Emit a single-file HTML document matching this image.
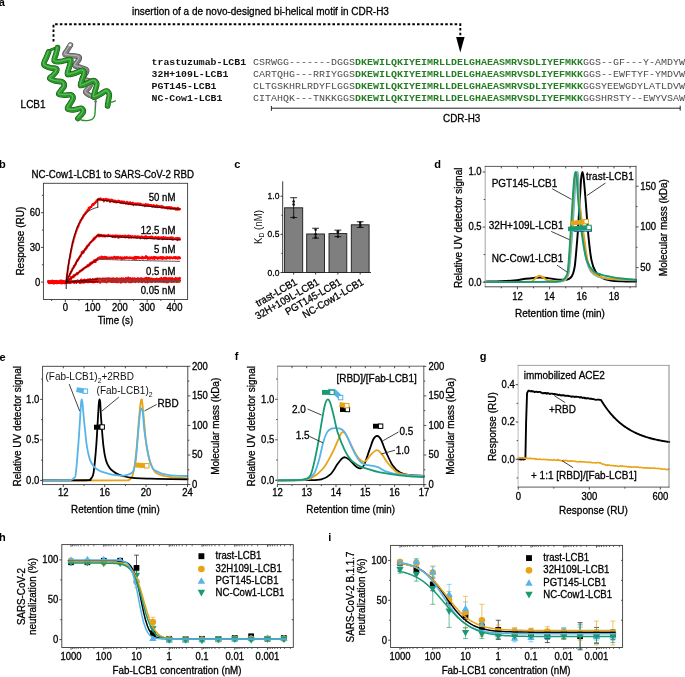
<!DOCTYPE html>
<html><head><meta charset="utf-8"><style>
html,body{margin:0;padding:0;background:#fff;}
svg{display:block;}
svg{font-family:"Liberation Sans",sans-serif;will-change:transform;}
</style></head><body>
<svg width="685" height="677" viewBox="0 0 685 677">
<rect width="685" height="677" fill="#fff"/>
<text transform="translate(-1.2 5.6)" font-size="11" text-anchor="start" font-weight="bold" fill="#000" font-family="&quot;Liberation Sans&quot;, sans-serif">a</text>
<text transform="translate(132 15) scale(1 1.08)" font-size="10" text-anchor="start" font-weight="normal" fill="#000" font-family="&quot;Liberation Sans&quot;, sans-serif" stroke="#000" stroke-width="0.28">insertion of a de novo-designed bi-helical motif in CDR-H3</text>
<path d="M53.5,41.5 V24.3 H460.3 V37" fill="none" stroke="#000" stroke-width="1.9" stroke-dasharray="2.6,2.1"/>
<polygon points="456.1,37.1 464.6,37.1 460.3,52.6" fill="#000"/>
<text transform="translate(20.6 108.4) scale(1 1.08)" font-size="10" text-anchor="start" font-weight="normal" fill="#000" font-family="&quot;Liberation Sans&quot;, sans-serif" stroke="#000" stroke-width="0.28">LCB1</text>
<g transform="translate(0 64.6) scale(1 0.87)">
<text x="151.6" y="0" font-family="&quot;Liberation Mono&quot;, monospace" font-size="9.85" font-weight="bold" fill="#111">trastuzumab-LCB1</text>
<text x="253" y="0" font-family="&quot;Liberation Mono&quot;, monospace" font-size="10" xml:space="preserve" textLength="432" lengthAdjust="spacing"><tspan fill="#4a4a4a">CSRWGG-------DGGS</tspan><tspan fill="#237f23" font-weight="bold">DKEWILQKIYEIMRLLDELGHAEASMRVSDLIYEFMKK</tspan><tspan fill="#4a4a4a">GGS--GF---Y-AMDYW</tspan></text>
</g>
<g transform="translate(0 76.5) scale(1 0.87)">
<text x="151.6" y="0" font-family="&quot;Liberation Mono&quot;, monospace" font-size="9.85" font-weight="bold" fill="#111">32H+109L-LCB1</text>
<text x="253" y="0" font-family="&quot;Liberation Mono&quot;, monospace" font-size="10" xml:space="preserve" textLength="432" lengthAdjust="spacing"><tspan fill="#4a4a4a">CARTQHG---RRIYGGS</tspan><tspan fill="#237f23" font-weight="bold">DKEWILQKIYEIMRLLDELGHAEASMRVSDLIYEFMKK</tspan><tspan fill="#4a4a4a">GGS--EWFTYF-YMDVW</tspan></text>
</g>
<g transform="translate(0 88.5) scale(1 0.87)">
<text x="151.6" y="0" font-family="&quot;Liberation Mono&quot;, monospace" font-size="9.85" font-weight="bold" fill="#111">PGT145-LCB1</text>
<text x="253" y="0" font-family="&quot;Liberation Mono&quot;, monospace" font-size="10" xml:space="preserve" textLength="432" lengthAdjust="spacing"><tspan fill="#4a4a4a">CLTGSKHRLRDYFLGGS</tspan><tspan fill="#237f23" font-weight="bold">DKEWILQKIYEIMRLLDELGHAEASMRVSDLIYEFMKK</tspan><tspan fill="#4a4a4a">GGSYEEWGDYLATLDVW</tspan></text>
</g>
<g transform="translate(0 100.6) scale(1 0.87)">
<text x="151.6" y="0" font-family="&quot;Liberation Mono&quot;, monospace" font-size="9.85" font-weight="bold" fill="#111">NC-Cow1-LCB1</text>
<text x="253" y="0" font-family="&quot;Liberation Mono&quot;, monospace" font-size="10" xml:space="preserve" textLength="432" lengthAdjust="spacing"><tspan fill="#4a4a4a">CITAHQK---TNKKGGS</tspan><tspan fill="#237f23" font-weight="bold">DKEWILQKIYEIMRLLDELGHAEASMRVSDLIYEFMKK</tspan><tspan fill="#4a4a4a">GGSHRSTY--EWYVSAW</tspan></text>
</g>
<line x1="271.4" y1="108.2" x2="680.2" y2="108.2" stroke="#222" stroke-width="1"/>
<line x1="271.4" y1="106" x2="271.4" y2="110.8" stroke="#222" stroke-width="1"/>
<line x1="680.2" y1="105.8" x2="680.2" y2="110.6" stroke="#222" stroke-width="1"/>
<text transform="translate(443 121.7) scale(1 1.08)" font-size="9.9" text-anchor="start" font-weight="normal" fill="#000" font-family="&quot;Liberation Sans&quot;, sans-serif" stroke="#000" stroke-width="0.28">CDR-H3</text>
<path d="M70.5,45 C69.92,45.92 67.92,48.92 67,50.5 C66.08,52.08 64.25,53.65 65,54.5 C65.75,55.35 69.25,55.25 71.5,55.6 C73.75,55.95 77.22,56.03 78.5,56.6 C79.78,57.17 79.62,57.85 79.2,59 C78.78,60.15 76.7,62.33 76,63.5 C75.3,64.67 74.25,65.33 75,66 C75.75,66.67 78.67,66.95 80.5,67.5 C82.33,68.05 85,68.55 86,69.3 C87,70.05 87,70.72 86.5,72 C86,73.28 83.67,75.83 83,77 C82.33,78.17 81.67,78.42 82.5,79 C83.33,79.58 86.5,79.92 88,80.5 C89.5,81.08 91.33,81.33 91.5,82.5 C91.67,83.67 90,85.92 89,87.5 C88,89.08 85.33,90.67 85.5,92 C85.67,93.33 88.42,94.67 90,95.5 C91.58,96.33 94.17,96.75 95,97" fill="none" stroke="#404040" stroke-width="5.3" stroke-linejoin="round" stroke-linecap="round"/>
<path d="M70.5,45 C69.92,45.92 67.92,48.92 67,50.5 C66.08,52.08 64.25,53.65 65,54.5 C65.75,55.35 69.25,55.25 71.5,55.6 C73.75,55.95 77.22,56.03 78.5,56.6 C79.78,57.17 79.62,57.85 79.2,59 C78.78,60.15 76.7,62.33 76,63.5 C75.3,64.67 74.25,65.33 75,66 C75.75,66.67 78.67,66.95 80.5,67.5 C82.33,68.05 85,68.55 86,69.3 C87,70.05 87,70.72 86.5,72 C86,73.28 83.67,75.83 83,77 C82.33,78.17 81.67,78.42 82.5,79 C83.33,79.58 86.5,79.92 88,80.5 C89.5,81.08 91.33,81.33 91.5,82.5 C91.67,83.67 90,85.92 89,87.5 C88,89.08 85.33,90.67 85.5,92 C85.67,93.33 88.42,94.67 90,95.5 C91.58,96.33 94.17,96.75 95,97" fill="none" stroke="#808080" stroke-width="4.3" stroke-linejoin="round" stroke-linecap="round"/>
<path d="M70.1,44.5 C69.52,45.42 67.52,48.42 66.6,50 C65.68,51.58 63.85,53.15 64.6,54 C65.35,54.85 68.85,54.75 71.1,55.1 C73.35,55.45 76.82,55.53 78.1,56.1 C79.38,56.67 79.22,57.35 78.8,58.5 C78.38,59.65 76.3,61.83 75.6,63 C74.9,64.17 73.85,64.83 74.6,65.5 C75.35,66.17 78.27,66.45 80.1,67 C81.93,67.55 84.6,68.05 85.6,68.8 C86.6,69.55 86.6,70.22 86.1,71.5 C85.6,72.78 83.27,75.33 82.6,76.5 C81.93,77.67 81.27,77.92 82.1,78.5 C82.93,79.08 86.1,79.42 87.6,80 C89.1,80.58 90.93,80.83 91.1,82 C91.27,83.17 89.6,85.42 88.6,87 C87.6,88.58 84.93,90.17 85.1,91.5 C85.27,92.83 88.02,94.17 89.6,95 C91.18,95.83 93.77,96.25 94.6,96.5" fill="none" stroke="#d8d8d8" stroke-width="1.2" stroke-linejoin="round" stroke-linecap="round" stroke-opacity="0.55"/>
<rect x="68.2" y="43.6" width="3.6" height="2.8" rx="1" fill="#f4f4f4" stroke="#777" stroke-width="0.6" transform="rotate(-35 70 45)"/>
<path d="M48,53.5 C48.25,53.02 48.67,51.37 49.5,50.6 C50.33,49.83 51.67,49.37 53,48.9 C54.33,48.43 56.75,47.98 57.5,47.8" fill="none" stroke="#0f4f0f" stroke-width="2.6" stroke-linejoin="round" stroke-linecap="round"/>
<path d="M48,53.5 C48.25,53.02 48.67,51.37 49.5,50.6 C50.33,49.83 51.67,49.37 53,48.9 C54.33,48.43 56.75,47.98 57.5,47.8" fill="none" stroke="#2a962a" stroke-width="1.8" stroke-linejoin="round" stroke-linecap="round"/>
<path d="M48.6,52 C48.27,52.83 47.38,54.93 46.6,57 C45.82,59.07 43.4,62.63 43.9,64.4 C44.4,66.17 47.58,66.9 49.6,67.6 C51.62,68.3 54.85,68.03 56,68.6 C57.15,69.17 57.03,69.85 56.5,71 C55.97,72.15 53.92,74.23 52.8,75.5 C51.68,76.77 49.35,77.68 49.8,78.6 C50.25,79.52 53.43,80.43 55.5,81 C57.57,81.57 60.75,81.17 62.2,82 C63.65,82.83 64.4,84.58 64.2,86 C64,87.42 61.9,89.13 61,90.5 C60.1,91.87 58.22,93.42 58.8,94.2 C59.38,94.98 62.47,95.1 64.5,95.2 C66.53,95.3 69.58,94.25 71,94.8 C72.42,95.35 73.17,96.97 73,98.5 C72.83,100.03 70.9,102.28 70,104 C69.1,105.72 66.85,107.83 67.6,108.8 C68.35,109.77 72.23,109.9 74.5,109.8 C76.77,109.7 79.72,107.87 81.2,108.2 C82.68,108.53 83.52,110.58 83.4,111.8 C83.28,113.02 81.42,114.38 80.5,115.5 C79.58,116.62 78.33,118 77.9,118.5" fill="none" stroke="#0f4f0f" stroke-width="5.6" stroke-linejoin="round" stroke-linecap="round"/>
<path d="M48.6,52 C48.27,52.83 47.38,54.93 46.6,57 C45.82,59.07 43.4,62.63 43.9,64.4 C44.4,66.17 47.58,66.9 49.6,67.6 C51.62,68.3 54.85,68.03 56,68.6 C57.15,69.17 57.03,69.85 56.5,71 C55.97,72.15 53.92,74.23 52.8,75.5 C51.68,76.77 49.35,77.68 49.8,78.6 C50.25,79.52 53.43,80.43 55.5,81 C57.57,81.57 60.75,81.17 62.2,82 C63.65,82.83 64.4,84.58 64.2,86 C64,87.42 61.9,89.13 61,90.5 C60.1,91.87 58.22,93.42 58.8,94.2 C59.38,94.98 62.47,95.1 64.5,95.2 C66.53,95.3 69.58,94.25 71,94.8 C72.42,95.35 73.17,96.97 73,98.5 C72.83,100.03 70.9,102.28 70,104 C69.1,105.72 66.85,107.83 67.6,108.8 C68.35,109.77 72.23,109.9 74.5,109.8 C76.77,109.7 79.72,107.87 81.2,108.2 C82.68,108.53 83.52,110.58 83.4,111.8 C83.28,113.02 81.42,114.38 80.5,115.5 C79.58,116.62 78.33,118 77.9,118.5" fill="none" stroke="#2a962a" stroke-width="4.6" stroke-linejoin="round" stroke-linecap="round"/>
<path d="M48.2,51.5 C47.87,52.33 46.98,54.43 46.2,56.5 C45.42,58.57 43,62.13 43.5,63.9 C44,65.67 47.18,66.4 49.2,67.1 C51.22,67.8 54.45,67.53 55.6,68.1 C56.75,68.67 56.63,69.35 56.1,70.5 C55.57,71.65 53.52,73.73 52.4,75 C51.28,76.27 48.95,77.18 49.4,78.1 C49.85,79.02 53.03,79.93 55.1,80.5 C57.17,81.07 60.35,80.67 61.8,81.5 C63.25,82.33 64,84.08 63.8,85.5 C63.6,86.92 61.5,88.63 60.6,90 C59.7,91.37 57.82,92.92 58.4,93.7 C58.98,94.48 62.07,94.6 64.1,94.7 C66.13,94.8 69.18,93.75 70.6,94.3 C72.02,94.85 72.77,96.47 72.6,98 C72.43,99.53 70.5,101.78 69.6,103.5 C68.7,105.22 66.45,107.33 67.2,108.3 C67.95,109.27 71.83,109.4 74.1,109.3 C76.37,109.2 79.32,107.37 80.8,107.7 C82.28,108.03 83.12,110.08 83,111.3 C82.88,112.52 81.02,113.88 80.1,115 C79.18,116.12 77.93,117.5 77.5,118" fill="none" stroke="#7ee07e" stroke-width="1.29" stroke-linejoin="round" stroke-linecap="round" stroke-opacity="0.55"/>
<path d="M57.5,47.6 C57.25,48.67 56.53,51.77 56,54 C55.47,56.23 53.47,59.75 54.3,61 C55.13,62.25 58.47,61.75 61,61.5 C63.53,61.25 67.87,59.5 69.5,59.5 C71.13,59.5 70.88,60.08 70.8,61.5 C70.72,62.92 69.53,65.85 69,68 C68.47,70.15 66.68,73.53 67.6,74.4 C68.52,75.27 72.03,73.87 74.5,73.2 C76.97,72.53 80.78,70.35 82.4,70.4 C84.02,70.45 84.27,71.9 84.2,73.5 C84.13,75.1 82.6,77.98 82,80 C81.4,82.02 79.77,85.02 80.6,85.6 C81.43,86.18 84.85,84.33 87,83.5 C89.15,82.67 91.87,80.52 93.5,80.6 C95.13,80.68 96.55,82.27 96.8,84 C97.05,85.73 95.5,88.8 95,91 C94.5,93.2 92.97,96.62 93.8,97.2 C94.63,97.78 97.93,95.53 100,94.5 C102.07,93.47 104.65,91 106.2,91 C107.75,91 108.93,92.92 109.3,94.5 C109.67,96.08 108.68,98.58 108.4,100.5 C108.12,102.42 107.73,105.08 107.6,106" fill="none" stroke="#0f4f0f" stroke-width="5.6" stroke-linejoin="round" stroke-linecap="round"/>
<path d="M57.5,47.6 C57.25,48.67 56.53,51.77 56,54 C55.47,56.23 53.47,59.75 54.3,61 C55.13,62.25 58.47,61.75 61,61.5 C63.53,61.25 67.87,59.5 69.5,59.5 C71.13,59.5 70.88,60.08 70.8,61.5 C70.72,62.92 69.53,65.85 69,68 C68.47,70.15 66.68,73.53 67.6,74.4 C68.52,75.27 72.03,73.87 74.5,73.2 C76.97,72.53 80.78,70.35 82.4,70.4 C84.02,70.45 84.27,71.9 84.2,73.5 C84.13,75.1 82.6,77.98 82,80 C81.4,82.02 79.77,85.02 80.6,85.6 C81.43,86.18 84.85,84.33 87,83.5 C89.15,82.67 91.87,80.52 93.5,80.6 C95.13,80.68 96.55,82.27 96.8,84 C97.05,85.73 95.5,88.8 95,91 C94.5,93.2 92.97,96.62 93.8,97.2 C94.63,97.78 97.93,95.53 100,94.5 C102.07,93.47 104.65,91 106.2,91 C107.75,91 108.93,92.92 109.3,94.5 C109.67,96.08 108.68,98.58 108.4,100.5 C108.12,102.42 107.73,105.08 107.6,106" fill="none" stroke="#2a962a" stroke-width="4.6" stroke-linejoin="round" stroke-linecap="round"/>
<path d="M57.1,47.1 C56.85,48.17 56.13,51.27 55.6,53.5 C55.07,55.73 53.07,59.25 53.9,60.5 C54.73,61.75 58.07,61.25 60.6,61 C63.13,60.75 67.47,59 69.1,59 C70.73,59 70.48,59.58 70.4,61 C70.32,62.42 69.13,65.35 68.6,67.5 C68.07,69.65 66.28,73.03 67.2,73.9 C68.12,74.77 71.63,73.37 74.1,72.7 C76.57,72.03 80.38,69.85 82,69.9 C83.62,69.95 83.87,71.4 83.8,73 C83.73,74.6 82.2,77.48 81.6,79.5 C81,81.52 79.37,84.52 80.2,85.1 C81.03,85.68 84.45,83.83 86.6,83 C88.75,82.17 91.47,80.02 93.1,80.1 C94.73,80.18 96.15,81.77 96.4,83.5 C96.65,85.23 95.1,88.3 94.6,90.5 C94.1,92.7 92.57,96.12 93.4,96.7 C94.23,97.28 97.53,95.03 99.6,94 C101.67,92.97 104.25,90.5 105.8,90.5 C107.35,90.5 108.53,92.42 108.9,94 C109.27,95.58 108.28,98.08 108,100 C107.72,101.92 107.33,104.58 107.2,105.5" fill="none" stroke="#7ee07e" stroke-width="1.29" stroke-linejoin="round" stroke-linecap="round" stroke-opacity="0.55"/>
<path d="M107.6,104 C108.25,103.7 110.2,102.73 111.5,102.2 C112.8,101.67 114.75,101.03 115.4,100.8" fill="none" stroke="#2a962a" stroke-width="1.3" stroke-linejoin="round" stroke-linecap="round"/>
<path d="M78,118.6 C78.67,118.87 80.5,119.87 82,120.2 C83.5,120.53 85.33,120.73 87,120.6 C88.67,120.47 90.73,120.17 92,119.4 C93.27,118.63 94.07,117.57 94.6,116 C95.13,114.43 95.05,112.17 95.2,110 C95.35,107.83 95.45,104.17 95.5,103" fill="none" stroke="#2a962a" stroke-width="1.4" stroke-linejoin="round" stroke-linecap="round"/>
<line x1="95.5" y1="108" x2="95.6" y2="101" stroke="#666" stroke-width="1.1"/>
<polygon points="94.0,102.2 97.2,102.2 95.6,98.2" fill="#6a6a6a"/>
<text transform="translate(-0.9 167.9)" font-size="11" text-anchor="start" font-weight="bold" fill="#000" font-family="&quot;Liberation Sans&quot;, sans-serif">b</text>
<text transform="translate(31.5 178.2) scale(1 1.08)" font-size="9.7" text-anchor="start" font-weight="normal" fill="#000" font-family="&quot;Liberation Sans&quot;, sans-serif" stroke="#000" stroke-width="0.28">NC-Cow1-LCB1 to SARS-CoV-2 RBD</text>
<polyline points="48.37,281.17 48.62,281.87 48.87,282.05 49.11,283.07 49.36,282.24 49.6,282.28 49.85,282.14 50.09,282.43 50.34,282.12 50.59,282.35 50.83,282.78 51.08,281.64 51.32,281.64 51.57,281.21 51.81,282.07 52.06,282.31 52.31,282.38 52.55,282.91 52.8,281.59 53.04,282.67 53.29,282.72 53.53,282.21 53.78,281.33 54.03,281.98 54.27,282.63 54.52,282.47 54.76,281.77 55.01,282.18 55.25,282.5 55.5,282.22 55.74,281.71 55.99,281.07 56.24,282.75 56.48,282.43 56.73,282.52 56.97,283.36 57.22,282.58 57.46,282.63 57.71,281.51 57.96,282.17 58.2,282.95 58.45,281.76 58.69,282.29 58.94,283.01 59.18,282.41 59.43,282.41 59.68,282.55 59.92,282.08 60.17,283.27 60.41,282.24 60.66,281.57 60.9,281.66 61.15,281.52 61.4,281.52 61.64,281.33 61.89,282.68 62.13,281.66 62.38,283.07 62.62,282.41 62.87,283.1 63.12,281.55 63.36,281.41 63.61,282.2 63.85,281.18 64.1,282.45 64.34,282.02 64.59,282.02 64.84,282.65 65.08,281.87 65.33,281.09 65.57,282.63 65.82,281.63 66.06,282.18 66.31,280.26 66.56,278.92 66.8,276.86 67.05,274.97 67.29,273.32 67.54,272.38 67.78,269.18 68.03,268.92 68.28,266.43 68.52,264.63 68.77,263.82 69.01,261.79 69.26,259.78 69.5,258.96 69.75,258.01 70,257.71 70.24,255.37 70.49,253.88 70.73,252.59 70.98,251.6 71.22,249.72 71.47,249.06 71.72,247.69 71.96,246.18 72.21,245.91 72.45,244.58 72.7,242.29 72.94,241.97 73.19,242.13 73.44,240.56 73.68,239.31 73.93,238.07 74.17,237.77 74.42,237.27 74.66,236.55 74.91,235.02 75.16,234.41 75.4,234.07 75.65,233.15 75.89,232.54 76.14,231.23 76.38,231.27 76.63,229.97 76.88,229.11 77.12,228.65 77.37,228.7 77.61,226.94 77.86,227.39 78.1,226.22 78.35,226.25 78.6,226.2 78.84,224.61 79.09,224.03 79.33,223.69 79.58,222.98 79.82,222.95 80.07,222.49 80.31,221.71 80.56,220.14 80.81,220.24 81.05,220.47 81.3,219.45 81.54,219.55 81.79,219.1 82.03,217.98 82.28,218.28 82.53,218.47 82.77,217.66 83.02,216.74 83.26,216.33 83.51,215.36 83.75,216 84,214.87 84.25,214.66 84.49,214.6 84.74,213.73 84.98,213.56 85.23,213.92 85.47,212.58 85.72,213.43 85.97,212.44 86.21,212.14 86.46,211.6 86.7,211.89 86.95,211.21 87.19,210.96 87.44,210.07 87.69,210.7 87.93,209.95 88.18,209.83 88.42,210.08 88.67,207.73 88.91,208.88 89.16,209.34 89.41,207.56 89.65,208.57 89.9,207.55 90.14,207.03 90.39,207.55 90.63,207.18 90.88,206.98 91.13,206.51 91.37,207.03 91.62,206.58 91.86,205.76 92.11,204.9 92.35,204.87 92.6,204.05 92.85,204.35 93.09,204.74 93.34,204.3 93.58,205.06 93.83,204.27 94.07,204.07 94.32,203.17 94.57,202.75 94.81,203.15 95.06,202.94 95.3,203.22 95.55,202.26 95.79,201.84 96.04,201.52 96.29,201.94 96.53,200.28 96.78,200.48 97.02,200.94 97.27,200.95 97.51,200.63 97.76,200.17 98.01,199.29 98.25,199.06 98.5,198.94 98.74,198.66 98.99,198.81 99.23,199.49 99.48,199.26 99.73,199.69 99.97,199.83 100.22,198.56 100.46,199.82 100.71,198.57 100.95,199.82 101.2,199.54 101.45,199.13 101.69,199.72 101.94,199.55 102.18,199.91 102.43,200.07 102.67,199.93 102.92,200.22 103.17,199.06 103.41,200.02 103.66,199.07 103.9,201.39 104.15,200.02 104.39,199.76 104.64,200.24 104.89,199.55 105.13,199.81 105.38,200.32 105.62,199.98 105.87,198.77 106.11,200.13 106.36,200.14 106.6,200.55 106.85,200.28 107.1,201.05 107.34,200.52 107.59,199.16 107.83,199.92 108.08,200.17 108.32,199.96 108.57,199.58 108.82,200.28 109.06,199.54 109.31,200.09 109.55,200.59 109.8,199.81 110.04,201.97 110.29,201.07 110.54,200.66 110.78,201.3 111.03,200.94 111.27,201.22 111.52,201.26 111.76,199.53 112.01,200.65 112.26,201.03 112.5,200.35 112.75,201.19 112.99,200.63 113.24,200.94 113.48,200.31 113.73,201.92 113.98,200.81 114.22,201.18 114.47,201.87 114.71,200.75 114.96,201.79 115.2,200.52 115.45,201.12 115.7,201.06 115.94,201.41 116.19,201.01 116.43,202.48 116.68,201.5 116.92,201.9 117.17,201.45 117.42,201.65 117.66,201.34 117.91,202.12 118.15,200.76 118.4,200.54 118.64,201.88 118.89,201.81 119.14,201.69 119.38,201.21 119.63,200.91 119.87,202.55 120.12,202.27 120.36,202.54 120.61,202.59 120.86,202.9 121.1,201.88 121.35,202.71 121.59,201.35 121.84,201.69 122.08,202.73 122.33,202.76 122.58,202.57 122.82,201.55 123.07,202.75 123.31,203.12 123.56,202.39 123.8,202.2 124.05,202.77 124.3,201.61 124.54,202.36 124.79,202.28 125.03,202.99 125.28,202.6 125.52,202.69 125.77,203.82 126.02,202.52 126.26,203.63 126.51,202.74 126.75,203.52 127,201.73 127.24,202.64 127.49,202.4 127.74,202.39 127.98,203.59 128.23,204.12 128.47,203.13 128.72,202.52 128.96,202.97 129.21,202.64 129.46,202.59 129.7,203.89 129.95,202.99 130.19,202.15 130.44,203.5 130.68,204.29 130.93,203.38 131.17,203.53 131.42,203.1 131.67,203.81 131.91,203.33 132.16,204.56 132.4,202.99 132.65,202.64 132.89,202.82 133.14,204.31 133.39,203.39 133.63,205.14 133.88,203.47 134.12,203.68 134.37,204.19 134.61,203.52 134.86,203.66 135.11,203.27 135.35,203.73 135.6,203.7 135.84,204.86 136.09,204.49 136.33,204.16 136.58,203.79 136.83,203.97 137.07,203.22 137.32,204.48 137.56,204.18 137.81,203.96 138.05,204.24 138.3,203.89 138.55,204.47 138.79,203.47 139.04,204.4 139.28,203.69 139.53,204.31 139.77,203.55 140.02,205.08 140.27,204.12 140.51,204.64 140.76,204.32 141,203.85 141.25,205.1 141.49,205.22 141.74,205.08 141.99,204.46 142.23,205.61 142.48,204.6 142.72,205.35 142.97,205.31 143.21,204.93 143.46,204.57 143.71,205.13 143.95,205.09 144.2,204.88 144.44,205.03 144.69,206.31 144.93,205.17 145.18,204.93 145.43,204.44 145.67,203.97 145.92,204.72 146.16,205.06 146.41,205.63 146.65,205.11 146.9,204.78 147.15,204.56 147.39,205.7 147.64,205.15 147.88,204.88 148.13,204.37 148.37,205.23 148.62,205.68 148.87,205.78 149.11,205.64 149.36,205.82 149.6,205.08 149.85,204.99 150.09,205.19 150.34,204.98 150.59,205.87 150.83,205.46 151.08,205.89 151.32,205.7 151.57,205.11 151.81,205.79 152.06,206.78 152.31,205.97 152.55,206.24 152.8,206.68 153.04,206.34 153.29,205.46 153.53,205.11 153.78,206.27 154.02,205.52 154.27,205.46 154.52,206.71 154.76,206.16 155.01,206.19 155.25,206.1 155.5,207.05 155.74,206.44 155.99,205.73 156.24,205.66 156.48,205.39 156.73,206.55 156.97,205.43 157.22,206.08 157.46,207.17 157.71,206.09 157.96,206.7 158.2,206.28 158.45,206.63 158.69,205.98 158.94,206.51 159.18,206.82 159.43,206.2 159.68,206.59 159.92,206.97 160.17,206.12 160.41,207.03 160.66,207.18 160.9,207.16 161.15,207.67 161.4,207.22 161.64,206 161.89,207.47 162.13,207.02 162.38,207.63 162.62,207.4 162.87,206.32 163.12,206.68 163.36,207.49 163.61,207.2 163.85,207.66 164.1,207.67 164.34,207.77 164.59,207.79 164.84,207.18 165.08,207.07 165.33,207.16 165.57,207.53 165.82,208.18 166.06,207.53 166.31,208.01 166.56,207.1 166.8,207.3 167.05,207.23 167.29,207.83 167.54,208.62 167.78,207.21 168.03,207.1 168.28,208.54 168.52,207.72 168.77,207.2 169.01,208.41 169.26,206.96 169.5,208.1 169.75,208.5 170,207.26 170.24,207.85 170.49,208.37 170.73,207.6 170.98,209.11 171.22,207.18 171.47,208.58 171.72,208.03 171.96,208.42 172.21,208.01 172.45,207.81 172.7,208.73 172.94,207.92 173.19,208.51 173.44,208.75 173.68,208.53 173.93,208.97 174.17,208.89 174.42,208.01 174.66,208.62 174.91,207.97 175.16,208.37 175.4,209.16 175.65,209.64 175.89,209.04 176.14,208.58 176.38,208.74 176.63,209.21 176.88,208.28 177.12,209.74 177.37,209.52 177.61,208.83 177.86,207.78 178.1,208.74 178.35,209.51 178.59,208.7 178.84,208.69 179.09,208.58 179.33,209.31 179.58,209.55 179.82,209.1 180.07,208.97" fill="none" stroke="#ff0000" stroke-width="2" stroke-linejoin="round" stroke-linecap="round"/>
<polyline points="48.37,281.27 48.62,281.01 48.87,282.48 49.11,282.37 49.36,282.13 49.6,282.23 49.85,281.85 50.09,281.85 50.34,281.97 50.59,281.4 50.83,282.18 51.08,282.65 51.32,282.91 51.57,282.64 51.81,282.64 52.06,283.08 52.31,281.75 52.55,282 52.8,282.32 53.04,282.56 53.29,282.92 53.53,282.58 53.78,281.14 54.03,283.25 54.27,282.03 54.52,281.71 54.76,282.03 55.01,282.26 55.25,281.7 55.5,282.67 55.74,281.81 55.99,281.36 56.24,282.64 56.48,282.53 56.73,282.03 56.97,281.58 57.22,281.4 57.46,281.75 57.71,282.45 57.96,282.68 58.2,281.97 58.45,281.89 58.69,282.67 58.94,282.07 59.18,281.93 59.43,281.56 59.68,282.62 59.92,281.81 60.17,282.71 60.41,282.32 60.66,282.14 60.9,281.31 61.15,280.37 61.4,281.97 61.64,281.84 61.89,281.58 62.13,282.81 62.38,281.7 62.62,282.75 62.87,281.25 63.12,281.35 63.36,281.84 63.61,282.52 63.85,281.23 64.1,281.96 64.34,282.04 64.59,281.8 64.84,282.99 65.08,281.88 65.33,281.58 65.57,281.92 65.82,282.02 66.06,282.6 66.31,281.52 66.56,281.21 66.8,280.77 67.05,280.53 67.29,279.26 67.54,278.53 67.78,278.45 68.03,277.66 68.28,276.92 68.52,276.27 68.77,276.47 69.01,276.19 69.26,275.79 69.5,275.07 69.75,274.29 70,273.59 70.24,273.81 70.49,273.03 70.73,273.14 70.98,271.48 71.22,271.86 71.47,271 71.72,271.09 71.96,270.4 72.21,270.14 72.45,268.43 72.7,268.67 72.94,268.49 73.19,268.44 73.44,267.82 73.68,266.76 73.93,265.74 74.17,266.92 74.42,266.21 74.66,265.39 74.91,265.19 75.16,265.3 75.4,264 75.65,263.2 75.89,263.99 76.14,262.64 76.38,261.83 76.63,261.41 76.88,261.73 77.12,259.91 77.37,260.42 77.61,260.73 77.86,259.39 78.1,260.1 78.35,258.65 78.6,259.38 78.84,257.93 79.09,258.26 79.33,256.98 79.58,256.81 79.82,256.58 80.07,256.41 80.31,255.5 80.56,256.64 80.81,255.11 81.05,254.75 81.3,254.31 81.54,253.81 81.79,251.96 82.03,253.47 82.28,252.76 82.53,252.75 82.77,251.66 83.02,253.19 83.26,250.91 83.51,251.81 83.75,252.29 84,251.34 84.25,250.53 84.49,250.01 84.74,249.8 84.98,249.03 85.23,249.15 85.47,248.84 85.72,249.6 85.97,247.91 86.21,247.32 86.46,247.75 86.7,248.2 86.95,247.61 87.19,245.73 87.44,246.61 87.69,246.34 87.93,246.12 88.18,245.04 88.42,245.4 88.67,245.25 88.91,245.29 89.16,244.27 89.41,243.4 89.65,243.71 89.9,242.89 90.14,242.97 90.39,242.7 90.63,242.41 90.88,242.21 91.13,241.41 91.37,241.42 91.62,241.7 91.86,241.06 92.11,240.9 92.35,240.34 92.6,240.23 92.85,239.85 93.09,240.57 93.34,239.34 93.58,238.6 93.83,239.73 94.07,237.94 94.32,238.36 94.57,238.37 94.81,238.95 95.06,237.2 95.3,238.02 95.55,237.54 95.79,236.75 96.04,237.32 96.29,237.06 96.53,236.91 96.78,236.13 97.02,235.53 97.27,235.4 97.51,235.16 97.76,235.32 98.01,235.41 98.25,235.85 98.5,234.46 98.74,235.41 98.99,236.54 99.23,236.09 99.48,234.71 99.73,236.26 99.97,235.79 100.22,235.36 100.46,236.15 100.71,235.03 100.95,234.72 101.2,236.04 101.45,235.03 101.69,236.09 101.94,236.16 102.18,235.52 102.43,235.53 102.67,235.98 102.92,235.24 103.17,236.45 103.41,236.14 103.66,236.26 103.9,235.32 104.15,235.3 104.39,235.39 104.64,236.42 104.89,235.68 105.13,235.52 105.38,236.61 105.62,236.21 105.87,235.45 106.11,235.43 106.36,235.68 106.6,235.54 106.85,235.66 107.1,235.76 107.34,235.91 107.59,236.31 107.83,236 108.08,236.09 108.32,234.68 108.57,235.76 108.82,235.91 109.06,236.04 109.31,235.99 109.55,236.08 109.8,235.66 110.04,235.97 110.29,235.54 110.54,236.34 110.78,235.8 111.03,235.54 111.27,236.6 111.52,235.93 111.76,235.89 112.01,236.21 112.26,236.3 112.5,237.02 112.75,235.46 112.99,236.56 113.24,236.73 113.48,235.75 113.73,237.05 113.98,235.61 114.22,235.89 114.47,235.82 114.71,236.22 114.96,236.78 115.2,237.14 115.45,235.41 115.7,236.42 115.94,236.46 116.19,235.37 116.43,236.53 116.68,236.34 116.92,236.35 117.17,236.31 117.42,236.79 117.66,236.55 117.91,235.59 118.15,235.88 118.4,237.83 118.64,237.31 118.89,236.13 119.14,236.37 119.38,236.52 119.63,235.79 119.87,237.27 120.12,235.73 120.36,236.29 120.61,236.08 120.86,236.25 121.1,235.95 121.35,236.53 121.59,236.69 121.84,236.01 122.08,236.34 122.33,237.09 122.58,235.74 122.82,235.83 123.07,235.72 123.31,236.43 123.56,236.3 123.8,236.69 124.05,237.01 124.3,236.48 124.54,236.43 124.79,236.88 125.03,235.59 125.28,237.39 125.52,236.99 125.77,236.92 126.02,235.91 126.26,236.73 126.51,236.77 126.75,237.07 127,237.02 127.24,237.31 127.49,236.11 127.74,236.33 127.98,236.14 128.23,237.01 128.47,235.37 128.72,237.2 128.96,237.77 129.21,236.86 129.46,236.65 129.7,236.33 129.95,237.27 130.19,236.44 130.44,235.87 130.68,237.21 130.93,237.16 131.17,237.67 131.42,236.67 131.67,236.36 131.91,236.41 132.16,236.39 132.4,236.1 132.65,236.78 132.89,236.36 133.14,237.36 133.39,237.28 133.63,236.76 133.88,237.32 134.12,236.6 134.37,236.19 134.61,236.71 134.86,237.31 135.11,237.33 135.35,236.24 135.6,237.37 135.84,236.92 136.09,237.11 136.33,236.96 136.58,236.43 136.83,237.29 137.07,237.75 137.32,236.27 137.56,236.92 137.81,236.67 138.05,237.07 138.3,236.66 138.55,236.42 138.79,236.37 139.04,237.24 139.28,237.29 139.53,236.91 139.77,237.01 140.02,236.84 140.27,237.51 140.51,238.36 140.76,236.93 141,236.76 141.25,236.85 141.49,236.33 141.74,236.76 141.99,237.41 142.23,236.71 142.48,237.27 142.72,236.59 142.97,237.12 143.21,237.02 143.46,237.15 143.71,237.25 143.95,238.07 144.2,237.27 144.44,238.49 144.69,237.06 144.93,236.81 145.18,236.27 145.43,237.15 145.67,237.73 145.92,238.19 146.16,236.36 146.41,238.13 146.65,236.93 146.9,238.6 147.15,237.44 147.39,237.07 147.64,237.26 147.88,237.46 148.13,237.88 148.37,237.93 148.62,236.95 148.87,237.25 149.11,237.57 149.36,237.39 149.6,237.99 149.85,236.99 150.09,236.87 150.34,237.94 150.59,237.49 150.83,237.01 151.08,237.9 151.32,236.52 151.57,236.8 151.81,237.74 152.06,237.1 152.31,236.75 152.55,238.27 152.8,237.31 153.04,237.72 153.29,237.77 153.53,237.29 153.78,237.92 154.02,238.41 154.27,238.43 154.52,237.71 154.76,237.38 155.01,237.73 155.25,237.81 155.5,237.76 155.74,237.08 155.99,237.48 156.24,238.16 156.48,237.93 156.73,237.16 156.97,238.1 157.22,238.01 157.46,237.83 157.71,238.38 157.96,237.37 158.2,238.99 158.45,237.1 158.69,238.09 158.94,238.53 159.18,237.74 159.43,238.79 159.68,237.62 159.92,237.51 160.17,238.22 160.41,238.14 160.66,237.45 160.9,238.3 161.15,237.95 161.4,237.79 161.64,237.17 161.89,238.25 162.13,237.98 162.38,237.42 162.62,239.35 162.87,238.17 163.12,239.03 163.36,239.01 163.61,237.04 163.85,237.96 164.1,237.31 164.34,238.21 164.59,237.82 164.84,238.33 165.08,238.4 165.33,238.17 165.57,238.07 165.82,237.35 166.06,238.26 166.31,237.97 166.56,238.31 166.8,238.11 167.05,238.88 167.29,237.64 167.54,238.48 167.78,238.2 168.03,238.34 168.28,237.73 168.52,237.98 168.77,238.26 169.01,238.18 169.26,238.1 169.5,237.9 169.75,238.04 170,237.64 170.24,237.48 170.49,238.01 170.73,239.03 170.98,237.44 171.22,237.24 171.47,238.56 171.72,238.59 171.96,239.46 172.21,237.99 172.45,238.93 172.7,237.46 172.94,239.72 173.19,238.4 173.44,238.09 173.68,238.66 173.93,238.88 174.17,238.34 174.42,238.76 174.66,238.67 174.91,238.52 175.16,238.8 175.4,238.64 175.65,238.12 175.89,238.75 176.14,238.47 176.38,238.95 176.63,238.1 176.88,239.25 177.12,238.09 177.37,240.18 177.61,239.08 177.86,239.45 178.1,238.1 178.35,238.5 178.59,239.33 178.84,238.96 179.09,237.97 179.33,238.71 179.58,238.4 179.82,239.49 180.07,239.5" fill="none" stroke="#ff0000" stroke-width="2" stroke-linejoin="round" stroke-linecap="round"/>
<polyline points="48.37,281.81 48.62,280.91 48.87,282.39 49.11,281.8 49.36,282.6 49.6,281.46 49.85,282.35 50.09,282.34 50.34,283.1 50.59,282.33 50.83,282.02 51.08,281.4 51.32,282.73 51.57,281.61 51.81,282.3 52.06,282.27 52.31,282.61 52.55,283 52.8,282.75 53.04,281.27 53.29,282.74 53.53,282.35 53.78,281.55 54.03,283.22 54.27,281.89 54.52,282.39 54.76,282.03 55.01,281.68 55.25,282.21 55.5,282.23 55.74,281.75 55.99,281.8 56.24,282.5 56.48,282.23 56.73,282.83 56.97,281.46 57.22,282.76 57.46,282.03 57.71,281.22 57.96,281.71 58.2,282.28 58.45,282.5 58.69,282.45 58.94,281.65 59.18,281.95 59.43,282.12 59.68,280.76 59.92,282.55 60.17,282.37 60.41,282.31 60.66,282 60.9,281.96 61.15,282.26 61.4,281.73 61.64,281.84 61.89,282.27 62.13,283.4 62.38,281.71 62.62,282.62 62.87,282.46 63.12,282.2 63.36,282.77 63.61,282.55 63.85,282.1 64.1,282.32 64.34,281.98 64.59,282.59 64.84,282.27 65.08,282.7 65.33,282.3 65.57,282 65.82,282.27 66.06,282.89 66.31,282.16 66.56,281.78 66.8,281.07 67.05,281.48 67.29,281.47 67.54,281.67 67.78,279.82 68.03,281.15 68.28,281.05 68.52,280.34 68.77,281.01 69.01,279.31 69.26,279.57 69.5,279.22 69.75,279.78 70,279.34 70.24,278.44 70.49,278.22 70.73,277.01 70.98,277.72 71.22,279.09 71.47,277.86 71.72,277.9 71.96,276.95 72.21,277.37 72.45,276.88 72.7,277.1 72.94,276.43 73.19,275.79 73.44,276.68 73.68,277.23 73.93,276.52 74.17,274.98 74.42,275.48 74.66,275.56 74.91,275.72 75.16,274.48 75.4,274.69 75.65,274.71 75.89,274.75 76.14,274.36 76.38,274.26 76.63,273.61 76.88,273.05 77.12,274.55 77.37,274.1 77.61,273.21 77.86,272.93 78.1,273.6 78.35,272.93 78.6,272.63 78.84,272.47 79.09,272.3 79.33,271.92 79.58,271.23 79.82,271.12 80.07,271.01 80.31,271 80.56,271.33 80.81,271.03 81.05,270.24 81.3,270.36 81.54,269.82 81.79,269.92 82.03,269.84 82.28,269.47 82.53,270.32 82.77,269.42 83.02,269.46 83.26,268.54 83.51,269.15 83.75,268.5 84,268.67 84.25,268.02 84.49,267.72 84.74,268.03 84.98,267.69 85.23,267.48 85.47,266.99 85.72,267.39 85.97,267.02 86.21,267.09 86.46,267.2 86.7,266.43 86.95,266.13 87.19,266.6 87.44,265.19 87.69,266.22 87.93,265.27 88.18,265.29 88.42,266.21 88.67,265.16 88.91,265.8 89.16,264.86 89.41,264.28 89.65,263.5 89.9,263.89 90.14,264.92 90.39,264.14 90.63,263 90.88,263.52 91.13,262.53 91.37,263.66 91.62,263.4 91.86,263.65 92.11,262.98 92.35,261.96 92.6,262.93 92.85,261.84 93.09,261.87 93.34,261.53 93.58,261.91 93.83,261.6 94.07,260.33 94.32,261.93 94.57,260.72 94.81,260.16 95.06,260.55 95.3,259.76 95.55,262.01 95.79,260.46 96.04,260.75 96.29,260.2 96.53,259.87 96.78,259.4 97.02,259.94 97.27,258.88 97.51,259.99 97.76,258.51 98.01,257.98 98.25,258.78 98.5,258.78 98.74,258.79 98.99,258.38 99.23,257.8 99.48,257.17 99.73,257.45 99.97,258.56 100.22,259.06 100.46,258.02 100.71,258.61 100.95,257.96 101.2,258.23 101.45,256.53 101.69,258.77 101.94,257.71 102.18,256.9 102.43,258.09 102.67,258.28 102.92,257 103.17,258.98 103.41,258.77 103.66,258.52 103.9,257.67 104.15,257.47 104.39,257.94 104.64,256.74 104.89,257.98 105.13,257.87 105.38,258.03 105.62,257.23 105.87,257.86 106.11,258.07 106.36,256.98 106.6,257.19 106.85,257.33 107.1,258.52 107.34,258.42 107.59,257.98 107.83,257.99 108.08,258.08 108.32,257.97 108.57,257.51 108.82,258.38 109.06,257.72 109.31,258.05 109.55,258.1 109.8,257.99 110.04,257.45 110.29,257.69 110.54,258.25 110.78,257.66 111.03,257.76 111.27,257.62 111.52,257.97 111.76,257.3 112.01,257.62 112.26,258.42 112.5,258.49 112.75,258.56 112.99,257.61 113.24,258.18 113.48,258 113.73,257.85 113.98,257.17 114.22,256.67 114.47,257.87 114.71,256.77 114.96,257.52 115.2,257.18 115.45,257.95 115.7,258.46 115.94,257.55 116.19,257.13 116.43,258.62 116.68,257.84 116.92,257.69 117.17,257.49 117.42,258.37 117.66,258.1 117.91,257.32 118.15,256.86 118.4,257.75 118.64,257.29 118.89,257.72 119.14,257.58 119.38,258.01 119.63,257.92 119.87,258.11 120.12,257.75 120.36,257.23 120.61,257.71 120.86,257.46 121.1,258.14 121.35,257.43 121.59,259.46 121.84,258.55 122.08,257.98 122.33,258.76 122.58,257.51 122.82,257.7 123.07,258.29 123.31,257.76 123.56,258.6 123.8,258.28 124.05,258.01 124.3,258.65 124.54,257.26 124.79,258.15 125.03,257.27 125.28,257.88 125.52,257.64 125.77,258.28 126.02,257.97 126.26,258.03 126.51,257.68 126.75,257.09 127,258.1 127.24,257.89 127.49,257.62 127.74,257.36 127.98,257.86 128.23,258.01 128.47,258.11 128.72,257.8 128.96,257.68 129.21,258.16 129.46,257.96 129.7,257.41 129.95,257.82 130.19,258.1 130.44,257.43 130.68,257.43 130.93,257.48 131.17,257.46 131.42,258.01 131.67,257.7 131.91,257.64 132.16,257.74 132.4,258.72 132.65,257.81 132.89,257.62 133.14,257.55 133.39,257.96 133.63,257.79 133.88,258.74 134.12,258.58 134.37,259.35 134.61,257.92 134.86,256.96 135.11,256.89 135.35,258.39 135.6,257.46 135.84,257.15 136.09,257.96 136.33,258.83 136.58,257.06 136.83,257.99 137.07,258.01 137.32,256.91 137.56,257.56 137.81,257.36 138.05,256.97 138.3,257.88 138.55,258.31 138.79,257.39 139.04,257.8 139.28,257.41 139.53,257.58 139.77,258.19 140.02,257.77 140.27,257.96 140.51,257.91 140.76,257.81 141,257.6 141.25,257.68 141.49,258.45 141.74,257.45 141.99,258.53 142.23,256.63 142.48,258.18 142.72,257.81 142.97,257.08 143.21,257.88 143.46,258.44 143.71,258.53 143.95,257.63 144.2,257.56 144.44,257.35 144.69,257.64 144.93,258.03 145.18,257.53 145.43,257.03 145.67,258.2 145.92,255.92 146.16,258 146.41,257.13 146.65,256.8 146.9,257.3 147.15,257.62 147.39,257.4 147.64,257.08 147.88,259.16 148.13,257.54 148.37,257.99 148.62,258.14 148.87,257.72 149.11,257.69 149.36,257.53 149.6,258.09 149.85,257.2 150.09,258.88 150.34,258.29 150.59,258.43 150.83,257.74 151.08,258.06 151.32,257.52 151.57,258.21 151.81,257.13 152.06,257.41 152.31,258.07 152.55,258.68 152.8,258.42 153.04,258.61 153.29,257.16 153.53,257.41 153.78,258.47 154.02,256.82 154.27,257.96 154.52,258.98 154.76,257.24 155.01,257.12 155.25,257.8 155.5,258.27 155.74,257.16 155.99,258.07 156.24,257.81 156.48,257.56 156.73,257.64 156.97,258.04 157.22,258.35 157.46,257.41 157.71,258.96 157.96,257.63 158.2,257.66 158.45,257.53 158.69,257.99 158.94,257.69 159.18,257.39 159.43,258.35 159.68,257.77 159.92,257.6 160.17,258.46 160.41,258.3 160.66,256.98 160.9,257.26 161.15,258.19 161.4,257.42 161.64,257.59 161.89,257.07 162.13,257.21 162.38,259.07 162.62,257.96 162.87,257.08 163.12,256.95 163.36,258.12 163.61,258.44 163.85,257.67 164.1,258.14 164.34,257.81 164.59,258.41 164.84,257.4 165.08,257.5 165.33,257.56 165.57,258.37 165.82,258.68 166.06,258.47 166.31,257.54 166.56,258.74 166.8,257.46 167.05,256.88 167.29,258.13 167.54,257.9 167.78,257.29 168.03,257.32 168.28,258.12 168.52,257.89 168.77,257.74 169.01,257.94 169.26,257.5 169.5,257.63 169.75,257.12 170,258.69 170.24,257.18 170.49,257.37 170.73,257.87 170.98,257.58 171.22,257.29 171.47,257.64 171.72,257.93 171.96,257.65 172.21,258.16 172.45,258.48 172.7,258.25 172.94,258.2 173.19,257.7 173.44,257.38 173.68,257.67 173.93,257.04 174.17,257.84 174.42,258.13 174.66,258.17 174.91,258.26 175.16,257.95 175.4,257.08 175.65,258.56 175.89,257.51 176.14,257.8 176.38,257.36 176.63,258.03 176.88,257.41 177.12,258.05 177.37,257.46 177.61,258.8 177.86,257.53 178.1,257.4 178.35,258.61 178.59,257.34 178.84,258.37 179.09,257.26 179.33,257.78 179.58,257.42 179.82,257.58 180.07,258.4" fill="none" stroke="#ff0000" stroke-width="2" stroke-linejoin="round" stroke-linecap="round"/>
<polyline points="48.37,281.26 48.62,281.44 48.87,282.6 49.11,281.77 49.36,281.83 49.6,282.42 49.85,282.61 50.09,281.4 50.34,282.27 50.59,281.59 50.83,281.07 51.08,281.81 51.32,282.52 51.57,281.55 51.81,282.78 52.06,282.53 52.31,280.53 52.55,282.47 52.8,281.88 53.04,282.61 53.29,282.12 53.53,281.95 53.78,283.44 54.03,282.4 54.27,281.72 54.52,281.61 54.76,281.88 55.01,282.55 55.25,281.86 55.5,282.32 55.74,282.46 55.99,282.06 56.24,280.88 56.48,282.53 56.73,281.52 56.97,281.93 57.22,282.84 57.46,282.54 57.71,282.15 57.96,282.31 58.2,281.93 58.45,282.58 58.69,282.59 58.94,281.54 59.18,282.08 59.43,282.51 59.68,282.07 59.92,281.11 60.17,282.37 60.41,282.84 60.66,281.58 60.9,281.05 61.15,281.41 61.4,282.75 61.64,283.14 61.89,281.42 62.13,282.17 62.38,281.81 62.62,282.17 62.87,281.2 63.12,282.04 63.36,282.24 63.61,282.01 63.85,282.71 64.1,282 64.34,282.13 64.59,283.19 64.84,282.68 65.08,282.74 65.33,282.91 65.57,281.9 65.82,281.5 66.06,281.92 66.31,282.85 66.56,282.99 66.8,281.63 67.05,282.18 67.29,282.05 67.54,282.65 67.78,283.01 68.03,280.78 68.28,282.22 68.52,281.99 68.77,282.46 69.01,281.05 69.26,282.01 69.5,281.88 69.75,281.75 70,281.76 70.24,281 70.49,282.66 70.73,281.36 70.98,281.99 71.22,281.86 71.47,281.94 71.72,281.38 71.96,282.25 72.21,281.84 72.45,281.24 72.7,281.81 72.94,281.74 73.19,281.27 73.44,281.4 73.68,281.6 73.93,281.37 74.17,281.84 74.42,280.91 74.66,281.9 74.91,282.15 75.16,281.07 75.4,281.95 75.65,281.74 75.89,281.34 76.14,280.83 76.38,281.43 76.63,281.39 76.88,281.36 77.12,280.92 77.37,281.36 77.61,280.95 77.86,280.34 78.1,281.14 78.35,281.2 78.6,281.47 78.84,281.36 79.09,281.58 79.33,281.49 79.58,281.2 79.82,280.7 80.07,280.6 80.31,281.05 80.56,280.64 80.81,281.46 81.05,279.68 81.3,279.45 81.54,280.78 81.79,280.43 82.03,280.62 82.28,280.24 82.53,280.95 82.77,281.39 83.02,280.16 83.26,281.12 83.51,280.35 83.75,280.99 84,280.89 84.25,279.95 84.49,279.61 84.74,280.5 84.98,280.62 85.23,280.22 85.47,280.64 85.72,281.23 85.97,280.32 86.21,281.45 86.46,280.04 86.7,280.5 86.95,280.12 87.19,280.96 87.44,280.56 87.69,279.86 87.93,279.42 88.18,279.67 88.42,279.88 88.67,280.64 88.91,279.74 89.16,279.95 89.41,280.16 89.65,279.29 89.9,280.35 90.14,279.01 90.39,280.24 90.63,280.23 90.88,279.91 91.13,280.52 91.37,280.06 91.62,279.75 91.86,280.65 92.11,280.18 92.35,280.45 92.6,279.93 92.85,279.09 93.09,279.88 93.34,279.73 93.58,279.5 93.83,280.17 94.07,279.45 94.32,279.82 94.57,279.86 94.81,280.39 95.06,279.81 95.3,278.92 95.55,278.81 95.79,279.57 96.04,279.35 96.29,279.59 96.53,279.92 96.78,280.26 97.02,278.41 97.27,279.79 97.51,279.14 97.76,278.42 98.01,279.32 98.25,279.21 98.5,278.98 98.74,279.3 98.99,278.99 99.23,279.29 99.48,278.52 99.73,278.86 99.97,279.72 100.22,279.8 100.46,279.44 100.71,279.42 100.95,279.48 101.2,278.62 101.45,279.47 101.69,279.33 101.94,279.02 102.18,280.12 102.43,278.87 102.67,278.79 102.92,278.36 103.17,279.6 103.41,279.33 103.66,278.97 103.9,279.28 104.15,279.84 104.39,278.61 104.64,279.22 104.89,278.89 105.13,279.63 105.38,278.58 105.62,279.25 105.87,279.44 106.11,278.66 106.36,278.49 106.6,279.55 106.85,278.55 107.1,278.22 107.34,278.93 107.59,279.8 107.83,278.77 108.08,278.51 108.32,279.59 108.57,278.19 108.82,279.16 109.06,279.12 109.31,278.49 109.55,278.95 109.8,278.41 110.04,279.06 110.29,278.85 110.54,279.04 110.78,278.93 111.03,278.75 111.27,278.8 111.52,279.21 111.76,278.56 112.01,279.09 112.26,278.42 112.5,278.73 112.75,279.09 112.99,279.43 113.24,279.02 113.48,278.32 113.73,278.94 113.98,278.54 114.22,279.09 114.47,279.2 114.71,279.4 114.96,280.05 115.2,278.88 115.45,279.02 115.7,279.07 115.94,278.63 116.19,279.55 116.43,278.15 116.68,279.8 116.92,278.91 117.17,279.66 117.42,279.18 117.66,278.43 117.91,279.81 118.15,278.94 118.4,278.98 118.64,278.94 118.89,278.9 119.14,278.62 119.38,278.78 119.63,278.84 119.87,278.57 120.12,278.69 120.36,279.1 120.61,279.67 120.86,278.62 121.1,279.21 121.35,278.17 121.59,279.32 121.84,279.66 122.08,278.44 122.33,279.41 122.58,279.81 122.82,278.41 123.07,279.78 123.31,278.34 123.56,279.52 123.8,278.81 124.05,278.91 124.3,279.97 124.54,279.03 124.79,279.24 125.03,278.96 125.28,278.74 125.52,278.2 125.77,279.14 126.02,279.07 126.26,277.9 126.51,278.64 126.75,278.62 127,279.81 127.24,279.74 127.49,279.3 127.74,279.11 127.98,278.76 128.23,277.59 128.47,279.66 128.72,279.23 128.96,278.68 129.21,278.87 129.46,278.43 129.7,279.16 129.95,279.48 130.19,277.92 130.44,278.78 130.68,279.63 130.93,279.19 131.17,279.04 131.42,279.78 131.67,278.61 131.91,278.93 132.16,279.2 132.4,279.35 132.65,278.15 132.89,279.05 133.14,279.41 133.39,280.08 133.63,279.56 133.88,278.65 134.12,278.23 134.37,279.62 134.61,280.07 134.86,278.99 135.11,279.03 135.35,278.56 135.6,279.38 135.84,278.95 136.09,279.97 136.33,279.65 136.58,279.29 136.83,279.24 137.07,278.73 137.32,278.37 137.56,279.74 137.81,278.13 138.05,279.39 138.3,279.22 138.55,278.41 138.79,280.25 139.04,279.75 139.28,279.43 139.53,278.95 139.77,278.43 140.02,278.42 140.27,279.47 140.51,278.6 140.76,279.21 141,278.21 141.25,279.13 141.49,278.43 141.74,279.52 141.99,278.58 142.23,279.69 142.48,278.93 142.72,279.82 142.97,279.05 143.21,279.39 143.46,279.49 143.71,278.85 143.95,278.57 144.2,278.91 144.44,278.81 144.69,278.6 144.93,278.34 145.18,278.44 145.43,278.76 145.67,277.93 145.92,279.23 146.16,278.55 146.41,279.56 146.65,277.72 146.9,279.09 147.15,278.88 147.39,278.24 147.64,279.06 147.88,279.4 148.13,279.93 148.37,279.1 148.62,277.9 148.87,278.87 149.11,278.06 149.36,278.53 149.6,279.19 149.85,279.7 150.09,279.06 150.34,278.64 150.59,279.07 150.83,278.87 151.08,278.66 151.32,279.15 151.57,279.72 151.81,279.13 152.06,278.66 152.31,279.39 152.55,279.51 152.8,279.49 153.04,279.09 153.29,279.03 153.53,278.99 153.78,279.63 154.02,278.95 154.27,279.29 154.52,279.46 154.76,279.93 155.01,279.55 155.25,279.29 155.5,278.89 155.74,278.75 155.99,278.95 156.24,278.84 156.48,279.55 156.73,278.55 156.97,278.54 157.22,278.6 157.46,279.22 157.71,279 157.96,279.2 158.2,279.64 158.45,279.13 158.69,279.76 158.94,279.87 159.18,278.66 159.43,278.66 159.68,278.51 159.92,279.18 160.17,278.93 160.41,278.67 160.66,279.14 160.9,280 161.15,277.77 161.4,278.29 161.64,278.28 161.89,278.89 162.13,279.35 162.38,278.89 162.62,278.78 162.87,279.64 163.12,279.17 163.36,278.63 163.61,278.13 163.85,278.6 164.1,279.13 164.34,279.58 164.59,277.85 164.84,278.85 165.08,278.51 165.33,278.89 165.57,279.6 165.82,277.77 166.06,278.55 166.31,278.27 166.56,279.31 166.8,278.92 167.05,278.19 167.29,279.08 167.54,279.27 167.78,279.49 168.03,279.6 168.28,278.47 168.52,278.93 168.77,279.83 169.01,278.1 169.26,278.23 169.5,278.29 169.75,279.86 170,278.84 170.24,278.22 170.49,279.43 170.73,279.31 170.98,279.01 171.22,279.94 171.47,278.77 171.72,278.37 171.96,278.54 172.21,278.11 172.45,278.84 172.7,278.9 172.94,278.98 173.19,279.25 173.44,279.44 173.68,279.27 173.93,278.92 174.17,279.16 174.42,278.82 174.66,278.84 174.91,278.55 175.16,279.15 175.4,279.96 175.65,279.38 175.89,277.88 176.14,278.48 176.38,279.09 176.63,278.98 176.88,278.92 177.12,279.12 177.37,278.77 177.61,278.51 177.86,278.23 178.1,279.06 178.35,279.02 178.59,279.04 178.84,278.85 179.09,278.31 179.33,279.26 179.58,277.71 179.82,278.57 180.07,278.28" fill="none" stroke="#ff0000" stroke-width="2" stroke-linejoin="round" stroke-linecap="round"/>
<polyline points="48.37,282.57 48.62,282.3 48.87,282.37 49.11,282.08 49.36,283.16 49.6,281.84 49.85,282.98 50.09,281.9 50.34,281.56 50.59,282.13 50.83,282.18 51.08,282.18 51.32,282.21 51.57,281.95 51.81,281.61 52.06,281.75 52.31,281.3 52.55,282.03 52.8,282.34 53.04,282.32 53.29,282.72 53.53,282.27 53.78,282.38 54.03,281.14 54.27,281.79 54.52,281.13 54.76,283.06 55.01,281.9 55.25,281.52 55.5,281.89 55.74,282.3 55.99,281.97 56.24,282 56.48,281.99 56.73,281.92 56.97,281.56 57.22,281.93 57.46,281.9 57.71,282.04 57.96,281.81 58.2,282.42 58.45,281.74 58.69,282.21 58.94,281.6 59.18,282.35 59.43,282.07 59.68,282.13 59.92,282.56 60.17,281.49 60.41,281.84 60.66,282.02 60.9,281.4 61.15,282.21 61.4,282.05 61.64,281.46 61.89,280.77 62.13,281.99 62.38,281.2 62.62,281.94 62.87,282.45 63.12,281.77 63.36,281.39 63.61,281.93 63.85,281.79 64.1,282.6 64.34,283.21 64.59,281.92 64.84,282.79 65.08,282.09 65.33,282.4 65.57,281.99 65.82,281.63 66.06,282.96 66.31,282.17 66.56,282.17 66.8,281.39 67.05,282.06 67.29,282.51 67.54,282.39 67.78,281.15 68.03,282.54 68.28,282.05 68.52,281.94 68.77,282.67 69.01,282.49 69.26,283.09 69.5,282.53 69.75,281.72 70,281.94 70.24,283.03 70.49,281.3 70.73,282.73 70.98,282.53 71.22,281.21 71.47,281.79 71.72,282.07 71.96,281.25 72.21,282.06 72.45,281.84 72.7,282.31 72.94,282.08 73.19,282.05 73.44,281.44 73.68,282.33 73.93,282.11 74.17,283.13 74.42,282.88 74.66,281.63 74.91,282.19 75.16,282.17 75.4,281.67 75.65,282.16 75.89,281.93 76.14,282.13 76.38,283.02 76.63,281.66 76.88,281.2 77.12,281.36 77.37,281.94 77.61,281.83 77.86,281.77 78.1,281.18 78.35,281.34 78.6,282.14 78.84,282.03 79.09,282.06 79.33,282.25 79.58,282.27 79.82,282.02 80.07,283.2 80.31,281.76 80.56,282.19 80.81,282.58 81.05,282.05 81.3,282.34 81.54,281.32 81.79,282.51 82.03,281.91 82.28,281.76 82.53,282.37 82.77,282.57 83.02,281.73 83.26,282.13 83.51,282.41 83.75,282.66 84,281.6 84.25,281.14 84.49,282.18 84.74,281.63 84.98,281.34 85.23,281.38 85.47,282.19 85.72,281.61 85.97,281.53 86.21,280.57 86.46,281.76 86.7,281.33 86.95,281.44 87.19,281.52 87.44,282.35 87.69,281.69 87.93,281.06 88.18,282.01 88.42,281.7 88.67,282.21 88.91,281.67 89.16,281.63 89.41,281.45 89.65,282 89.9,282.01 90.14,282.08 90.39,281.65 90.63,281.69 90.88,280.64 91.13,282.1 91.37,281.43 91.62,282.05 91.86,282.01 92.11,281.22 92.35,281.55 92.6,281.49 92.85,282.43 93.09,280.44 93.34,280.7 93.58,282.11 93.83,282.42 94.07,282.1 94.32,281.61 94.57,282.2 94.81,281.59 95.06,282.06 95.3,280.33 95.55,281.84 95.79,281.95 96.04,280.7 96.29,281.54 96.53,281.7 96.78,281.72 97.02,281.42 97.27,281.92 97.51,281.64 97.76,281.97 98.01,282.19 98.25,281.68 98.5,281.43 98.74,280.71 98.99,281.4 99.23,281.68 99.48,281.45 99.73,281.21 99.97,282.64 100.22,281.72 100.46,282.59 100.71,282.39 100.95,281.87 101.2,281.57 101.45,281.48 101.69,281.44 101.94,280.84 102.18,281.27 102.43,281.3 102.67,281.65 102.92,280.51 103.17,280.84 103.41,281.78 103.66,281.78 103.9,281.09 104.15,280.98 104.39,281.64 104.64,280.91 104.89,282.08 105.13,281.56 105.38,280.96 105.62,281.76 105.87,281.4 106.11,281.48 106.36,281.6 106.6,282.41 106.85,281.63 107.1,281.37 107.34,281.36 107.59,281.08 107.83,280.99 108.08,281.63 108.32,281.56 108.57,280.6 108.82,281 109.06,281.44 109.31,281.55 109.55,280.91 109.8,280.9 110.04,281.48 110.29,281.21 110.54,281.42 110.78,281.45 111.03,280.49 111.27,282.08 111.52,281.05 111.76,281.96 112.01,281.78 112.26,281 112.5,282.09 112.75,281.9 112.99,282 113.24,281.73 113.48,281.27 113.73,280.84 113.98,281.76 114.22,280.96 114.47,282.04 114.71,280.35 114.96,281.66 115.2,281.68 115.45,281.3 115.7,281.39 115.94,281.52 116.19,282.3 116.43,281.01 116.68,281.08 116.92,281.64 117.17,282.04 117.42,281.31 117.66,280.87 117.91,282.33 118.15,282.01 118.4,281.4 118.64,281.86 118.89,281.62 119.14,281.49 119.38,281.04 119.63,281.04 119.87,280.94 120.12,280.98 120.36,281.76 120.61,282.66 120.86,281.27 121.1,281.2 121.35,281.21 121.59,281.77 121.84,280.46 122.08,282.28 122.33,281.02 122.58,281.11 122.82,280.96 123.07,280.71 123.31,281.17 123.56,281.25 123.8,281.57 124.05,281.03 124.3,281.22 124.54,281.01 124.79,282 125.03,282.19 125.28,281.38 125.52,281.14 125.77,282.19 126.02,281.93 126.26,281.59 126.51,281.26 126.75,281.24 127,280.9 127.24,281.49 127.49,281.18 127.74,280.75 127.98,281.53 128.23,280.24 128.47,281.58 128.72,281.33 128.96,282.35 129.21,281.43 129.46,281.66 129.7,281.71 129.95,281.24 130.19,281.94 130.44,281.27 130.68,282.39 130.93,281.63 131.17,280.69 131.42,281.31 131.67,281.07 131.91,281.84 132.16,282.04 132.4,280.67 132.65,280.86 132.89,280.94 133.14,281.37 133.39,280.78 133.63,281.58 133.88,281.02 134.12,281.03 134.37,281.82 134.61,280.64 134.86,281.3 135.11,280.95 135.35,282.12 135.6,281.96 135.84,281.57 136.09,281.1 136.33,280.77 136.58,281.16 136.83,281.42 137.07,281.06 137.32,281.47 137.56,281.27 137.81,281.15 138.05,281.7 138.3,281.14 138.55,282.08 138.79,281.76 139.04,281.01 139.28,281.67 139.53,281.1 139.77,281.23 140.02,281.44 140.27,280.57 140.51,281.1 140.76,281.63 141,281.6 141.25,281.27 141.49,282.09 141.74,280.75 141.99,281.37 142.23,282.2 142.48,281.83 142.72,280.62 142.97,281.22 143.21,280.23 143.46,281.32 143.71,281.09 143.95,280.34 144.2,280.24 144.44,281.8 144.69,280.88 144.93,281.86 145.18,281.56 145.43,282.21 145.67,281.03 145.92,281.84 146.16,281.72 146.41,280.34 146.65,280.87 146.9,281.4 147.15,282.23 147.39,281.16 147.64,282.48 147.88,281.77 148.13,280.97 148.37,280.9 148.62,281.24 148.87,280.9 149.11,281.21 149.36,281.7 149.6,281.29 149.85,280.43 150.09,281.33 150.34,281.15 150.59,281.02 150.83,282.01 151.08,281.82 151.32,282.1 151.57,281.12 151.81,281.48 152.06,281.93 152.31,281.94 152.55,280.92 152.8,280.87 153.04,281.08 153.29,281.28 153.53,281.04 153.78,281.29 154.02,281.11 154.27,281.5 154.52,281.81 154.76,281.67 155.01,281.16 155.25,280.43 155.5,281.73 155.74,281.86 155.99,280.92 156.24,280.92 156.48,281.66 156.73,281.59 156.97,281.6 157.22,281.13 157.46,279.73 157.71,281.66 157.96,281.14 158.2,281.55 158.45,281.22 158.69,281.08 158.94,281.15 159.18,281.8 159.43,281.8 159.68,280.82 159.92,281.15 160.17,281.2 160.41,281 160.66,281.68 160.9,280.68 161.15,281.71 161.4,281.84 161.64,281.8 161.89,281.36 162.13,279.95 162.38,281.27 162.62,281.15 162.87,280.51 163.12,281.49 163.36,282.02 163.61,281.62 163.85,281.49 164.1,282.14 164.34,281.44 164.59,281.25 164.84,280.26 165.08,280.9 165.33,281.24 165.57,281.56 165.82,281.67 166.06,282.23 166.31,281.38 166.56,282.45 166.8,281.38 167.05,280.46 167.29,281.5 167.54,281.09 167.78,281.75 168.03,282.26 168.28,281.17 168.52,281.43 168.77,281.06 169.01,281.23 169.26,280.99 169.5,281.54 169.75,281.02 170,280.78 170.24,281.56 170.49,281.45 170.73,280.75 170.98,281.03 171.22,281.39 171.47,282.06 171.72,281.42 171.96,280.51 172.21,281.5 172.45,281.37 172.7,281.73 172.94,281.32 173.19,281.27 173.44,281.12 173.68,281.6 173.93,281.83 174.17,280.2 174.42,281.18 174.66,281.7 174.91,281.35 175.16,281.02 175.4,280.7 175.65,281.1 175.89,281.42 176.14,280.99 176.38,281.95 176.63,281.73 176.88,280.62 177.12,281.14 177.37,281.27 177.61,281.56 177.86,281.83 178.1,281.11 178.35,281.22 178.59,280.36 178.84,281.67 179.09,281.23 179.33,281.41 179.58,281.69 179.82,280.31 180.07,280.54" fill="none" stroke="#ff0000" stroke-width="2" stroke-linejoin="round" stroke-linecap="round"/>
<polyline points="66.2,282.1 66.75,277.47 67.29,273.13 67.84,269.04 68.38,265.2 68.93,261.59 69.48,258.2 70.02,255.01 70.57,252.01 71.11,249.2 71.66,246.55 72.21,244.06 72.75,241.72 73.3,239.52 73.84,237.46 74.39,235.52 74.94,233.69 75.48,231.98 76.03,230.36 76.57,228.85 77.12,227.42 77.67,226.09 78.21,224.83 78.76,223.65 79.3,222.53 79.85,221.49 80.4,220.51 80.94,219.59 81.49,218.72 82.03,217.9 82.58,217.14 83.13,216.42 83.67,215.74 84.22,215.1 84.76,214.51 85.31,213.94 85.86,213.42 86.4,212.92 86.95,212.45 87.49,212.01 88.04,211.6 88.59,211.22 89.13,210.85 89.68,210.51 90.22,210.19 90.77,209.89 91.32,209.6 91.86,209.33 92.41,209.08 92.95,208.85 93.5,208.63 94.05,208.42 94.59,208.22 95.14,208.04 95.68,207.86 96.23,207.7 96.78,207.55 97.32,207.41 97.79,207.29" fill="none" stroke="#111" stroke-width="0.9" stroke-linejoin="round" stroke-linecap="round"/>
<polyline points="97.79,207.29 97.79,199.26" fill="none" stroke="#111" stroke-width="0.9" stroke-linejoin="round" stroke-linecap="round"/>
<polyline points="97.79,199.26 97.79,199.26 100.52,199.72 103.25,200.17 105.98,200.62 108.71,201.05 111.44,201.46 114.17,201.87 116.9,202.27 119.63,202.66 122.36,203.04 125.09,203.41 127.82,203.77 130.55,204.12 133.28,204.47 136.01,204.8 138.74,205.13 141.47,205.45 144.2,205.76 146.93,206.06 149.66,206.36 152.39,206.65 155.12,206.93 157.85,207.2 160.58,207.47 163.31,207.73 166.04,207.98 168.77,208.23 171.5,208.47 174.23,208.71 176.96,208.94 179.69,209.16" fill="none" stroke="#111" stroke-width="1" stroke-linejoin="round" stroke-linecap="round"/>
<text transform="translate(175.4 200.5) scale(1 1.08)" font-size="9.6" text-anchor="end" font-weight="normal" fill="#000" font-family="&quot;Liberation Sans&quot;, sans-serif" stroke="#000" stroke-width="0.28">50 nM</text>
<polyline points="66.2,282.1 66.75,280.89 67.29,279.71 67.84,278.54 68.38,277.38 68.93,276.25 69.48,275.13 70.02,274.03 70.57,272.94 71.11,271.87 71.66,270.82 72.21,269.78 72.75,268.76 73.3,267.75 73.84,266.76 74.39,265.78 74.94,264.82 75.48,263.87 76.03,262.94 76.57,262.02 77.12,261.11 77.67,260.22 78.21,259.34 78.76,258.47 79.3,257.61 79.85,256.77 80.4,255.94 80.94,255.13 81.49,254.32 82.03,253.53 82.58,252.75 83.13,251.98 83.67,251.23 84.22,250.48 84.76,249.74 85.31,249.02 85.86,248.31 86.4,247.6 86.95,246.91 87.49,246.23 88.04,245.56 88.59,244.9 89.13,244.24 89.68,243.6 90.22,242.97 90.77,242.35 91.32,241.73 91.86,241.13 92.41,240.53 92.95,239.95 93.5,239.37 94.05,238.8 94.59,238.24 95.14,237.68 95.68,237.14 96.23,236.6 96.78,236.07 97.32,235.55 97.79,235.12" fill="none" stroke="#111" stroke-width="0.9" stroke-linejoin="round" stroke-linecap="round"/>
<polyline points="97.79,235.12 97.79,235.47" fill="none" stroke="#111" stroke-width="0.9" stroke-linejoin="round" stroke-linecap="round"/>
<polyline points="97.79,235.47 97.79,235.47 100.52,235.68 103.25,235.88 105.98,236.07 108.71,236.26 111.44,236.45 114.17,236.63 116.9,236.8 119.63,236.98 122.36,237.14 125.09,237.31 127.82,237.47 130.55,237.62 133.28,237.77 136.01,237.92 138.74,238.07 141.47,238.21 144.2,238.35 146.93,238.48 149.66,238.61 152.39,238.74 155.12,238.86 157.85,238.98 160.58,239.1 163.31,239.22 166.04,239.33 168.77,239.44 171.5,239.54 174.23,239.65 176.96,239.75 179.69,239.85" fill="none" stroke="#111" stroke-width="1" stroke-linejoin="round" stroke-linecap="round"/>
<text transform="translate(175.4 234) scale(1 1.08)" font-size="9.6" text-anchor="end" font-weight="normal" fill="#000" font-family="&quot;Liberation Sans&quot;, sans-serif" stroke="#000" stroke-width="0.28">12.5 nM</text>
<polyline points="66.2,282.1 66.75,281.65 67.29,281.21 67.84,280.77 68.38,280.33 68.93,279.89 69.48,279.45 70.02,279.02 70.57,278.58 71.11,278.15 71.66,277.72 72.21,277.29 72.75,276.86 73.3,276.44 73.84,276.01 74.39,275.59 74.94,275.17 75.48,274.75 76.03,274.33 76.57,273.92 77.12,273.5 77.67,273.09 78.21,272.68 78.76,272.27 79.3,271.86 79.85,271.46 80.4,271.05 80.94,270.65 81.49,270.25 82.03,269.85 82.58,269.45 83.13,269.05 83.67,268.66 84.22,268.26 84.76,267.87 85.31,267.48 85.86,267.09 86.4,266.7 86.95,266.32 87.49,265.93 88.04,265.55 88.59,265.16 89.13,264.78 89.68,264.41 90.22,264.03 90.77,263.65 91.32,263.28 91.86,262.9 92.41,262.53 92.95,262.16 93.5,261.79 94.05,261.43 94.59,261.06 95.14,260.69 95.68,260.33 96.23,259.97 96.78,259.61 97.32,259.25 97.79,258.95" fill="none" stroke="#111" stroke-width="0.9" stroke-linejoin="round" stroke-linecap="round"/>
<polyline points="97.79,259.19 97.79,259.19 100.52,259.29 103.25,259.39 105.98,259.49 108.71,259.59 111.44,259.68 114.17,259.77 116.9,259.86 119.63,259.94 122.36,260.03 125.09,260.11 127.82,260.19 130.55,260.27 133.28,260.34 136.01,260.42 138.74,260.49 141.47,260.56 144.2,260.63 146.93,260.69 149.66,260.76 152.39,260.82 155.12,260.89 157.85,260.95 160.58,261.01 163.31,261.06 166.04,261.12 168.77,261.17 171.5,261.23 174.23,261.28 176.96,261.33 179.69,261.38" fill="none" stroke="#555" stroke-width="1" stroke-linejoin="round" stroke-linecap="round"/>
<text transform="translate(175.4 253) scale(1 1.08)" font-size="9.6" text-anchor="end" font-weight="normal" fill="#000" font-family="&quot;Liberation Sans&quot;, sans-serif" stroke="#000" stroke-width="0.28">5 nM</text>
<polyline points="66.2,282.1 66.75,282.05 67.29,282 67.84,281.95 68.38,281.9 68.93,281.85 69.48,281.79 70.02,281.74 70.57,281.69 71.11,281.64 71.66,281.59 72.21,281.54 72.75,281.49 73.3,281.44 73.84,281.39 74.39,281.34 74.94,281.29 75.48,281.24 76.03,281.19 76.57,281.14 77.12,281.09 77.67,281.04 78.21,280.99 78.76,280.94 79.3,280.88 79.85,280.83 80.4,280.78 80.94,280.73 81.49,280.68 82.03,280.63 82.58,280.58 83.13,280.53 83.67,280.48 84.22,280.43 84.76,280.38 85.31,280.33 85.86,280.28 86.4,280.23 86.95,280.18 87.49,280.13 88.04,280.08 88.59,280.03 89.13,279.98 89.68,279.93 90.22,279.88 90.77,279.83 91.32,279.78 91.86,279.73 92.41,279.68 92.95,279.63 93.5,279.58 94.05,279.53 94.59,279.48 95.14,279.43 95.68,279.38 96.23,279.33 96.78,279.28 97.32,279.23 97.79,279.19" fill="none" stroke="#111" stroke-width="0.9" stroke-linejoin="round" stroke-linecap="round"/>
<polyline points="97.79,279.44 97.79,279.44 100.52,279.48 103.25,279.52 105.98,279.57 108.71,279.61 111.44,279.64 114.17,279.68 116.9,279.72 119.63,279.76 122.36,279.79 125.09,279.83 127.82,279.86 130.55,279.89 133.28,279.92 136.01,279.95 138.74,279.99 141.47,280.01 144.2,280.04 146.93,280.07 149.66,280.1 152.39,280.13 155.12,280.15 157.85,280.18 160.58,280.2 163.31,280.23 166.04,280.25 168.77,280.27 171.5,280.3 174.23,280.32 176.96,280.34 179.69,280.36" fill="none" stroke="#555" stroke-width="1" stroke-linejoin="round" stroke-linecap="round"/>
<text transform="translate(175.4 274.7) scale(1 1.08)" font-size="9.6" text-anchor="end" font-weight="normal" fill="#000" font-family="&quot;Liberation Sans&quot;, sans-serif" stroke="#000" stroke-width="0.28">0.5 nM</text>
<polyline points="66.2,282.1 66.75,282.09 67.29,282.09 67.84,282.08 68.38,282.07 68.93,282.07 69.48,282.06 70.02,282.05 70.57,282.04 71.11,282.04 71.66,282.03 72.21,282.02 72.75,282.02 73.3,282.01 73.84,282 74.39,282 74.94,281.99 75.48,281.98 76.03,281.98 76.57,281.97 77.12,281.96 77.67,281.95 78.21,281.95 78.76,281.94 79.3,281.93 79.85,281.93 80.4,281.92 80.94,281.91 81.49,281.91 82.03,281.9 82.58,281.89 83.13,281.88 83.67,281.88 84.22,281.87 84.76,281.86 85.31,281.86 85.86,281.85 86.4,281.84 86.95,281.84 87.49,281.83 88.04,281.82 88.59,281.82 89.13,281.81 89.68,281.8 90.22,281.79 90.77,281.79 91.32,281.78 91.86,281.77 92.41,281.77 92.95,281.76 93.5,281.75 94.05,281.75 94.59,281.74 95.14,281.73 95.68,281.73 96.23,281.72 96.78,281.71 97.32,281.7 97.79,281.7" fill="none" stroke="#111" stroke-width="0.9" stroke-linejoin="round" stroke-linecap="round"/>
<polyline points="97.79,281.75 97.79,281.75 100.52,281.75 103.25,281.75 105.98,281.75 108.71,281.75 111.44,281.75 114.17,281.75 116.9,281.75 119.63,281.75 122.36,281.75 125.09,281.75 127.82,281.75 130.55,281.75 133.28,281.75 136.01,281.75 138.74,281.75 141.47,281.75 144.2,281.75 146.93,281.75 149.66,281.75 152.39,281.75 155.12,281.75 157.85,281.75 160.58,281.75 163.31,281.75 166.04,281.75 168.77,281.75 171.5,281.75 174.23,281.75 176.96,281.75 179.69,281.75" fill="none" stroke="#555" stroke-width="1" stroke-linejoin="round" stroke-linecap="round"/>
<text transform="translate(175.4 293.6) scale(1 1.08)" font-size="9.6" text-anchor="end" font-weight="normal" fill="#000" font-family="&quot;Liberation Sans&quot;, sans-serif" stroke="#000" stroke-width="0.28">0.05 nM</text>
<line x1="66.2" y1="281" x2="66.2" y2="289" stroke="#000" stroke-width="0.9"/>
<rect x="43.4" y="183.3" width="144.2" height="116.2" fill="none" stroke="#3a3a3a" stroke-width="0.9"/>
<line x1="40.9" y1="282.1" x2="43.4" y2="282.1" stroke="#3a3a3a" stroke-width="0.9"/>
<text transform="translate(40.2 285.5) scale(1 1.08)" font-size="9.5" text-anchor="end" font-weight="normal" fill="#000" font-family="&quot;Liberation Sans&quot;, sans-serif" stroke="#000" stroke-width="0.28">0</text>
<line x1="40.9" y1="247.39" x2="43.4" y2="247.39" stroke="#3a3a3a" stroke-width="0.9"/>
<text transform="translate(40.2 250.79) scale(1 1.08)" font-size="9.5" text-anchor="end" font-weight="normal" fill="#000" font-family="&quot;Liberation Sans&quot;, sans-serif" stroke="#000" stroke-width="0.28">30</text>
<line x1="40.9" y1="212.68" x2="43.4" y2="212.68" stroke="#3a3a3a" stroke-width="0.9"/>
<text transform="translate(40.2 216.08) scale(1 1.08)" font-size="9.5" text-anchor="end" font-weight="normal" fill="#000" font-family="&quot;Liberation Sans&quot;, sans-serif" stroke="#000" stroke-width="0.28">60</text>
<line x1="41.9" y1="264.75" x2="43.4" y2="264.75" stroke="#3a3a3a" stroke-width="0.9"/>
<line x1="41.9" y1="230.04" x2="43.4" y2="230.04" stroke="#3a3a3a" stroke-width="0.9"/>
<line x1="41.9" y1="195.33" x2="43.4" y2="195.33" stroke="#3a3a3a" stroke-width="0.9"/>
<line x1="65.3" y1="299.5" x2="65.3" y2="302" stroke="#3a3a3a" stroke-width="0.9"/>
<text transform="translate(65.3 310.6) scale(1 1.08)" font-size="9.5" text-anchor="middle" font-weight="normal" fill="#000" font-family="&quot;Liberation Sans&quot;, sans-serif" stroke="#000" stroke-width="0.28">0</text>
<line x1="92.6" y1="299.5" x2="92.6" y2="302" stroke="#3a3a3a" stroke-width="0.9"/>
<text transform="translate(92.6 310.6) scale(1 1.08)" font-size="9.5" text-anchor="middle" font-weight="normal" fill="#000" font-family="&quot;Liberation Sans&quot;, sans-serif" stroke="#000" stroke-width="0.28">100</text>
<line x1="119.9" y1="299.5" x2="119.9" y2="302" stroke="#3a3a3a" stroke-width="0.9"/>
<text transform="translate(119.9 310.6) scale(1 1.08)" font-size="9.5" text-anchor="middle" font-weight="normal" fill="#000" font-family="&quot;Liberation Sans&quot;, sans-serif" stroke="#000" stroke-width="0.28">200</text>
<line x1="147.2" y1="299.5" x2="147.2" y2="302" stroke="#3a3a3a" stroke-width="0.9"/>
<text transform="translate(147.2 310.6) scale(1 1.08)" font-size="9.5" text-anchor="middle" font-weight="normal" fill="#000" font-family="&quot;Liberation Sans&quot;, sans-serif" stroke="#000" stroke-width="0.28">300</text>
<line x1="174.5" y1="299.5" x2="174.5" y2="302" stroke="#3a3a3a" stroke-width="0.9"/>
<text transform="translate(174.5 310.6) scale(1 1.08)" font-size="9.5" text-anchor="middle" font-weight="normal" fill="#000" font-family="&quot;Liberation Sans&quot;, sans-serif" stroke="#000" stroke-width="0.28">400</text>
<line x1="51.65" y1="299.5" x2="51.65" y2="301" stroke="#3a3a3a" stroke-width="0.9"/>
<line x1="78.95" y1="299.5" x2="78.95" y2="301" stroke="#3a3a3a" stroke-width="0.9"/>
<line x1="106.25" y1="299.5" x2="106.25" y2="301" stroke="#3a3a3a" stroke-width="0.9"/>
<line x1="133.55" y1="299.5" x2="133.55" y2="301" stroke="#3a3a3a" stroke-width="0.9"/>
<line x1="160.85" y1="299.5" x2="160.85" y2="301" stroke="#3a3a3a" stroke-width="0.9"/>
<text transform="translate(115.5 323.5) scale(1 1.08)" font-size="9.8" text-anchor="middle" font-weight="normal" fill="#000" font-family="&quot;Liberation Sans&quot;, sans-serif" stroke="#000" stroke-width="0.28">Time (s)</text>
<text transform="translate(24.3 241.2) rotate(-90) scale(1 1.08)" font-size="10" text-anchor="middle" font-weight="normal" fill="#000" font-family="&quot;Liberation Sans&quot;, sans-serif" stroke="#000" stroke-width="0.28">Response (RU)</text>
<text transform="translate(234.3 168.3)" font-size="11" text-anchor="start" font-weight="bold" fill="#000" font-family="&quot;Liberation Sans&quot;, sans-serif">c</text>
<rect x="284.6" y="207.8" width="18.1" height="64.7" fill="#7f7f7f" stroke="#1a1a1a" stroke-width="0.9"/>
<line x1="293.65" y1="197.73" x2="293.65" y2="217.56" stroke="#111" stroke-width="0.9"/>
<line x1="290.25" y1="197.73" x2="297.05" y2="197.73" stroke="#111" stroke-width="0.9"/>
<line x1="290.25" y1="217.56" x2="297.05" y2="217.56" stroke="#111" stroke-width="0.9"/>
<circle cx="293.65" cy="201.54" r="1.3" fill="#111"/>
<circle cx="293.65" cy="204.59" r="1.3" fill="#111"/>
<circle cx="293.65" cy="217.56" r="1.3" fill="#111"/>
<rect x="306.7" y="233.97" width="17.8" height="38.53" fill="#7f7f7f" stroke="#1a1a1a" stroke-width="0.9"/>
<line x1="315.6" y1="228.25" x2="315.6" y2="238.16" stroke="#111" stroke-width="0.9"/>
<line x1="312.2" y1="228.25" x2="319" y2="228.25" stroke="#111" stroke-width="0.9"/>
<line x1="312.2" y1="238.16" x2="319" y2="238.16" stroke="#111" stroke-width="0.9"/>
<circle cx="315.6" cy="229.77" r="1.3" fill="#111"/>
<circle cx="315.6" cy="234.35" r="1.3" fill="#111"/>
<circle cx="315.6" cy="237.4" r="1.3" fill="#111"/>
<rect x="329" y="233.59" width="17.8" height="38.91" fill="#7f7f7f" stroke="#1a1a1a" stroke-width="0.9"/>
<line x1="337.9" y1="230.15" x2="337.9" y2="236.64" stroke="#111" stroke-width="0.9"/>
<line x1="334.5" y1="230.15" x2="341.3" y2="230.15" stroke="#111" stroke-width="0.9"/>
<line x1="334.5" y1="236.64" x2="341.3" y2="236.64" stroke="#111" stroke-width="0.9"/>
<circle cx="337.9" cy="231.3" r="1.3" fill="#111"/>
<circle cx="337.9" cy="232.82" r="1.3" fill="#111"/>
<circle cx="337.9" cy="236.64" r="1.3" fill="#111"/>
<rect x="351.3" y="224.81" width="17.8" height="47.69" fill="#7f7f7f" stroke="#1a1a1a" stroke-width="0.9"/>
<line x1="360.2" y1="221.76" x2="360.2" y2="227.48" stroke="#111" stroke-width="0.9"/>
<line x1="356.8" y1="221.76" x2="363.6" y2="221.76" stroke="#111" stroke-width="0.9"/>
<line x1="356.8" y1="227.48" x2="363.6" y2="227.48" stroke="#111" stroke-width="0.9"/>
<circle cx="360.2" cy="222.52" r="1.3" fill="#111"/>
<circle cx="360.2" cy="224.81" r="1.3" fill="#111"/>
<circle cx="360.2" cy="226.72" r="1.3" fill="#111"/>
<line x1="282.7" y1="181.3" x2="282.7" y2="272.95" stroke="#222" stroke-width="0.9"/>
<line x1="282.25" y1="272.5" x2="371" y2="272.5" stroke="#222" stroke-width="0.9"/>
<line x1="280.5" y1="272.5" x2="282.7" y2="272.5" stroke="#222" stroke-width="0.9"/>
<text transform="translate(279.4 275.6) scale(1 1.08)" font-size="8.5" text-anchor="end" font-weight="normal" fill="#000" font-family="&quot;Liberation Sans&quot;, sans-serif" stroke="#000" stroke-width="0.28">0.0</text>
<line x1="280.5" y1="234.35" x2="282.7" y2="234.35" stroke="#222" stroke-width="0.9"/>
<text transform="translate(279.4 237.45) scale(1 1.08)" font-size="8.5" text-anchor="end" font-weight="normal" fill="#000" font-family="&quot;Liberation Sans&quot;, sans-serif" stroke="#000" stroke-width="0.28">0.5</text>
<line x1="280.5" y1="196.2" x2="282.7" y2="196.2" stroke="#222" stroke-width="0.9"/>
<text transform="translate(279.4 199.3) scale(1 1.08)" font-size="8.5" text-anchor="end" font-weight="normal" fill="#000" font-family="&quot;Liberation Sans&quot;, sans-serif" stroke="#000" stroke-width="0.28">1.0</text>
<line x1="281.4" y1="253.43" x2="282.7" y2="253.43" stroke="#222" stroke-width="0.9"/>
<line x1="281.4" y1="215.28" x2="282.7" y2="215.28" stroke="#222" stroke-width="0.9"/>
<line x1="293.65" y1="272.5" x2="293.65" y2="274.5" stroke="#222" stroke-width="0.9"/>
<text transform="translate(297.95 284) rotate(-30) scale(1 1.08)" font-size="9.6" text-anchor="end" font-weight="normal" fill="#000" font-family="&quot;Liberation Sans&quot;, sans-serif" stroke="#000" stroke-width="0.28">trast-LCB1</text>
<line x1="315.6" y1="272.5" x2="315.6" y2="274.5" stroke="#222" stroke-width="0.9"/>
<text transform="translate(319.9 284) rotate(-30) scale(1 1.08)" font-size="9.6" text-anchor="end" font-weight="normal" fill="#000" font-family="&quot;Liberation Sans&quot;, sans-serif" stroke="#000" stroke-width="0.28">32H+109L-LCB1</text>
<line x1="337.9" y1="272.5" x2="337.9" y2="274.5" stroke="#222" stroke-width="0.9"/>
<text transform="translate(342.2 284) rotate(-30) scale(1 1.08)" font-size="9.6" text-anchor="end" font-weight="normal" fill="#000" font-family="&quot;Liberation Sans&quot;, sans-serif" stroke="#000" stroke-width="0.28">PGT145-LCB1</text>
<line x1="360.2" y1="272.5" x2="360.2" y2="274.5" stroke="#222" stroke-width="0.9"/>
<text transform="translate(364.5 284) rotate(-30) scale(1 1.08)" font-size="9.6" text-anchor="end" font-weight="normal" fill="#000" font-family="&quot;Liberation Sans&quot;, sans-serif" stroke="#000" stroke-width="0.28">NC-Cow1-LCB1</text>
<text transform="translate(261.8 227) rotate(-90) scale(1 1.08)" font-family="&quot;Liberation Sans&quot;, sans-serif" font-size="9.7" text-anchor="middle" fill="#111">K<tspan font-size="6.8" dy="2">D</tspan><tspan dy="-2"> (nM)</tspan></text>
<text transform="translate(434.3 168.4)" font-size="11" text-anchor="start" font-weight="bold" fill="#000" font-family="&quot;Liberation Sans&quot;, sans-serif">d</text>
<path d="M485.2,281.66 C487.88,281.59 496.52,281.42 501.3,281.22 C506.08,281.02 509.83,280.85 513.86,280.45 C517.88,280.04 522.18,279.22 525.45,278.8 C528.72,278.37 530.95,278.14 533.5,277.92 C536.05,277.7 538.33,277.44 540.75,277.48 C543.16,277.51 545.71,277.86 547.99,278.14 C550.27,278.41 552.12,278.85 554.43,279.13 C556.74,279.4 559.69,279.73 561.84,279.79 C563.98,279.84 565.86,279.81 567.31,279.46 C568.76,279.11 569.59,278.63 570.53,277.7 C571.47,276.76 572.25,275.68 572.94,273.84 C573.64,272.01 574.18,270.26 574.72,266.69 C575.25,263.11 575.66,258.06 576.16,252.37 C576.67,246.68 577.16,241.55 577.77,232.56 C578.39,223.56 579.3,207.42 579.87,198.42 C580.43,189.43 580.73,183.01 581.16,178.61 C581.59,174.2 582.01,172 582.44,172 C582.87,172 583.2,173.84 583.73,178.61 C584.27,183.38 584.89,191.08 585.66,200.63 C586.44,210.17 587.43,225.95 588.4,235.86 C589.37,245.77 590.28,254.15 591.46,260.08 C592.64,266.01 593.63,268.39 595.49,271.42 C597.34,274.45 600.02,276.74 602.57,278.25 C605.12,279.75 607.53,279.95 610.78,280.45 C614.03,280.94 617.84,281.04 622.05,281.22 C626.26,281.4 633.72,281.49 636.06,281.55" fill="none" stroke="#000000" stroke-width="1.95" stroke-linejoin="round" stroke-linecap="round"/>
<path d="M485.2,282.1 C495.93,282.06 536.99,281.99 549.6,281.88 C562.21,281.77 558.19,281.84 560.87,281.44 C563.55,281.04 564.36,281.18 565.7,279.46 C567.04,277.73 567.87,278.36 568.92,271.09 C569.97,263.82 571.04,248.34 571.98,235.86 C572.92,223.38 573.91,205.76 574.56,196.22 C575.2,186.68 575.41,182.64 575.84,178.61 C576.27,174.57 576.73,172.18 577.13,172 C577.53,171.82 577.86,172.73 578.26,177.51 C578.66,182.28 578.77,190.9 579.55,200.63 C580.32,210.35 581.75,225.95 582.93,235.86 C584.11,245.77 585.29,254.15 586.63,260.08 C587.97,266.01 589.1,268.67 590.98,271.42 C592.86,274.17 595.08,275.37 597.9,276.6 C600.72,277.82 603.86,278.25 607.88,278.8 C611.91,279.35 617.35,279.64 622.05,279.9 C626.75,280.15 633.72,280.27 636.06,280.34" fill="none" stroke="#56b4e9" stroke-width="1.95" stroke-linejoin="round" stroke-linecap="round"/>
<path d="M485.2,282.1 C492.44,282.03 520.7,281.92 528.67,281.66 C536.64,281.4 531.68,281.31 533.02,280.56 C534.36,279.81 535.57,277.95 536.72,277.15 C537.87,276.34 538.81,275.62 539.94,275.71 C541.07,275.81 542.09,276.89 543.48,277.7 C544.88,278.5 546.22,279.97 548.31,280.56 C550.4,281.15 553.68,281.18 556.04,281.22 C558.4,281.26 560.87,281.18 562.48,280.78 C564.09,280.38 564.76,280.41 565.7,278.8 C566.64,277.18 567.2,278.25 568.12,271.09 C569.03,263.93 570.32,247.6 571.17,235.86 C572.03,224.11 572.68,210.17 573.27,200.63 C573.86,191.08 574.26,183.38 574.72,178.61 C575.17,173.84 575.57,172 576,172 C576.43,172 576.78,173.84 577.29,178.61 C577.8,183.38 577.96,191.08 579.06,200.63 C580.16,210.17 582.5,225.95 583.89,235.86 C585.29,245.77 586.09,254.15 587.44,260.08 C588.78,266.01 589.93,268.67 591.94,271.42 C593.96,274.17 596.37,275.37 599.51,276.6 C602.65,277.82 604.69,278.25 610.78,278.8 C616.87,279.35 631.84,279.71 636.06,279.9" fill="none" stroke="#e8a317" stroke-width="1.95" stroke-linejoin="round" stroke-linecap="round"/>
<path d="M485.2,282.1 C494.59,282.06 529.47,281.99 541.55,281.88 C553.62,281.77 554,281.81 557.65,281.44 C561.3,281.07 562.1,280.45 563.45,279.68 C564.79,278.91 564.95,278.43 565.7,276.82 C566.45,275.2 567.15,277 567.95,269.99 C568.76,262.98 569.72,246.68 570.53,234.76 C571.34,222.83 572.17,207.78 572.78,198.42 C573.4,189.07 573.78,183.01 574.23,178.61 C574.69,174.2 575.09,172 575.52,172 C575.95,172 576.35,173.84 576.81,178.61 C577.27,183.38 577.37,191.08 578.26,200.63 C579.14,210.17 580.73,225.95 582.12,235.86 C583.52,245.77 584.7,254.15 586.63,260.08 C588.56,266.01 591.3,269 593.71,271.42 C596.13,273.84 598.46,273.75 601.12,274.61 C603.78,275.48 606.16,275.93 609.65,276.6 C613.14,277.26 617.65,278.06 622.05,278.58 C626.45,279.09 633.72,279.49 636.06,279.68" fill="none" stroke="#1a9a72" stroke-width="1.95" stroke-linejoin="round" stroke-linecap="round"/>
<polyline points="574,229.8 589,229" fill="none" stroke="#000000" stroke-width="4.6" stroke-linejoin="round" stroke-linecap="butt"/>
<rect x="586.8" y="226.8" width="4.4" height="4.4" fill="#fff" stroke="#000000" stroke-width="1"/>
<polyline points="571,229.4 588,228.6" fill="none" stroke="#56b4e9" stroke-width="4.6" stroke-linejoin="round" stroke-linecap="butt"/>
<rect x="585.8" y="226.4" width="4.4" height="4.4" fill="#fff" stroke="#56b4e9" stroke-width="1"/>
<polyline points="570.5,223.2 586.2,221.6" fill="none" stroke="#e8a317" stroke-width="4.6" stroke-linejoin="round" stroke-linecap="butt"/>
<rect x="584" y="219.4" width="4.4" height="4.4" fill="#fff" stroke="#e8a317" stroke-width="1"/>
<polyline points="568,229 589,227.4" fill="none" stroke="#1a9a72" stroke-width="4.6" stroke-linejoin="round" stroke-linecap="butt"/>
<rect x="586.8" y="225.2" width="4.4" height="4.4" fill="#fff" stroke="#1a9a72" stroke-width="1"/>
<text transform="translate(491.7 186.5) scale(1 1.08)" font-size="10" text-anchor="start" font-weight="normal" fill="#000" font-family="&quot;Liberation Sans&quot;, sans-serif" stroke="#000" stroke-width="0.28">PGT145-LCB1</text>
<line x1="552.2" y1="188.8" x2="571.4" y2="199.3" stroke="#111" stroke-width="0.8"/>
<text transform="translate(488.8 228.5) scale(1 1.08)" font-size="10" text-anchor="start" font-weight="normal" fill="#000" font-family="&quot;Liberation Sans&quot;, sans-serif" stroke="#000" stroke-width="0.28">32H+109L-LCB1</text>
<line x1="551.2" y1="231.4" x2="569.5" y2="239.7" stroke="#111" stroke-width="0.8"/>
<text transform="translate(491.7 261.7) scale(1 1.08)" font-size="10" text-anchor="start" font-weight="normal" fill="#000" font-family="&quot;Liberation Sans&quot;, sans-serif" stroke="#000" stroke-width="0.28">NC-Cow1-LCB1</text>
<line x1="557" y1="265.2" x2="567.5" y2="272.3" stroke="#111" stroke-width="0.8"/>
<text transform="translate(586 180.2) scale(1 1.08)" font-size="10" text-anchor="start" font-weight="normal" fill="#000" font-family="&quot;Liberation Sans&quot;, sans-serif" stroke="#000" stroke-width="0.28">trast-LCB1</text>
<line x1="605.5" y1="183" x2="587" y2="195.5" stroke="#111" stroke-width="0.8"/>
<line x1="485.2" y1="165.95" x2="485.2" y2="287.25" stroke="#9a9a9a" stroke-width="0.9"/>
<line x1="636" y1="165.95" x2="636" y2="287.25" stroke="#4a4a4a" stroke-width="0.9"/>
<line x1="484.75" y1="166.4" x2="636.45" y2="166.4" stroke="#4a4a4a" stroke-width="0.9"/>
<line x1="484.75" y1="286.8" x2="636.45" y2="286.8" stroke="#3a3a3a" stroke-width="0.9"/>
<line x1="482.7" y1="282.1" x2="485.2" y2="282.1" stroke="#3a3a3a" stroke-width="0.9"/>
<text transform="translate(481.6 285.5) scale(1 1.08)" font-size="9.5" text-anchor="end" font-weight="normal" fill="#000" font-family="&quot;Liberation Sans&quot;, sans-serif" stroke="#000" stroke-width="0.28">0.0</text>
<line x1="482.7" y1="227.05" x2="485.2" y2="227.05" stroke="#3a3a3a" stroke-width="0.9"/>
<text transform="translate(481.6 230.45) scale(1 1.08)" font-size="9.5" text-anchor="end" font-weight="normal" fill="#000" font-family="&quot;Liberation Sans&quot;, sans-serif" stroke="#000" stroke-width="0.28">0.5</text>
<line x1="482.7" y1="172" x2="485.2" y2="172" stroke="#3a3a3a" stroke-width="0.9"/>
<text transform="translate(481.6 175.4) scale(1 1.08)" font-size="9.5" text-anchor="end" font-weight="normal" fill="#000" font-family="&quot;Liberation Sans&quot;, sans-serif" stroke="#000" stroke-width="0.28">1.0</text>
<line x1="483.7" y1="254.58" x2="485.2" y2="254.58" stroke="#3a3a3a" stroke-width="0.9"/>
<line x1="483.7" y1="199.53" x2="485.2" y2="199.53" stroke="#3a3a3a" stroke-width="0.9"/>
<line x1="636" y1="267.6" x2="638.5" y2="267.6" stroke="#3a3a3a" stroke-width="0.9"/>
<text transform="translate(640.2 271) scale(1 1.08)" font-size="9.5" text-anchor="start" font-weight="normal" fill="#000" font-family="&quot;Liberation Sans&quot;, sans-serif" stroke="#000" stroke-width="0.28">50</text>
<line x1="636" y1="226.9" x2="638.5" y2="226.9" stroke="#3a3a3a" stroke-width="0.9"/>
<text transform="translate(640.2 230.3) scale(1 1.08)" font-size="9.5" text-anchor="start" font-weight="normal" fill="#000" font-family="&quot;Liberation Sans&quot;, sans-serif" stroke="#000" stroke-width="0.28">100</text>
<line x1="636" y1="186.2" x2="638.5" y2="186.2" stroke="#3a3a3a" stroke-width="0.9"/>
<text transform="translate(640.2 189.6) scale(1 1.08)" font-size="9.5" text-anchor="start" font-weight="normal" fill="#000" font-family="&quot;Liberation Sans&quot;, sans-serif" stroke="#000" stroke-width="0.28">150</text>
<line x1="636" y1="247.25" x2="637.5" y2="247.25" stroke="#3a3a3a" stroke-width="0.9"/>
<line x1="636" y1="206.55" x2="637.5" y2="206.55" stroke="#3a3a3a" stroke-width="0.9"/>
<line x1="517.4" y1="286.8" x2="517.4" y2="289.3" stroke="#3a3a3a" stroke-width="0.9"/>
<text transform="translate(517.4 299.8) scale(1 1.08)" font-size="9.5" text-anchor="middle" font-weight="normal" fill="#000" font-family="&quot;Liberation Sans&quot;, sans-serif" stroke="#000" stroke-width="0.28">12</text>
<line x1="549.6" y1="286.8" x2="549.6" y2="289.3" stroke="#3a3a3a" stroke-width="0.9"/>
<text transform="translate(549.6 299.8) scale(1 1.08)" font-size="9.5" text-anchor="middle" font-weight="normal" fill="#000" font-family="&quot;Liberation Sans&quot;, sans-serif" stroke="#000" stroke-width="0.28">14</text>
<line x1="581.8" y1="286.8" x2="581.8" y2="289.3" stroke="#3a3a3a" stroke-width="0.9"/>
<text transform="translate(581.8 299.8) scale(1 1.08)" font-size="9.5" text-anchor="middle" font-weight="normal" fill="#000" font-family="&quot;Liberation Sans&quot;, sans-serif" stroke="#000" stroke-width="0.28">16</text>
<line x1="614" y1="286.8" x2="614" y2="289.3" stroke="#3a3a3a" stroke-width="0.9"/>
<text transform="translate(614 299.8) scale(1 1.08)" font-size="9.5" text-anchor="middle" font-weight="normal" fill="#000" font-family="&quot;Liberation Sans&quot;, sans-serif" stroke="#000" stroke-width="0.28">18</text>
<line x1="501.3" y1="286.8" x2="501.3" y2="288.3" stroke="#3a3a3a" stroke-width="0.9"/>
<line x1="533.5" y1="286.8" x2="533.5" y2="288.3" stroke="#3a3a3a" stroke-width="0.9"/>
<line x1="565.7" y1="286.8" x2="565.7" y2="288.3" stroke="#3a3a3a" stroke-width="0.9"/>
<line x1="597.9" y1="286.8" x2="597.9" y2="288.3" stroke="#3a3a3a" stroke-width="0.9"/>
<line x1="630.1" y1="286.8" x2="630.1" y2="288.3" stroke="#3a3a3a" stroke-width="0.9"/>
<line x1="501.3" y1="166.4" x2="501.3" y2="168.4" stroke="#3a3a3a" stroke-width="0.9"/>
<line x1="517.4" y1="166.4" x2="517.4" y2="168.4" stroke="#3a3a3a" stroke-width="0.9"/>
<line x1="533.5" y1="166.4" x2="533.5" y2="168.4" stroke="#3a3a3a" stroke-width="0.9"/>
<line x1="549.6" y1="166.4" x2="549.6" y2="168.4" stroke="#3a3a3a" stroke-width="0.9"/>
<line x1="565.7" y1="166.4" x2="565.7" y2="168.4" stroke="#3a3a3a" stroke-width="0.9"/>
<line x1="581.8" y1="166.4" x2="581.8" y2="168.4" stroke="#3a3a3a" stroke-width="0.9"/>
<line x1="597.9" y1="166.4" x2="597.9" y2="168.4" stroke="#3a3a3a" stroke-width="0.9"/>
<line x1="614" y1="166.4" x2="614" y2="168.4" stroke="#3a3a3a" stroke-width="0.9"/>
<line x1="630.1" y1="166.4" x2="630.1" y2="168.4" stroke="#3a3a3a" stroke-width="0.9"/>
<text transform="translate(560 316.6) scale(1 1.08)" font-size="10" text-anchor="middle" font-weight="normal" fill="#000" font-family="&quot;Liberation Sans&quot;, sans-serif" stroke="#000" stroke-width="0.28">Retention time (min)</text>
<text transform="translate(461.6 227.8) rotate(-90) scale(1 1.08)" font-size="10" text-anchor="middle" font-weight="normal" fill="#000" font-family="&quot;Liberation Sans&quot;, sans-serif" stroke="#000" stroke-width="0.28">Relative UV detector signal</text>
<text transform="translate(667 227.6) rotate(-90) scale(1 1.08)" font-size="10" text-anchor="middle" font-weight="normal" fill="#000" font-family="&quot;Liberation Sans&quot;, sans-serif" stroke="#000" stroke-width="0.28">Molecular mass (kDa)</text>
<text transform="translate(-0.6 360.9)" font-size="11" text-anchor="start" font-weight="bold" fill="#000" font-family="&quot;Liberation Sans&quot;, sans-serif">e</text>
<path d="M42.6,480.56 C55.54,480.53 105.94,480.48 120.22,480.4 C134.51,480.32 126.35,480.62 128.3,480.08 C130.25,479.54 130.9,479.31 131.92,477.16 C132.94,475.01 133.59,472.33 134.4,467.2 C135.22,462.07 135.97,454.98 136.79,446.38 C137.6,437.78 138.61,423.02 139.27,415.6 C139.92,408.17 140.36,404.53 140.72,401.83 C141.08,399.13 141.2,399.4 141.44,399.4 C141.68,399.4 141.77,398.72 142.17,401.83 C142.56,404.94 143.08,410.6 143.82,418.03 C144.56,425.45 145.22,438.19 146.62,446.38 C148.01,454.57 150.22,462.54 152.21,467.2 C154.19,471.85 155.35,472.66 158.52,474.32 C161.69,475.99 166.42,476.48 171.25,477.16 C176.08,477.83 184.79,478.17 187.5,478.38" fill="none" stroke="#e8a317" stroke-width="1.8" stroke-linejoin="round" stroke-linecap="round"/>
<path d="M42.6,480.4 C49.84,480.37 78.22,480.32 86.07,480.24 C93.92,480.16 88.8,480.29 89.69,479.91 C90.59,479.54 90.8,479.24 91.45,477.97 C92.11,476.7 92.83,477.56 93.63,472.3 C94.42,467.03 95.47,455.83 96.21,446.38 C96.95,436.93 97.63,422.89 98.08,415.6 C98.52,408.31 98.66,405.34 98.9,402.64 C99.15,399.94 99.3,399.4 99.53,399.4 C99.75,399.4 99.99,399.53 100.25,402.64 C100.51,405.75 100.54,410.74 101.08,418.03 C101.61,425.32 102.65,439.36 103.46,446.38 C104.27,453.4 104.96,456.64 105.94,460.15 C106.93,463.66 108.1,465.55 109.36,467.44 C110.62,469.33 112.03,470.34 113.5,471.49 C114.96,472.64 116.34,473.51 118.16,474.32 C119.97,475.13 122.29,475.8 124.36,476.35 C126.43,476.9 127.81,477.31 130.57,477.65 C133.33,477.98 136.44,478.19 140.93,478.38 C145.41,478.56 149.72,478.6 157.49,478.78 C165.25,478.96 182.5,479.32 187.5,479.43" fill="none" stroke="#000000" stroke-width="1.8" stroke-linejoin="round" stroke-linecap="round"/>
<path d="M42.6,480.4 C46.57,480.37 61.64,480.32 66.41,480.24 C71.17,480.16 69.91,480.29 71.17,479.91 C72.43,479.54 73.2,478.94 73.96,477.97 C74.72,477 75.01,479.35 75.72,474.08 C76.43,468.82 77.44,456.13 78.2,446.38 C78.96,436.63 79.79,422.89 80.27,415.6 C80.76,408.31 80.86,405.34 81.1,402.64 C81.34,399.94 81.5,399.4 81.72,399.4 C81.95,399.4 82.1,399.53 82.45,402.64 C82.79,405.75 83.33,413.17 83.79,418.03 C84.26,422.89 84.72,427.07 85.24,431.8 C85.76,436.52 86.09,441.65 86.9,446.38 C87.71,451.11 88.86,456.69 90.11,460.15 C91.35,463.61 92.78,465.36 94.35,467.12 C95.92,468.87 97.77,469.75 99.53,470.68 C101.28,471.61 102.84,472.06 104.91,472.7 C106.98,473.35 109.43,474.1 111.94,474.57 C114.46,475.04 117.78,475.4 120.02,475.54 C122.26,475.67 123.9,475.58 125.4,475.38 C126.9,475.18 127.71,475.04 129.02,474.32 C130.33,473.61 132.14,473.45 133.27,471.08 C134.39,468.72 134.92,466.7 135.75,460.15 C136.58,453.6 137.51,439.76 138.23,431.8 C138.96,423.83 139.56,416.28 140.1,412.36 C140.63,408.44 140.99,408.31 141.44,408.31 C141.89,408.31 142.27,408.44 142.79,412.36 C143.31,416.28 143.44,423.83 144.55,431.8 C145.65,439.76 147.95,453.94 149.41,460.15 C150.88,466.36 152.05,467.17 153.34,469.06 C154.64,470.95 155.62,470.68 157.17,471.49 C158.73,472.3 160.31,473.27 162.66,473.92 C165.01,474.57 168.32,475.05 171.25,475.38 C174.18,475.7 177.55,475.76 180.25,475.86 C182.96,475.97 186.29,476 187.5,476.03" fill="none" stroke="#56b4e9" stroke-width="1.8" stroke-linejoin="round" stroke-linecap="round"/>
<polyline points="76.5,389.6 85.4,391.2" fill="none" stroke="#56b4e9" stroke-width="5" stroke-linejoin="round" stroke-linecap="butt"/>
<rect x="83.2" y="389" width="4.4" height="4.4" fill="#fff" stroke="#56b4e9" stroke-width="1"/>
<polyline points="94,427.2 102.2,427" fill="none" stroke="#000000" stroke-width="5" stroke-linejoin="round" stroke-linecap="butt"/>
<rect x="100" y="424.8" width="4.4" height="4.4" fill="#fff" stroke="#000000" stroke-width="1"/>
<polyline points="135.5,465 146.8,465.8" fill="none" stroke="#e8a317" stroke-width="5" stroke-linejoin="round" stroke-linecap="butt"/>
<rect x="144.6" y="463.6" width="4.4" height="4.4" fill="#fff" stroke="#e8a317" stroke-width="1"/>
<text transform="translate(45.5 379.7) scale(1 1.08)" font-family="&quot;Liberation Sans&quot;, sans-serif" font-size="10" fill="#111">(Fab-LCB1)<tspan font-size="6.8" dy="3">2</tspan><tspan dy="-3">+2RBD</tspan></text>
<line x1="69.2" y1="384.1" x2="79.7" y2="411.1" stroke="#111" stroke-width="0.8"/>
<text transform="translate(96.6 393.6) scale(1 1.08)" font-family="&quot;Liberation Sans&quot;, sans-serif" font-size="10" fill="#111">(Fab-LCB1)<tspan font-size="6.8" dy="3">2</tspan></text>
<line x1="118.8" y1="397.2" x2="102" y2="411" stroke="#111" stroke-width="0.8"/>
<text transform="translate(157.6 407.4) scale(1 1.08)" font-size="10" text-anchor="start" font-weight="normal" fill="#000" font-family="&quot;Liberation Sans&quot;, sans-serif" stroke="#000" stroke-width="0.28">RBD</text>
<line x1="156.6" y1="404.5" x2="144.5" y2="410.9" stroke="#111" stroke-width="0.8"/>
<rect x="42.6" y="366.3" width="145.2" height="118.3" fill="none" stroke="#3a3a3a" stroke-width="0.9"/>
<line x1="40.1" y1="480.4" x2="42.6" y2="480.4" stroke="#3a3a3a" stroke-width="0.9"/>
<text transform="translate(39.3 483.8) scale(1 1.08)" font-size="9.5" text-anchor="end" font-weight="normal" fill="#000" font-family="&quot;Liberation Sans&quot;, sans-serif" stroke="#000" stroke-width="0.28">0.0</text>
<line x1="40.1" y1="439.9" x2="42.6" y2="439.9" stroke="#3a3a3a" stroke-width="0.9"/>
<text transform="translate(39.3 443.3) scale(1 1.08)" font-size="9.5" text-anchor="end" font-weight="normal" fill="#000" font-family="&quot;Liberation Sans&quot;, sans-serif" stroke="#000" stroke-width="0.28">0.5</text>
<line x1="40.1" y1="399.4" x2="42.6" y2="399.4" stroke="#3a3a3a" stroke-width="0.9"/>
<text transform="translate(39.3 402.8) scale(1 1.08)" font-size="9.5" text-anchor="end" font-weight="normal" fill="#000" font-family="&quot;Liberation Sans&quot;, sans-serif" stroke="#000" stroke-width="0.28">1.0</text>
<line x1="41.1" y1="460.15" x2="42.6" y2="460.15" stroke="#3a3a3a" stroke-width="0.9"/>
<line x1="41.1" y1="419.65" x2="42.6" y2="419.65" stroke="#3a3a3a" stroke-width="0.9"/>
<line x1="41.1" y1="379.15" x2="42.6" y2="379.15" stroke="#3a3a3a" stroke-width="0.9"/>
<line x1="187.8" y1="484.6" x2="190.3" y2="484.6" stroke="#3a3a3a" stroke-width="0.9"/>
<text transform="translate(192 488) scale(1 1.08)" font-size="9.5" text-anchor="start" font-weight="normal" fill="#000" font-family="&quot;Liberation Sans&quot;, sans-serif" stroke="#000" stroke-width="0.28">0</text>
<line x1="187.8" y1="455.03" x2="190.3" y2="455.03" stroke="#3a3a3a" stroke-width="0.9"/>
<text transform="translate(192 458.43) scale(1 1.08)" font-size="9.5" text-anchor="start" font-weight="normal" fill="#000" font-family="&quot;Liberation Sans&quot;, sans-serif" stroke="#000" stroke-width="0.28">50</text>
<line x1="187.8" y1="425.45" x2="190.3" y2="425.45" stroke="#3a3a3a" stroke-width="0.9"/>
<text transform="translate(192 428.85) scale(1 1.08)" font-size="9.5" text-anchor="start" font-weight="normal" fill="#000" font-family="&quot;Liberation Sans&quot;, sans-serif" stroke="#000" stroke-width="0.28">100</text>
<line x1="187.8" y1="395.88" x2="190.3" y2="395.88" stroke="#3a3a3a" stroke-width="0.9"/>
<text transform="translate(192 399.27) scale(1 1.08)" font-size="9.5" text-anchor="start" font-weight="normal" fill="#000" font-family="&quot;Liberation Sans&quot;, sans-serif" stroke="#000" stroke-width="0.28">150</text>
<line x1="187.8" y1="366.3" x2="190.3" y2="366.3" stroke="#3a3a3a" stroke-width="0.9"/>
<text transform="translate(192 369.7) scale(1 1.08)" font-size="9.5" text-anchor="start" font-weight="normal" fill="#000" font-family="&quot;Liberation Sans&quot;, sans-serif" stroke="#000" stroke-width="0.28">200</text>
<line x1="187.8" y1="469.81" x2="189.3" y2="469.81" stroke="#3a3a3a" stroke-width="0.9"/>
<line x1="187.8" y1="440.24" x2="189.3" y2="440.24" stroke="#3a3a3a" stroke-width="0.9"/>
<line x1="187.8" y1="410.66" x2="189.3" y2="410.66" stroke="#3a3a3a" stroke-width="0.9"/>
<line x1="187.8" y1="381.09" x2="189.3" y2="381.09" stroke="#3a3a3a" stroke-width="0.9"/>
<line x1="63.3" y1="484.6" x2="63.3" y2="487.1" stroke="#3a3a3a" stroke-width="0.9"/>
<text transform="translate(63.3 496.3) scale(1 1.08)" font-size="9.5" text-anchor="middle" font-weight="normal" fill="#000" font-family="&quot;Liberation Sans&quot;, sans-serif" stroke="#000" stroke-width="0.28">12</text>
<line x1="104.7" y1="484.6" x2="104.7" y2="487.1" stroke="#3a3a3a" stroke-width="0.9"/>
<text transform="translate(104.7 496.3) scale(1 1.08)" font-size="9.5" text-anchor="middle" font-weight="normal" fill="#000" font-family="&quot;Liberation Sans&quot;, sans-serif" stroke="#000" stroke-width="0.28">16</text>
<line x1="146.1" y1="484.6" x2="146.1" y2="487.1" stroke="#3a3a3a" stroke-width="0.9"/>
<text transform="translate(146.1 496.3) scale(1 1.08)" font-size="9.5" text-anchor="middle" font-weight="normal" fill="#000" font-family="&quot;Liberation Sans&quot;, sans-serif" stroke="#000" stroke-width="0.28">20</text>
<line x1="187.5" y1="484.6" x2="187.5" y2="487.1" stroke="#3a3a3a" stroke-width="0.9"/>
<text transform="translate(187.5 496.3) scale(1 1.08)" font-size="9.5" text-anchor="middle" font-weight="normal" fill="#000" font-family="&quot;Liberation Sans&quot;, sans-serif" stroke="#000" stroke-width="0.28">24</text>
<line x1="84" y1="484.6" x2="84" y2="486.1" stroke="#3a3a3a" stroke-width="0.9"/>
<line x1="125.4" y1="484.6" x2="125.4" y2="486.1" stroke="#3a3a3a" stroke-width="0.9"/>
<line x1="166.8" y1="484.6" x2="166.8" y2="486.1" stroke="#3a3a3a" stroke-width="0.9"/>
<line x1="63.3" y1="366.3" x2="63.3" y2="368.3" stroke="#3a3a3a" stroke-width="0.9"/>
<line x1="84" y1="366.3" x2="84" y2="368.3" stroke="#3a3a3a" stroke-width="0.9"/>
<line x1="104.7" y1="366.3" x2="104.7" y2="368.3" stroke="#3a3a3a" stroke-width="0.9"/>
<line x1="125.4" y1="366.3" x2="125.4" y2="368.3" stroke="#3a3a3a" stroke-width="0.9"/>
<line x1="146.1" y1="366.3" x2="146.1" y2="368.3" stroke="#3a3a3a" stroke-width="0.9"/>
<line x1="166.8" y1="366.3" x2="166.8" y2="368.3" stroke="#3a3a3a" stroke-width="0.9"/>
<text transform="translate(115.4 512.8) scale(1 1.08)" font-size="9.85" text-anchor="middle" font-weight="normal" fill="#000" font-family="&quot;Liberation Sans&quot;, sans-serif" stroke="#000" stroke-width="0.28">Retention time (min)</text>
<text transform="translate(20.5 426.3) rotate(-90) scale(1 1.08)" font-size="10" text-anchor="middle" font-weight="normal" fill="#000" font-family="&quot;Liberation Sans&quot;, sans-serif" stroke="#000" stroke-width="0.28">Relative UV detector signal</text>
<text transform="translate(218.6 426.3) rotate(-90) scale(1 1.08)" font-size="10" text-anchor="middle" font-weight="normal" fill="#000" font-family="&quot;Liberation Sans&quot;, sans-serif" stroke="#000" stroke-width="0.28">Molecular mass (kDa)</text>
<text transform="translate(234.7 360.4)" font-size="11" text-anchor="start" font-weight="bold" fill="#000" font-family="&quot;Liberation Sans&quot;, sans-serif">f</text>
<path d="M277.4,480.3 C282.28,480.27 299.38,480.3 306.7,480.14 C314.02,479.98 317.35,480.34 321.35,479.33 C325.35,478.32 328.04,476.6 330.73,474.06 C333.41,471.52 335.61,466.68 337.46,464.1 C339.32,461.52 340.59,459.73 341.86,458.59 C343.13,457.46 343.86,457.12 345.08,457.3 C346.3,457.47 347.77,458.51 349.18,459.64 C350.6,460.78 352.26,462.82 353.58,464.1 C354.9,465.38 355.92,466.64 357.1,467.34 C358.27,468.04 359.44,468.72 360.61,468.31 C361.78,467.91 362.66,467.93 364.13,464.91 C365.59,461.89 367.84,454.49 369.4,450.17 C370.96,445.85 372.19,441.38 373.5,438.99 C374.82,436.6 376.04,435.7 377.31,435.83 C378.58,435.97 379.8,437.41 381.12,439.8 C382.44,442.19 383.32,445.93 385.22,450.17 C387.13,454.41 390.06,461.49 392.55,465.23 C395.04,468.97 397.38,470.99 400.17,472.61 C402.95,474.23 405.29,474.4 409.25,474.95 C413.21,475.51 421.46,475.76 423.9,475.93" fill="none" stroke="#000000" stroke-width="1.8" stroke-linejoin="round" stroke-linecap="round"/>
<path d="M277.4,480.3 C281.31,480.26 295.22,480.39 300.84,480.06 C306.46,479.72 307.38,480.21 311.09,478.28 C314.81,476.34 319.59,472.67 323.11,468.47 C326.62,464.28 329.8,457.59 332.19,453.08 C334.58,448.57 336.05,444.58 337.46,441.42 C338.88,438.26 339.81,435.68 340.69,434.13 C341.57,432.58 341.91,432.11 342.74,432.11 C343.57,432.11 344.25,431.9 345.67,434.13 C347.09,436.36 349.43,441.96 351.24,445.47 C353.04,448.98 355.05,452.83 356.51,455.19 C357.97,457.55 358.9,458.54 360.03,459.64 C361.15,460.75 362.13,461.76 363.25,461.83 C364.37,461.9 365.45,461.29 366.76,460.05 C368.08,458.81 369.45,456.03 371.16,454.38 C372.87,452.73 375.21,450.17 377.02,450.17 C378.83,450.17 380.24,452.29 382,454.38 C383.76,456.47 384.98,459.69 387.57,462.72 C390.16,465.76 393.92,470.55 397.53,472.61 C401.14,474.66 404.86,474.48 409.25,475.04 C413.64,475.59 421.46,475.78 423.9,475.93" fill="none" stroke="#e8a317" stroke-width="1.8" stroke-linejoin="round" stroke-linecap="round"/>
<path d="M277.4,480.3 C280.82,480.26 293.03,480.26 297.91,480.06 C302.79,479.85 304.01,480.12 306.7,479.09 C309.39,478.05 311.97,476.99 314.02,473.82 C316.08,470.65 317.49,465.25 319.01,460.05 C320.52,454.85 321.74,447.29 323.11,442.63 C324.48,437.98 325.79,434.44 327.21,432.11 C328.63,429.77 330.24,429.3 331.6,428.62 C332.97,427.95 334,428.06 335.41,428.06 C336.83,428.06 338.64,428.01 340.1,428.62 C341.57,429.23 342.93,430.19 344.2,431.7 C345.47,433.21 345.91,434 347.72,437.69 C349.53,441.39 352.99,449.93 355.04,453.89 C357.1,457.86 358.56,459.81 360.03,461.51 C361.49,463.21 362.47,463.48 363.83,464.1 C365.2,464.72 366.52,464.9 368.23,465.23 C369.94,465.57 372.38,465.77 374.09,466.12 C375.8,466.48 376.53,466.46 378.48,467.34 C380.44,468.22 382.34,470.18 385.81,471.39 C389.28,472.6 392.94,473.82 399.29,474.63 C405.64,475.44 419.8,475.98 423.9,476.25" fill="none" stroke="#56b4e9" stroke-width="1.8" stroke-linejoin="round" stroke-linecap="round"/>
<path d="M277.4,480.3 C280.33,480.27 290.54,480.3 294.98,480.14 C299.42,479.98 301.38,480.38 304.06,479.33 C306.75,478.28 308.85,479.33 311.09,473.82 C313.34,468.31 315.73,455.19 317.54,446.28 C319.35,437.37 320.72,427.25 321.94,420.36 C323.16,413.48 323.94,408.44 324.87,404.97 C325.79,401.5 326.62,399.95 327.5,399.54 C328.38,399.14 329.11,399.88 330.14,402.54 C331.17,405.2 332.44,410.64 333.66,415.5 C334.88,420.36 335.61,425.89 337.46,431.7 C339.32,437.5 342.59,445.67 344.79,450.33 C346.99,454.99 348.94,457.49 350.65,459.64 C352.36,461.8 353.48,462.17 355.04,463.29 C356.61,464.41 357.93,465.42 360.03,466.37 C362.13,467.31 364.32,467.96 367.64,468.96 C370.96,469.96 374.68,471.31 379.95,472.36 C385.22,473.42 391.96,474.47 399.29,475.28 C406.61,476.09 419.8,476.9 423.9,477.22" fill="none" stroke="#1a9a72" stroke-width="1.8" stroke-linejoin="round" stroke-linecap="round"/>
<polyline points="328,391.2 334,391.4 340.6,397.6" fill="none" stroke="#56b4e9" stroke-width="4.9" stroke-linejoin="round" stroke-linecap="butt"/>
<rect x="338.4" y="395.4" width="4.4" height="4.4" fill="#fff" stroke="#56b4e9" stroke-width="1"/>
<polyline points="322,392.4 332,392.4" fill="none" stroke="#1a9a72" stroke-width="4.9" stroke-linejoin="round" stroke-linecap="butt"/>
<rect x="329.8" y="390.2" width="4.4" height="4.4" fill="#fff" stroke="#1a9a72" stroke-width="1"/>
<polyline points="340,409.5 347.4,409.5" fill="none" stroke="#000000" stroke-width="4.9" stroke-linejoin="round" stroke-linecap="butt"/>
<rect x="345.2" y="407.3" width="4.4" height="4.4" fill="#fff" stroke="#000000" stroke-width="1"/>
<polyline points="339.5,404.5 346.8,405.6" fill="none" stroke="#e8a317" stroke-width="4.9" stroke-linejoin="round" stroke-linecap="butt"/>
<rect x="344.6" y="403.4" width="4.4" height="4.4" fill="#fff" stroke="#e8a317" stroke-width="1"/>
<polyline points="373,426.2 380.6,426.2" fill="none" stroke="#000000" stroke-width="4.9" stroke-linejoin="round" stroke-linecap="butt"/>
<rect x="378.4" y="424" width="4.4" height="4.4" fill="#fff" stroke="#000000" stroke-width="1"/>
<text transform="translate(336.4 382) scale(1 1.08)" font-size="10" text-anchor="start" font-weight="normal" fill="#000" font-family="&quot;Liberation Sans&quot;, sans-serif" stroke="#000" stroke-width="0.28">[RBD]/[Fab-LCB1]</text>
<text transform="translate(291.9 412.8) scale(1 1.08)" font-size="10" text-anchor="start" font-weight="normal" fill="#000" font-family="&quot;Liberation Sans&quot;, sans-serif" stroke="#000" stroke-width="0.28">2.0</text>
<line x1="307.6" y1="409" x2="321.6" y2="415.1" stroke="#111" stroke-width="0.8"/>
<text transform="translate(295.7 438.7) scale(1 1.08)" font-size="10" text-anchor="start" font-weight="normal" fill="#000" font-family="&quot;Liberation Sans&quot;, sans-serif" stroke="#000" stroke-width="0.28">1.5</text>
<line x1="309.5" y1="436.4" x2="323" y2="442.9" stroke="#111" stroke-width="0.8"/>
<text transform="translate(399.5 435.2) scale(1 1.08)" font-size="10" text-anchor="start" font-weight="normal" fill="#000" font-family="&quot;Liberation Sans&quot;, sans-serif" stroke="#000" stroke-width="0.28">0.5</text>
<line x1="398.5" y1="432" x2="383.2" y2="440.6" stroke="#111" stroke-width="0.8"/>
<text transform="translate(395.7 453.5) scale(1 1.08)" font-size="10" text-anchor="start" font-weight="normal" fill="#000" font-family="&quot;Liberation Sans&quot;, sans-serif" stroke="#000" stroke-width="0.28">1.0</text>
<line x1="395" y1="450.2" x2="381.3" y2="454" stroke="#111" stroke-width="0.8"/>
<line x1="277.6" y1="365.75" x2="277.6" y2="485.05" stroke="#aaaaaa" stroke-width="0.9"/>
<line x1="423.8" y1="365.75" x2="423.8" y2="485.05" stroke="#4a4a4a" stroke-width="0.9"/>
<line x1="277.15" y1="366.2" x2="424.25" y2="366.2" stroke="#555555" stroke-width="0.9"/>
<line x1="277.15" y1="484.6" x2="424.25" y2="484.6" stroke="#3a3a3a" stroke-width="0.9"/>
<line x1="275.1" y1="480.3" x2="277.6" y2="480.3" stroke="#3a3a3a" stroke-width="0.9"/>
<text transform="translate(274.3 483.7) scale(1 1.08)" font-size="9.5" text-anchor="end" font-weight="normal" fill="#000" font-family="&quot;Liberation Sans&quot;, sans-serif" stroke="#000" stroke-width="0.28">0.0</text>
<line x1="275.1" y1="439.8" x2="277.6" y2="439.8" stroke="#3a3a3a" stroke-width="0.9"/>
<text transform="translate(274.3 443.2) scale(1 1.08)" font-size="9.5" text-anchor="end" font-weight="normal" fill="#000" font-family="&quot;Liberation Sans&quot;, sans-serif" stroke="#000" stroke-width="0.28">0.5</text>
<line x1="275.1" y1="399.3" x2="277.6" y2="399.3" stroke="#3a3a3a" stroke-width="0.9"/>
<text transform="translate(274.3 402.7) scale(1 1.08)" font-size="9.5" text-anchor="end" font-weight="normal" fill="#000" font-family="&quot;Liberation Sans&quot;, sans-serif" stroke="#000" stroke-width="0.28">1.0</text>
<line x1="276.1" y1="460.05" x2="277.6" y2="460.05" stroke="#3a3a3a" stroke-width="0.9"/>
<line x1="276.1" y1="419.55" x2="277.6" y2="419.55" stroke="#3a3a3a" stroke-width="0.9"/>
<line x1="276.1" y1="379.05" x2="277.6" y2="379.05" stroke="#3a3a3a" stroke-width="0.9"/>
<line x1="423.8" y1="484.6" x2="426.3" y2="484.6" stroke="#3a3a3a" stroke-width="0.9"/>
<text transform="translate(428.4 488) scale(1 1.08)" font-size="9.5" text-anchor="start" font-weight="normal" fill="#000" font-family="&quot;Liberation Sans&quot;, sans-serif" stroke="#000" stroke-width="0.28">0</text>
<line x1="423.8" y1="455.03" x2="426.3" y2="455.03" stroke="#3a3a3a" stroke-width="0.9"/>
<text transform="translate(428.4 458.43) scale(1 1.08)" font-size="9.5" text-anchor="start" font-weight="normal" fill="#000" font-family="&quot;Liberation Sans&quot;, sans-serif" stroke="#000" stroke-width="0.28">50</text>
<line x1="423.8" y1="425.45" x2="426.3" y2="425.45" stroke="#3a3a3a" stroke-width="0.9"/>
<text transform="translate(428.4 428.85) scale(1 1.08)" font-size="9.5" text-anchor="start" font-weight="normal" fill="#000" font-family="&quot;Liberation Sans&quot;, sans-serif" stroke="#000" stroke-width="0.28">100</text>
<line x1="423.8" y1="395.88" x2="426.3" y2="395.88" stroke="#3a3a3a" stroke-width="0.9"/>
<text transform="translate(428.4 399.27) scale(1 1.08)" font-size="9.5" text-anchor="start" font-weight="normal" fill="#000" font-family="&quot;Liberation Sans&quot;, sans-serif" stroke="#000" stroke-width="0.28">150</text>
<line x1="423.8" y1="366.3" x2="426.3" y2="366.3" stroke="#3a3a3a" stroke-width="0.9"/>
<text transform="translate(428.4 369.7) scale(1 1.08)" font-size="9.5" text-anchor="start" font-weight="normal" fill="#000" font-family="&quot;Liberation Sans&quot;, sans-serif" stroke="#000" stroke-width="0.28">200</text>
<line x1="423.8" y1="469.81" x2="425.3" y2="469.81" stroke="#3a3a3a" stroke-width="0.9"/>
<line x1="423.8" y1="440.24" x2="425.3" y2="440.24" stroke="#3a3a3a" stroke-width="0.9"/>
<line x1="423.8" y1="410.66" x2="425.3" y2="410.66" stroke="#3a3a3a" stroke-width="0.9"/>
<line x1="423.8" y1="381.09" x2="425.3" y2="381.09" stroke="#3a3a3a" stroke-width="0.9"/>
<line x1="277.4" y1="484.6" x2="277.4" y2="487.1" stroke="#3a3a3a" stroke-width="0.9"/>
<text transform="translate(277.4 496.3) scale(1 1.08)" font-size="9.5" text-anchor="middle" font-weight="normal" fill="#000" font-family="&quot;Liberation Sans&quot;, sans-serif" stroke="#000" stroke-width="0.28">12</text>
<line x1="306.7" y1="484.6" x2="306.7" y2="487.1" stroke="#3a3a3a" stroke-width="0.9"/>
<text transform="translate(306.7 496.3) scale(1 1.08)" font-size="9.5" text-anchor="middle" font-weight="normal" fill="#000" font-family="&quot;Liberation Sans&quot;, sans-serif" stroke="#000" stroke-width="0.28">13</text>
<line x1="336" y1="484.6" x2="336" y2="487.1" stroke="#3a3a3a" stroke-width="0.9"/>
<text transform="translate(336 496.3) scale(1 1.08)" font-size="9.5" text-anchor="middle" font-weight="normal" fill="#000" font-family="&quot;Liberation Sans&quot;, sans-serif" stroke="#000" stroke-width="0.28">14</text>
<line x1="365.3" y1="484.6" x2="365.3" y2="487.1" stroke="#3a3a3a" stroke-width="0.9"/>
<text transform="translate(365.3 496.3) scale(1 1.08)" font-size="9.5" text-anchor="middle" font-weight="normal" fill="#000" font-family="&quot;Liberation Sans&quot;, sans-serif" stroke="#000" stroke-width="0.28">15</text>
<line x1="394.6" y1="484.6" x2="394.6" y2="487.1" stroke="#3a3a3a" stroke-width="0.9"/>
<text transform="translate(394.6 496.3) scale(1 1.08)" font-size="9.5" text-anchor="middle" font-weight="normal" fill="#000" font-family="&quot;Liberation Sans&quot;, sans-serif" stroke="#000" stroke-width="0.28">16</text>
<line x1="423.9" y1="484.6" x2="423.9" y2="487.1" stroke="#3a3a3a" stroke-width="0.9"/>
<text transform="translate(423.9 496.3) scale(1 1.08)" font-size="9.5" text-anchor="middle" font-weight="normal" fill="#000" font-family="&quot;Liberation Sans&quot;, sans-serif" stroke="#000" stroke-width="0.28">17</text>
<line x1="292.05" y1="484.6" x2="292.05" y2="486.1" stroke="#3a3a3a" stroke-width="0.9"/>
<line x1="321.35" y1="484.6" x2="321.35" y2="486.1" stroke="#3a3a3a" stroke-width="0.9"/>
<line x1="350.65" y1="484.6" x2="350.65" y2="486.1" stroke="#3a3a3a" stroke-width="0.9"/>
<line x1="379.95" y1="484.6" x2="379.95" y2="486.1" stroke="#3a3a3a" stroke-width="0.9"/>
<line x1="409.25" y1="484.6" x2="409.25" y2="486.1" stroke="#3a3a3a" stroke-width="0.9"/>
<line x1="292.05" y1="366.2" x2="292.05" y2="368.2" stroke="#3a3a3a" stroke-width="0.9"/>
<line x1="306.7" y1="366.2" x2="306.7" y2="368.2" stroke="#3a3a3a" stroke-width="0.9"/>
<line x1="321.35" y1="366.2" x2="321.35" y2="368.2" stroke="#3a3a3a" stroke-width="0.9"/>
<line x1="336" y1="366.2" x2="336" y2="368.2" stroke="#3a3a3a" stroke-width="0.9"/>
<line x1="350.65" y1="366.2" x2="350.65" y2="368.2" stroke="#3a3a3a" stroke-width="0.9"/>
<line x1="365.3" y1="366.2" x2="365.3" y2="368.2" stroke="#3a3a3a" stroke-width="0.9"/>
<line x1="379.95" y1="366.2" x2="379.95" y2="368.2" stroke="#3a3a3a" stroke-width="0.9"/>
<line x1="394.6" y1="366.2" x2="394.6" y2="368.2" stroke="#3a3a3a" stroke-width="0.9"/>
<line x1="409.25" y1="366.2" x2="409.25" y2="368.2" stroke="#3a3a3a" stroke-width="0.9"/>
<text transform="translate(350.7 512.8) scale(1 1.08)" font-size="9.85" text-anchor="middle" font-weight="normal" fill="#000" font-family="&quot;Liberation Sans&quot;, sans-serif" stroke="#000" stroke-width="0.28">Retention time (min)</text>
<text transform="translate(255.3 426.3) rotate(-90) scale(1 1.08)" font-size="10" text-anchor="middle" font-weight="normal" fill="#000" font-family="&quot;Liberation Sans&quot;, sans-serif" stroke="#000" stroke-width="0.28">Relative UV detector signal</text>
<text transform="translate(454.3 426.3) rotate(-90) scale(1 1.08)" font-size="10" text-anchor="middle" font-weight="normal" fill="#000" font-family="&quot;Liberation Sans&quot;, sans-serif" stroke="#000" stroke-width="0.28">Molecular mass (kDa)</text>
<text transform="translate(479.8 359.6)" font-size="11" text-anchor="start" font-weight="bold" fill="#000" font-family="&quot;Liberation Sans&quot;, sans-serif">g</text>
<polyline points="518.3,459.3 518.3,458.92 518.77,459.48 519.25,458.85 519.72,458.79 520.19,459.19 520.67,459.55 521.14,458.31 521.61,459.47 522.09,458.57 522.56,459.22 523.03,459.11 523.51,458.6 523.98,459.39 524.45,459.09 524.93,458.99 525.4,458.54 526.11,422 527.06,393.09 528.24,390.85 528.95,390.61 529.9,390.97 530.85,391.47 531.79,390.93 532.74,391.49 533.69,391.42 534.63,392.13 535.58,391.79 536.53,391.72 537.47,392.08 538.42,391.94 539.37,391.87 540.31,391.92 541.26,392.63 542.21,393.01 543.15,393.39 544.1,392.93 545.05,393.41 545.99,392.96 546.94,393.78 547.89,393.04 548.83,393.44 549.78,394.02 550.73,393.62 551.67,393.66 552.62,393.79 553.57,394.07 554.52,394.02 555.46,394.17 556.41,394.53 557.36,394.54 558.3,395.04 559.25,394.59 560.2,395.28 561.14,395.1 562.09,395.5 563.04,395.04 563.98,395.37 564.93,395.83 565.88,395.59 566.82,395.85 567.77,395.73 568.72,396.02 569.66,396.17 570.61,396.35 571.56,396.86 572.5,396.4 573.45,396.44 574.4,397.04 575.34,396.76 576.29,396.7 577.24,396.89 578.19,396.9 579.13,397.13 580.08,397.61 581.03,397.02 581.97,397.71 582.92,398.01 583.87,397.57 584.81,398.28 585.76,397.98 586.71,398.55 587.65,398.13 588.6,398.22 589.55,398.82 590.49,398.66 591.44,398.74 592.39,399.08 593.33,399.04 594.28,399.33 595.23,399.6 596.17,399.82 597.12,399.59 598.07,399.64 599.01,399.68 599.96,399.89 600.91,399.96 601.14,400.18 602.09,401.74 603.04,403.24 603.99,404.69 604.93,406.09 605.88,407.45 606.83,408.75 607.77,410.02 608.72,411.24 609.67,412.42 610.61,413.55 611.56,414.65 612.51,415.71 613.45,416.74 614.4,417.73 615.35,418.69 616.29,419.61 617.24,420.5 618.19,421.36 619.13,422.19 620.08,423 621.03,423.77 621.97,424.52 622.92,425.25 623.87,425.95 624.81,426.62 625.76,427.27 626.71,427.9 627.66,428.51 628.6,429.1 629.55,429.67 630.5,430.22 631.44,430.75 632.39,431.26 633.34,431.75 634.28,432.23 635.23,432.69 636.18,433.13 637.12,433.56 638.07,433.98 639.02,434.38 639.96,434.77 640.91,435.14 641.86,435.5 642.8,435.85 643.75,436.19 644.7,436.51 645.64,436.83 646.59,437.13 647.54,437.42 648.48,437.71 649.43,437.98 650.38,438.24 651.33,438.5 652.27,438.74 653.22,438.98 654.17,439.21 655.11,439.43 656.06,439.65 657.01,439.85 657.95,440.05 658.9,440.25 659.85,440.43 660.79,440.61 661.74,440.79 662.69,440.96 663.63,441.12 664.58,441.28 665.53,441.43 666.47,441.57 667.42,441.71 668.37,441.85 669.31,441.98" fill="none" stroke="#000000" stroke-width="1.9" stroke-linejoin="round" stroke-linecap="round"/>
<polyline points="518.3,457.88 519.01,457.47 519.72,458.07 520.43,457.77 521.14,458.01 521.85,458.09 522.56,457.62 523.27,457.99 523.98,458.4 524.69,458.12 525.4,458.34 526.11,457.88 526.82,458.51 527.53,458.36 528.24,458.53 528.95,458.59 529.66,458.35 530.37,458.31 531.08,458.33 531.79,458.67 532.5,458.81 533.21,458.61 533.92,458.86 534.63,458.48 535.34,459.17 536.05,458.81 536.76,459.22 537.47,459.22 538.18,459.4 538.89,459.38 539.6,459.03 540.31,459.34 541.02,459.47 541.73,459.55 542.44,459.53 543.15,459.47 543.86,459.23 544.57,459.46 545.28,459.52 545.99,459.58 546.7,459.44 547.41,459.85 548.12,459.62 548.83,459.98 549.54,460.01 550.25,459.69 550.96,459.86 551.67,459.96 552.38,460.17 553.09,459.91 553.8,459.57 554.52,459.97 555.23,460.01 555.94,460.2 556.65,459.97 557.36,460.35 558.07,459.67 558.78,460.3 559.49,460.39 560.2,460.18 560.91,460.73 561.62,460.68 562.33,460.74 563.04,460.67 563.75,460.28 564.46,460.92 565.17,460.22 565.88,460.59 566.59,460.5 567.3,460.84 568.01,461.27 568.72,461.24 569.43,460.74 570.14,461.14 570.85,461.03 571.56,461.09 572.27,460.88 572.98,460.96 573.69,461.21 574.4,461.31 575.11,461.16 575.82,461.65 576.53,461.61 577.24,461.79 577.95,461.75 578.66,461.93 579.37,461.46 580.08,461.74 580.79,461.34 581.5,461.85 582.21,461.76 582.92,461.97 583.63,461.75 584.34,461.82 585.05,462.07 585.76,461.97 586.47,462.25 587.18,462.26 587.89,462.4 588.6,462.04 589.31,462.48 590.02,462.56 590.73,462.16 591.44,462.43 592.15,462.75 592.86,462.75 593.57,462.68 594.28,462.84 594.99,462.66 595.7,462.95 596.41,463 597.12,462.61 597.83,462.46 598.54,462.58 599.25,463 599.96,462.84 600.67,463.05 601.38,463.48 602.09,464.04 602.8,464.2 603.51,464.06 604.22,464.36 604.93,464.73 605.64,465.09 606.35,465.06 607.06,465.38 607.77,464.79 608.48,465.27 609.19,465.15 609.9,465.33 610.61,465.6 611.32,465.44 612.03,465.47 612.74,465.62 613.45,465.67 614.16,465.65 614.87,465.98 615.58,465.85 616.29,465.97 617,466.09 617.71,465.94 618.42,466.49 619.13,466.37 619.84,466.16 620.55,465.83 621.26,466.09 621.97,466.42 622.68,465.99 623.39,466.32 624.1,466.55 624.81,466.48 625.53,466.17 626.24,466.37 626.95,466.74 627.66,466.87 628.37,466.55 629.08,466.98 629.79,466.88 630.5,466.67 631.21,467.1 631.92,467.09 632.63,466.92 633.34,467.07 634.05,466.78 634.76,467.11 635.47,467.02 636.18,467.06 636.89,467.37 637.6,467.11 638.31,467.05 639.02,467.42 639.73,467.55 640.44,467.54 641.15,467.22 641.86,467.58 642.57,467.73 643.28,467.94 643.99,467.72 644.7,468.05 645.41,467.61 646.12,468.03 646.83,468.18 647.54,467.74 648.25,467.92 648.96,467.94 649.67,468.29 650.38,467.97 651.09,468.11 651.8,468.19 652.51,468.08 653.22,468.09 653.93,468.38 654.64,468.08 655.35,468.34 656.06,468.52 656.77,468.42 657.48,468.54 658.19,468.31 658.9,468.64 659.61,468.77 660.32,468.78 661.03,468.66 661.74,469.22 662.45,469.21 663.16,469.03 663.87,468.92 664.58,468.93 665.29,469.18 666,469.5 666.71,469.67 667.42,469.3 668.13,469.4 668.84,469.29" fill="none" stroke="#e8a317" stroke-width="1.6" stroke-linejoin="round" stroke-linecap="round"/>
<text transform="translate(523.7 379.3) scale(1 1.08)" font-size="10" text-anchor="start" font-weight="normal" fill="#000" font-family="&quot;Liberation Sans&quot;, sans-serif" stroke="#000" stroke-width="0.28">immobilized ACE2</text>
<text transform="translate(549 413.1) scale(1 1.08)" font-size="10" text-anchor="start" font-weight="normal" fill="#000" font-family="&quot;Liberation Sans&quot;, sans-serif" stroke="#000" stroke-width="0.28">+RBD</text>
<line x1="553.9" y1="395.4" x2="565.1" y2="402.6" stroke="#111" stroke-width="0.8"/>
<text transform="translate(531 478.6) scale(1 1.08)" font-size="10" text-anchor="start" font-weight="normal" fill="#000" font-family="&quot;Liberation Sans&quot;, sans-serif" stroke="#000" stroke-width="0.28">+ 1:1 [RBD]/[Fab-LCB1]</text>
<line x1="561.9" y1="460.6" x2="573.1" y2="467.7" stroke="#111" stroke-width="0.8"/>
<line x1="518.1" y1="364.95" x2="518.1" y2="487.55" stroke="#b5b5b5" stroke-width="0.9"/>
<line x1="669" y1="364.95" x2="669" y2="487.55" stroke="#777777" stroke-width="0.9"/>
<line x1="517.65" y1="365.4" x2="669.45" y2="365.4" stroke="#999999" stroke-width="0.9"/>
<line x1="517.65" y1="487.1" x2="669.45" y2="487.1" stroke="#4a4a4a" stroke-width="0.9"/>
<line x1="515.6" y1="459.3" x2="518.1" y2="459.3" stroke="#3a3a3a" stroke-width="0.9"/>
<text transform="translate(514.8 462.7) scale(1 1.08)" font-size="9.5" text-anchor="end" font-weight="normal" fill="#000" font-family="&quot;Liberation Sans&quot;, sans-serif" stroke="#000" stroke-width="0.28">0.0</text>
<line x1="515.6" y1="422" x2="518.1" y2="422" stroke="#3a3a3a" stroke-width="0.9"/>
<text transform="translate(514.8 425.4) scale(1 1.08)" font-size="9.5" text-anchor="end" font-weight="normal" fill="#000" font-family="&quot;Liberation Sans&quot;, sans-serif" stroke="#000" stroke-width="0.28">0.2</text>
<line x1="515.6" y1="384.7" x2="518.1" y2="384.7" stroke="#3a3a3a" stroke-width="0.9"/>
<text transform="translate(514.8 388.1) scale(1 1.08)" font-size="9.5" text-anchor="end" font-weight="normal" fill="#000" font-family="&quot;Liberation Sans&quot;, sans-serif" stroke="#000" stroke-width="0.28">0.4</text>
<line x1="516.6" y1="477.95" x2="518.1" y2="477.95" stroke="#3a3a3a" stroke-width="0.9"/>
<line x1="516.6" y1="440.65" x2="518.1" y2="440.65" stroke="#3a3a3a" stroke-width="0.9"/>
<line x1="516.6" y1="403.35" x2="518.1" y2="403.35" stroke="#3a3a3a" stroke-width="0.9"/>
<line x1="518.3" y1="487.1" x2="518.3" y2="489.6" stroke="#3a3a3a" stroke-width="0.9"/>
<text transform="translate(518.3 499.8) scale(1 1.08)" font-size="9.5" text-anchor="middle" font-weight="normal" fill="#000" font-family="&quot;Liberation Sans&quot;, sans-serif" stroke="#000" stroke-width="0.28">0</text>
<line x1="589.31" y1="487.1" x2="589.31" y2="489.6" stroke="#3a3a3a" stroke-width="0.9"/>
<text transform="translate(589.31 499.8) scale(1 1.08)" font-size="9.5" text-anchor="middle" font-weight="normal" fill="#000" font-family="&quot;Liberation Sans&quot;, sans-serif" stroke="#000" stroke-width="0.28">300</text>
<line x1="660.32" y1="487.1" x2="660.32" y2="489.6" stroke="#3a3a3a" stroke-width="0.9"/>
<text transform="translate(660.32 499.8) scale(1 1.08)" font-size="9.5" text-anchor="middle" font-weight="normal" fill="#000" font-family="&quot;Liberation Sans&quot;, sans-serif" stroke="#000" stroke-width="0.28">600</text>
<line x1="553.8" y1="487.1" x2="553.8" y2="488.6" stroke="#3a3a3a" stroke-width="0.9"/>
<line x1="624.81" y1="487.1" x2="624.81" y2="488.6" stroke="#3a3a3a" stroke-width="0.9"/>
<text transform="translate(593.5 514) scale(1 1.08)" font-size="10" text-anchor="middle" font-weight="normal" fill="#000" font-family="&quot;Liberation Sans&quot;, sans-serif" stroke="#000" stroke-width="0.28">Response (RU)</text>
<text transform="translate(495.5 426.7) rotate(-90) scale(1 1.08)" font-size="10" text-anchor="middle" font-weight="normal" fill="#000" font-family="&quot;Liberation Sans&quot;, sans-serif" stroke="#000" stroke-width="0.28">Response (RU)</text>
<text transform="translate(-0.9 540.8)" font-size="11" text-anchor="start" font-weight="bold" fill="#000" font-family="&quot;Liberation Sans&quot;, sans-serif">h</text>
<line x1="136.5" y1="580.62" x2="136.5" y2="555.12" stroke="#000" stroke-width="0.9" stroke-opacity="0.7"/>
<line x1="134" y1="580.62" x2="139" y2="580.62" stroke="#000" stroke-width="0.9" stroke-opacity="0.7"/>
<line x1="134" y1="555.12" x2="139" y2="555.12" stroke="#000" stroke-width="0.9" stroke-opacity="0.7"/>
<line x1="152.88" y1="634.82" x2="152.88" y2="631.63" stroke="#000" stroke-width="0.9" stroke-opacity="0.7"/>
<line x1="150.38" y1="634.82" x2="155.38" y2="634.82" stroke="#000" stroke-width="0.9" stroke-opacity="0.7"/>
<line x1="150.38" y1="631.63" x2="155.38" y2="631.63" stroke="#000" stroke-width="0.9" stroke-opacity="0.7"/>
<line x1="234.75" y1="639.6" x2="234.75" y2="636.41" stroke="#000" stroke-width="0.9" stroke-opacity="0.7"/>
<line x1="232.25" y1="639.6" x2="237.25" y2="639.6" stroke="#000" stroke-width="0.9" stroke-opacity="0.7"/>
<line x1="232.25" y1="636.41" x2="237.25" y2="636.41" stroke="#000" stroke-width="0.9" stroke-opacity="0.7"/>
<line x1="251.12" y1="638.8" x2="251.12" y2="634.02" stroke="#000" stroke-width="0.9" stroke-opacity="0.7"/>
<line x1="248.62" y1="638.8" x2="253.62" y2="638.8" stroke="#000" stroke-width="0.9" stroke-opacity="0.7"/>
<line x1="248.62" y1="634.02" x2="253.62" y2="634.02" stroke="#000" stroke-width="0.9" stroke-opacity="0.7"/>
<line x1="71" y1="562.29" x2="71" y2="559.1" stroke="#e8a317" stroke-width="0.9" stroke-opacity="0.7"/>
<line x1="68.5" y1="562.29" x2="73.5" y2="562.29" stroke="#e8a317" stroke-width="0.9" stroke-opacity="0.7"/>
<line x1="68.5" y1="559.1" x2="73.5" y2="559.1" stroke="#e8a317" stroke-width="0.9" stroke-opacity="0.7"/>
<line x1="136.5" y1="587.79" x2="136.5" y2="575.04" stroke="#e8a317" stroke-width="0.9" stroke-opacity="0.7"/>
<line x1="134" y1="587.79" x2="139" y2="587.79" stroke="#e8a317" stroke-width="0.9" stroke-opacity="0.7"/>
<line x1="134" y1="575.04" x2="139" y2="575.04" stroke="#e8a317" stroke-width="0.9" stroke-opacity="0.7"/>
<line x1="152.88" y1="626.85" x2="152.88" y2="617.28" stroke="#e8a317" stroke-width="0.9" stroke-opacity="0.7"/>
<line x1="150.38" y1="626.85" x2="155.38" y2="626.85" stroke="#e8a317" stroke-width="0.9" stroke-opacity="0.7"/>
<line x1="150.38" y1="617.28" x2="155.38" y2="617.28" stroke="#e8a317" stroke-width="0.9" stroke-opacity="0.7"/>
<line x1="136.5" y1="584.61" x2="136.5" y2="575.04" stroke="#56b4e9" stroke-width="0.9" stroke-opacity="0.7"/>
<line x1="134" y1="584.61" x2="139" y2="584.61" stroke="#56b4e9" stroke-width="0.9" stroke-opacity="0.7"/>
<line x1="134" y1="575.04" x2="139" y2="575.04" stroke="#56b4e9" stroke-width="0.9" stroke-opacity="0.7"/>
<line x1="136.5" y1="580.62" x2="136.5" y2="571.06" stroke="#1a9a72" stroke-width="0.9" stroke-opacity="0.7"/>
<line x1="134" y1="580.62" x2="139" y2="580.62" stroke="#1a9a72" stroke-width="0.9" stroke-opacity="0.7"/>
<line x1="134" y1="571.06" x2="139" y2="571.06" stroke="#1a9a72" stroke-width="0.9" stroke-opacity="0.7"/>
<line x1="152.88" y1="632.43" x2="152.88" y2="626.05" stroke="#1a9a72" stroke-width="0.9" stroke-opacity="0.7"/>
<line x1="150.38" y1="632.43" x2="155.38" y2="632.43" stroke="#1a9a72" stroke-width="0.9" stroke-opacity="0.7"/>
<line x1="150.38" y1="626.05" x2="155.38" y2="626.05" stroke="#1a9a72" stroke-width="0.9" stroke-opacity="0.7"/>
<rect x="68.15" y="559.44" width="5.7" height="5.7" fill="#000" stroke="none" stroke-width="1"/>
<rect x="84.53" y="559.44" width="5.7" height="5.7" fill="#000" stroke="none" stroke-width="1"/>
<rect x="100.9" y="557.85" width="5.7" height="5.7" fill="#000" stroke="none" stroke-width="1"/>
<rect x="117.28" y="557.85" width="5.7" height="5.7" fill="#000" stroke="none" stroke-width="1"/>
<rect x="133.65" y="565.02" width="5.7" height="5.7" fill="#000" stroke="none" stroke-width="1"/>
<rect x="150.03" y="630.37" width="5.7" height="5.7" fill="#000" stroke="none" stroke-width="1"/>
<rect x="166.4" y="635.95" width="5.7" height="5.7" fill="#000" stroke="none" stroke-width="1"/>
<rect x="182.78" y="636.35" width="5.7" height="5.7" fill="#000" stroke="none" stroke-width="1"/>
<rect x="199.15" y="635.95" width="5.7" height="5.7" fill="#000" stroke="none" stroke-width="1"/>
<rect x="215.53" y="636.35" width="5.7" height="5.7" fill="#000" stroke="none" stroke-width="1"/>
<rect x="231.9" y="635.16" width="5.7" height="5.7" fill="#000" stroke="none" stroke-width="1"/>
<rect x="248.28" y="633.56" width="5.7" height="5.7" fill="#000" stroke="none" stroke-width="1"/>
<rect x="264.65" y="635.95" width="5.7" height="5.7" fill="#000" stroke="none" stroke-width="1"/>
<rect x="281.02" y="635.16" width="5.7" height="5.7" fill="#000" stroke="none" stroke-width="1"/>
<circle cx="71" cy="560.7" r="3.23" fill="#e8a317"/>
<circle cx="87.38" cy="561.49" r="3.23" fill="#e8a317"/>
<circle cx="103.75" cy="562.29" r="3.23" fill="#e8a317"/>
<circle cx="120.12" cy="562.29" r="3.23" fill="#e8a317"/>
<circle cx="136.5" cy="581.42" r="3.23" fill="#e8a317"/>
<circle cx="152.88" cy="622.07" r="3.23" fill="#e8a317"/>
<circle cx="169.25" cy="639.2" r="3.23" fill="#e8a317"/>
<circle cx="185.62" cy="639.6" r="3.23" fill="#e8a317"/>
<circle cx="202" cy="639.6" r="3.23" fill="#e8a317"/>
<circle cx="218.38" cy="639.6" r="3.23" fill="#e8a317"/>
<circle cx="234.75" cy="638.8" r="3.23" fill="#e8a317"/>
<circle cx="251.12" cy="638.8" r="3.23" fill="#e8a317"/>
<circle cx="267.5" cy="638.8" r="3.23" fill="#e8a317"/>
<circle cx="283.88" cy="638.8" r="3.23" fill="#e8a317"/>
<polygon points="67.39,562.94 74.61,562.94 71,556.48" fill="#56b4e9"/>
<polygon points="83.77,562.14 90.98,562.14 87.38,555.68" fill="#56b4e9"/>
<polygon points="100.14,562.14 107.36,562.14 103.75,555.68" fill="#56b4e9"/>
<polygon points="116.52,562.94 123.73,562.94 120.12,556.48" fill="#56b4e9"/>
<polygon points="132.89,582.87 140.11,582.87 136.5,576.41" fill="#56b4e9"/>
<polygon points="149.26,641.05 156.49,641.05 152.88,634.59" fill="#56b4e9"/>
<polygon points="165.64,642.64 172.86,642.64 169.25,636.18" fill="#56b4e9"/>
<polygon points="182.01,642.64 189.24,642.64 185.62,636.18" fill="#56b4e9"/>
<polygon points="198.39,642.24 205.61,642.24 202,635.78" fill="#56b4e9"/>
<polygon points="214.76,641.84 221.99,641.84 218.38,635.38" fill="#56b4e9"/>
<polygon points="231.14,641.84 238.36,641.84 234.75,635.38" fill="#56b4e9"/>
<polygon points="247.51,641.05 254.74,641.05 251.12,634.59" fill="#56b4e9"/>
<polygon points="263.89,641.05 271.11,641.05 267.5,634.59" fill="#56b4e9"/>
<polygon points="280.26,641.05 287.49,641.05 283.88,634.59" fill="#56b4e9"/>
<polygon points="67.39,560.05 74.61,560.05 71,566.51" fill="#1a9a72"/>
<polygon points="83.77,560.05 90.98,560.05 87.38,566.51" fill="#1a9a72"/>
<polygon points="100.14,560.85 107.36,560.85 103.75,567.3" fill="#1a9a72"/>
<polygon points="116.52,560.85 123.73,560.85 120.12,567.3" fill="#1a9a72"/>
<polygon points="132.89,572.8 140.11,572.8 136.5,579.26" fill="#1a9a72"/>
<polygon points="149.26,626.2 156.49,626.2 152.88,632.66" fill="#1a9a72"/>
<polygon points="165.64,637.36 172.86,637.36 169.25,643.82" fill="#1a9a72"/>
<polygon points="182.01,637.36 189.24,637.36 185.62,643.82" fill="#1a9a72"/>
<polygon points="198.39,637.76 205.61,637.76 202,644.22" fill="#1a9a72"/>
<polygon points="214.76,636.56 221.99,636.56 218.38,643.02" fill="#1a9a72"/>
<polygon points="231.14,636.56 238.36,636.56 234.75,643.02" fill="#1a9a72"/>
<polygon points="247.51,637.36 254.74,637.36 251.12,643.82" fill="#1a9a72"/>
<polygon points="263.89,636.56 271.11,636.56 267.5,643.02" fill="#1a9a72"/>
<polygon points="280.26,636.56 287.49,636.56 283.88,643.02" fill="#1a9a72"/>
<polyline points="69.03,560.7 70.86,560.7 72.68,560.7 74.5,560.7 76.33,560.7 78.15,560.7 79.97,560.7 81.8,560.7 83.62,560.7 85.44,560.7 87.27,560.7 89.09,560.7 90.91,560.7 92.74,560.7 94.56,560.7 96.38,560.7 98.21,560.7 100.03,560.7 101.85,560.7 103.68,560.7 105.5,560.71 107.32,560.71 109.15,560.72 110.97,560.74 112.79,560.76 114.62,560.8 116.44,560.85 118.26,560.95 120.09,561.09 121.91,561.32 123.73,561.68 125.56,562.24 127.38,563.12 129.2,564.47 131.03,566.52 132.85,569.55 134.67,573.87 136.5,579.71 138.32,587.09 140.14,595.64 141.97,604.62 143.79,613.09 145.61,620.35 147.44,626.06 149.26,630.25 151.08,633.19 152.91,635.17 154.73,636.47 156.55,637.32 158.38,637.86 160.2,638.21 162.02,638.43 163.84,638.56 165.67,638.65 167.49,638.71 169.31,638.74 171.14,638.77 172.96,638.78 174.78,638.79 176.61,638.79 178.43,638.8 180.25,638.8 182.08,638.8 183.9,638.8 185.72,638.8 187.55,638.8 189.37,638.8 191.19,638.8 193.02,638.8 194.84,638.8 196.66,638.8 198.49,638.8 200.31,638.8 202.13,638.8 203.96,638.8 205.78,638.8 207.6,638.8 209.43,638.8 211.25,638.8 213.07,638.8 214.9,638.8 216.72,638.8 218.54,638.8 220.37,638.8 222.19,638.8 224.01,638.8 225.84,638.8 227.66,638.8 229.48,638.8 231.31,638.8 233.13,638.8 234.95,638.8 236.78,638.8 238.6,638.8 240.42,638.8 242.25,638.8 244.07,638.8 245.89,638.8 247.72,638.8 249.54,638.8 251.36,638.8 253.18,638.8 255.01,638.8 256.83,638.8 258.65,638.8 260.48,638.8 262.3,638.8 264.12,638.8 265.95,638.8 267.77,638.8 269.59,638.8 271.42,638.8 273.24,638.8 275.06,638.8 276.89,638.8 278.71,638.8 280.53,638.8 282.36,638.8 284.18,638.8 286,638.8" fill="none" stroke="#000000" stroke-width="1.5" stroke-linejoin="round" stroke-linecap="round"/>
<polyline points="69.03,561.89 70.86,561.89 72.68,561.89 74.5,561.89 76.33,561.89 78.15,561.89 79.97,561.89 81.8,561.89 83.62,561.89 85.44,561.89 87.27,561.9 89.09,561.9 90.91,561.9 92.74,561.9 94.56,561.9 96.38,561.91 98.21,561.91 100.03,561.92 101.85,561.93 103.68,561.94 105.5,561.96 107.32,561.99 109.15,562.03 110.97,562.08 112.79,562.16 114.62,562.27 116.44,562.41 118.26,562.62 120.09,562.9 121.91,563.29 123.73,563.83 125.56,564.57 127.38,565.58 129.2,566.94 131.03,568.75 132.85,571.14 134.67,574.22 136.5,578.08 138.32,582.75 140.14,588.19 141.97,594.24 143.79,600.63 145.61,607.01 147.44,613.05 149.26,618.47 151.08,623.13 152.91,626.96 154.73,630.02 156.55,632.39 158.38,634.2 160.2,635.55 162.02,636.55 163.84,637.28 165.67,637.82 167.49,638.2 169.31,638.48 171.14,638.69 172.96,638.83 174.78,638.94 176.61,639.01 178.43,639.06 180.25,639.1 182.08,639.13 183.9,639.15 185.72,639.17 187.55,639.18 189.37,639.18 191.19,639.19 193.02,639.19 194.84,639.19 196.66,639.2 198.49,639.2 200.31,639.2 202.13,639.2 203.96,639.2 205.78,639.2 207.6,639.2 209.43,639.2 211.25,639.2 213.07,639.2 214.9,639.2 216.72,639.2 218.54,639.2 220.37,639.2 222.19,639.2 224.01,639.2 225.84,639.2 227.66,639.2 229.48,639.2 231.31,639.2 233.13,639.2 234.95,639.2 236.78,639.2 238.6,639.2 240.42,639.2 242.25,639.2 244.07,639.2 245.89,639.2 247.72,639.2 249.54,639.2 251.36,639.2 253.18,639.2 255.01,639.2 256.83,639.2 258.65,639.2 260.48,639.2 262.3,639.2 264.12,639.2 265.95,639.2 267.77,639.2 269.59,639.2 271.42,639.2 273.24,639.2 275.06,639.2 276.89,639.2 278.71,639.2 280.53,639.2 282.36,639.2 284.18,639.2 286,639.2" fill="none" stroke="#e8a317" stroke-width="1.5" stroke-linejoin="round" stroke-linecap="round"/>
<polyline points="69.03,563.09 70.86,563.09 72.68,563.09 74.5,563.09 76.33,563.09 78.15,563.09 79.97,563.09 81.8,563.09 83.62,563.09 85.44,563.09 87.27,563.09 89.09,563.09 90.91,563.09 92.74,563.09 94.56,563.09 96.38,563.1 98.21,563.1 100.03,563.11 101.85,563.11 103.68,563.13 105.5,563.14 107.32,563.16 109.15,563.2 110.97,563.24 112.79,563.31 114.62,563.41 116.44,563.54 118.26,563.74 120.09,564.02 121.91,564.41 123.73,564.97 125.56,565.75 127.38,566.84 129.2,568.35 131.03,570.4 132.85,573.15 134.67,576.71 136.5,581.2 138.32,586.6 140.14,592.79 141.97,599.48 143.79,606.28 145.61,612.76 147.44,618.57 149.26,623.51 151.08,627.52 152.91,630.64 154.73,633.01 156.55,634.77 158.38,636.05 160.2,636.97 162.02,637.63 163.84,638.1 165.67,638.43 167.49,638.66 169.31,638.82 171.14,638.94 172.96,639.02 174.78,639.07 176.61,639.11 178.43,639.14 180.25,639.16 182.08,639.17 183.9,639.18 185.72,639.19 187.55,639.19 189.37,639.19 191.19,639.2 193.02,639.2 194.84,639.2 196.66,639.2 198.49,639.2 200.31,639.2 202.13,639.2 203.96,639.2 205.78,639.2 207.6,639.2 209.43,639.2 211.25,639.2 213.07,639.2 214.9,639.2 216.72,639.2 218.54,639.2 220.37,639.2 222.19,639.2 224.01,639.2 225.84,639.2 227.66,639.2 229.48,639.2 231.31,639.2 233.13,639.2 234.95,639.2 236.78,639.2 238.6,639.2 240.42,639.2 242.25,639.2 244.07,639.2 245.89,639.2 247.72,639.2 249.54,639.2 251.36,639.2 253.18,639.2 255.01,639.2 256.83,639.2 258.65,639.2 260.48,639.2 262.3,639.2 264.12,639.2 265.95,639.2 267.77,639.2 269.59,639.2 271.42,639.2 273.24,639.2 275.06,639.2 276.89,639.2 278.71,639.2 280.53,639.2 282.36,639.2 284.18,639.2 286,639.2" fill="none" stroke="#1a9a72" stroke-width="1.5" stroke-linejoin="round" stroke-linecap="round"/>
<polyline points="69.03,559.9 70.86,559.9 72.68,559.9 74.5,559.9 76.33,559.9 78.15,559.9 79.97,559.9 81.8,559.9 83.62,559.9 85.44,559.9 87.27,559.9 89.09,559.9 90.91,559.9 92.74,559.9 94.56,559.9 96.38,559.9 98.21,559.9 100.03,559.9 101.85,559.9 103.68,559.91 105.5,559.91 107.32,559.92 109.15,559.93 110.97,559.95 112.79,559.98 114.62,560.03 116.44,560.11 118.26,560.24 120.09,560.45 121.91,560.79 123.73,561.34 125.56,562.22 127.38,563.61 129.2,565.77 131.03,569.03 132.85,573.76 134.67,580.22 136.5,588.38 138.32,597.71 140.14,607.23 141.97,615.9 143.79,623 145.61,628.33 147.44,632.07 149.26,634.58 151.08,636.21 152.91,637.25 154.73,637.9 156.55,638.31 158.38,638.56 160.2,638.71 162.02,638.81 163.84,638.87 165.67,638.9 167.49,638.93 169.31,638.94 171.14,638.95 172.96,638.95 174.78,638.96 176.61,638.96 178.43,638.96 180.25,638.96 182.08,638.96 183.9,638.96 185.72,638.96 187.55,638.96 189.37,638.96 191.19,638.96 193.02,638.96 194.84,638.96 196.66,638.96 198.49,638.96 200.31,638.96 202.13,638.96 203.96,638.96 205.78,638.96 207.6,638.96 209.43,638.96 211.25,638.96 213.07,638.96 214.9,638.96 216.72,638.96 218.54,638.96 220.37,638.96 222.19,638.96 224.01,638.96 225.84,638.96 227.66,638.96 229.48,638.96 231.31,638.96 233.13,638.96 234.95,638.96 236.78,638.96 238.6,638.96 240.42,638.96 242.25,638.96 244.07,638.96 245.89,638.96 247.72,638.96 249.54,638.96 251.36,638.96 253.18,638.96 255.01,638.96 256.83,638.96 258.65,638.96 260.48,638.96 262.3,638.96 264.12,638.96 265.95,638.96 267.77,638.96 269.59,638.96 271.42,638.96 273.24,638.96 275.06,638.96 276.89,638.96 278.71,638.96 280.53,638.96 282.36,638.96 284.18,638.96 286,638.96" fill="none" stroke="#56b4e9" stroke-width="1.5" stroke-linejoin="round" stroke-linecap="round"/>
<rect x="61.8" y="544.6" width="231.5" height="102.9" fill="none" stroke="#3a3a3a" stroke-width="0.9"/>
<line x1="59.3" y1="639.6" x2="61.8" y2="639.6" stroke="#3a3a3a" stroke-width="0.9"/>
<text transform="translate(58.2 643) scale(1 1.08)" font-size="9.5" text-anchor="end" font-weight="normal" fill="#000" font-family="&quot;Liberation Sans&quot;, sans-serif" stroke="#000" stroke-width="0.28">0</text>
<line x1="59.3" y1="599.75" x2="61.8" y2="599.75" stroke="#3a3a3a" stroke-width="0.9"/>
<text transform="translate(58.2 603.15) scale(1 1.08)" font-size="9.5" text-anchor="end" font-weight="normal" fill="#000" font-family="&quot;Liberation Sans&quot;, sans-serif" stroke="#000" stroke-width="0.28">50</text>
<line x1="59.3" y1="559.9" x2="61.8" y2="559.9" stroke="#3a3a3a" stroke-width="0.9"/>
<text transform="translate(58.2 563.3) scale(1 1.08)" font-size="9.5" text-anchor="end" font-weight="normal" fill="#000" font-family="&quot;Liberation Sans&quot;, sans-serif" stroke="#000" stroke-width="0.28">100</text>
<line x1="60.3" y1="619.67" x2="61.8" y2="619.67" stroke="#3a3a3a" stroke-width="0.9"/>
<line x1="60.3" y1="579.83" x2="61.8" y2="579.83" stroke="#3a3a3a" stroke-width="0.9"/>
<line x1="291.8" y1="619.67" x2="293.3" y2="619.67" stroke="#3a3a3a" stroke-width="0.9"/>
<line x1="291.8" y1="599.75" x2="293.3" y2="599.75" stroke="#3a3a3a" stroke-width="0.9"/>
<line x1="291.8" y1="579.83" x2="293.3" y2="579.83" stroke="#3a3a3a" stroke-width="0.9"/>
<line x1="291.8" y1="559.9" x2="293.3" y2="559.9" stroke="#3a3a3a" stroke-width="0.9"/>
<line x1="71" y1="647.5" x2="71" y2="649.8" stroke="#3a3a3a" stroke-width="0.9"/>
<line x1="71" y1="544.6" x2="71" y2="546.8" stroke="#3a3a3a" stroke-width="0.9"/>
<text transform="translate(71 659.5) scale(1 1.08)" font-size="9.5" text-anchor="middle" font-weight="normal" fill="#000" font-family="&quot;Liberation Sans&quot;, sans-serif" stroke="#000" stroke-width="0.28">1000</text>
<line x1="93.89" y1="647.5" x2="93.89" y2="649" stroke="#3a3a3a" stroke-width="0.75"/>
<line x1="93.89" y1="544.6" x2="93.89" y2="546.3" stroke="#3a3a3a" stroke-width="0.75"/>
<line x1="88.12" y1="647.5" x2="88.12" y2="649" stroke="#3a3a3a" stroke-width="0.75"/>
<line x1="88.12" y1="544.6" x2="88.12" y2="546.3" stroke="#3a3a3a" stroke-width="0.75"/>
<line x1="84.03" y1="647.5" x2="84.03" y2="649" stroke="#3a3a3a" stroke-width="0.75"/>
<line x1="84.03" y1="544.6" x2="84.03" y2="546.3" stroke="#3a3a3a" stroke-width="0.75"/>
<line x1="80.86" y1="647.5" x2="80.86" y2="649" stroke="#3a3a3a" stroke-width="0.75"/>
<line x1="80.86" y1="544.6" x2="80.86" y2="546.3" stroke="#3a3a3a" stroke-width="0.75"/>
<line x1="78.27" y1="647.5" x2="78.27" y2="649" stroke="#3a3a3a" stroke-width="0.75"/>
<line x1="78.27" y1="544.6" x2="78.27" y2="546.3" stroke="#3a3a3a" stroke-width="0.75"/>
<line x1="76.07" y1="647.5" x2="76.07" y2="649" stroke="#3a3a3a" stroke-width="0.75"/>
<line x1="76.07" y1="544.6" x2="76.07" y2="546.3" stroke="#3a3a3a" stroke-width="0.75"/>
<line x1="74.17" y1="647.5" x2="74.17" y2="649" stroke="#3a3a3a" stroke-width="0.75"/>
<line x1="74.17" y1="544.6" x2="74.17" y2="546.3" stroke="#3a3a3a" stroke-width="0.75"/>
<line x1="72.5" y1="647.5" x2="72.5" y2="649" stroke="#3a3a3a" stroke-width="0.75"/>
<line x1="72.5" y1="544.6" x2="72.5" y2="546.3" stroke="#3a3a3a" stroke-width="0.75"/>
<line x1="103.75" y1="647.5" x2="103.75" y2="649.8" stroke="#3a3a3a" stroke-width="0.9"/>
<line x1="103.75" y1="544.6" x2="103.75" y2="546.8" stroke="#3a3a3a" stroke-width="0.9"/>
<text transform="translate(103.75 659.5) scale(1 1.08)" font-size="9.5" text-anchor="middle" font-weight="normal" fill="#000" font-family="&quot;Liberation Sans&quot;, sans-serif" stroke="#000" stroke-width="0.28">100</text>
<line x1="126.64" y1="647.5" x2="126.64" y2="649" stroke="#3a3a3a" stroke-width="0.75"/>
<line x1="126.64" y1="544.6" x2="126.64" y2="546.3" stroke="#3a3a3a" stroke-width="0.75"/>
<line x1="120.87" y1="647.5" x2="120.87" y2="649" stroke="#3a3a3a" stroke-width="0.75"/>
<line x1="120.87" y1="544.6" x2="120.87" y2="546.3" stroke="#3a3a3a" stroke-width="0.75"/>
<line x1="116.78" y1="647.5" x2="116.78" y2="649" stroke="#3a3a3a" stroke-width="0.75"/>
<line x1="116.78" y1="544.6" x2="116.78" y2="546.3" stroke="#3a3a3a" stroke-width="0.75"/>
<line x1="113.61" y1="647.5" x2="113.61" y2="649" stroke="#3a3a3a" stroke-width="0.75"/>
<line x1="113.61" y1="544.6" x2="113.61" y2="546.3" stroke="#3a3a3a" stroke-width="0.75"/>
<line x1="111.02" y1="647.5" x2="111.02" y2="649" stroke="#3a3a3a" stroke-width="0.75"/>
<line x1="111.02" y1="544.6" x2="111.02" y2="546.3" stroke="#3a3a3a" stroke-width="0.75"/>
<line x1="108.82" y1="647.5" x2="108.82" y2="649" stroke="#3a3a3a" stroke-width="0.75"/>
<line x1="108.82" y1="544.6" x2="108.82" y2="546.3" stroke="#3a3a3a" stroke-width="0.75"/>
<line x1="106.92" y1="647.5" x2="106.92" y2="649" stroke="#3a3a3a" stroke-width="0.75"/>
<line x1="106.92" y1="544.6" x2="106.92" y2="546.3" stroke="#3a3a3a" stroke-width="0.75"/>
<line x1="105.25" y1="647.5" x2="105.25" y2="649" stroke="#3a3a3a" stroke-width="0.75"/>
<line x1="105.25" y1="544.6" x2="105.25" y2="546.3" stroke="#3a3a3a" stroke-width="0.75"/>
<line x1="136.5" y1="647.5" x2="136.5" y2="649.8" stroke="#3a3a3a" stroke-width="0.9"/>
<line x1="136.5" y1="544.6" x2="136.5" y2="546.8" stroke="#3a3a3a" stroke-width="0.9"/>
<text transform="translate(136.5 659.5) scale(1 1.08)" font-size="9.5" text-anchor="middle" font-weight="normal" fill="#000" font-family="&quot;Liberation Sans&quot;, sans-serif" stroke="#000" stroke-width="0.28">10</text>
<line x1="159.39" y1="647.5" x2="159.39" y2="649" stroke="#3a3a3a" stroke-width="0.75"/>
<line x1="159.39" y1="544.6" x2="159.39" y2="546.3" stroke="#3a3a3a" stroke-width="0.75"/>
<line x1="153.62" y1="647.5" x2="153.62" y2="649" stroke="#3a3a3a" stroke-width="0.75"/>
<line x1="153.62" y1="544.6" x2="153.62" y2="546.3" stroke="#3a3a3a" stroke-width="0.75"/>
<line x1="149.53" y1="647.5" x2="149.53" y2="649" stroke="#3a3a3a" stroke-width="0.75"/>
<line x1="149.53" y1="544.6" x2="149.53" y2="546.3" stroke="#3a3a3a" stroke-width="0.75"/>
<line x1="146.36" y1="647.5" x2="146.36" y2="649" stroke="#3a3a3a" stroke-width="0.75"/>
<line x1="146.36" y1="544.6" x2="146.36" y2="546.3" stroke="#3a3a3a" stroke-width="0.75"/>
<line x1="143.77" y1="647.5" x2="143.77" y2="649" stroke="#3a3a3a" stroke-width="0.75"/>
<line x1="143.77" y1="544.6" x2="143.77" y2="546.3" stroke="#3a3a3a" stroke-width="0.75"/>
<line x1="141.57" y1="647.5" x2="141.57" y2="649" stroke="#3a3a3a" stroke-width="0.75"/>
<line x1="141.57" y1="544.6" x2="141.57" y2="546.3" stroke="#3a3a3a" stroke-width="0.75"/>
<line x1="139.67" y1="647.5" x2="139.67" y2="649" stroke="#3a3a3a" stroke-width="0.75"/>
<line x1="139.67" y1="544.6" x2="139.67" y2="546.3" stroke="#3a3a3a" stroke-width="0.75"/>
<line x1="138" y1="647.5" x2="138" y2="649" stroke="#3a3a3a" stroke-width="0.75"/>
<line x1="138" y1="544.6" x2="138" y2="546.3" stroke="#3a3a3a" stroke-width="0.75"/>
<line x1="169.25" y1="647.5" x2="169.25" y2="649.8" stroke="#3a3a3a" stroke-width="0.9"/>
<line x1="169.25" y1="544.6" x2="169.25" y2="546.8" stroke="#3a3a3a" stroke-width="0.9"/>
<text transform="translate(169.25 659.5) scale(1 1.08)" font-size="9.5" text-anchor="middle" font-weight="normal" fill="#000" font-family="&quot;Liberation Sans&quot;, sans-serif" stroke="#000" stroke-width="0.28">1</text>
<line x1="192.14" y1="647.5" x2="192.14" y2="649" stroke="#3a3a3a" stroke-width="0.75"/>
<line x1="192.14" y1="544.6" x2="192.14" y2="546.3" stroke="#3a3a3a" stroke-width="0.75"/>
<line x1="186.37" y1="647.5" x2="186.37" y2="649" stroke="#3a3a3a" stroke-width="0.75"/>
<line x1="186.37" y1="544.6" x2="186.37" y2="546.3" stroke="#3a3a3a" stroke-width="0.75"/>
<line x1="182.28" y1="647.5" x2="182.28" y2="649" stroke="#3a3a3a" stroke-width="0.75"/>
<line x1="182.28" y1="544.6" x2="182.28" y2="546.3" stroke="#3a3a3a" stroke-width="0.75"/>
<line x1="179.11" y1="647.5" x2="179.11" y2="649" stroke="#3a3a3a" stroke-width="0.75"/>
<line x1="179.11" y1="544.6" x2="179.11" y2="546.3" stroke="#3a3a3a" stroke-width="0.75"/>
<line x1="176.52" y1="647.5" x2="176.52" y2="649" stroke="#3a3a3a" stroke-width="0.75"/>
<line x1="176.52" y1="544.6" x2="176.52" y2="546.3" stroke="#3a3a3a" stroke-width="0.75"/>
<line x1="174.32" y1="647.5" x2="174.32" y2="649" stroke="#3a3a3a" stroke-width="0.75"/>
<line x1="174.32" y1="544.6" x2="174.32" y2="546.3" stroke="#3a3a3a" stroke-width="0.75"/>
<line x1="172.42" y1="647.5" x2="172.42" y2="649" stroke="#3a3a3a" stroke-width="0.75"/>
<line x1="172.42" y1="544.6" x2="172.42" y2="546.3" stroke="#3a3a3a" stroke-width="0.75"/>
<line x1="170.75" y1="647.5" x2="170.75" y2="649" stroke="#3a3a3a" stroke-width="0.75"/>
<line x1="170.75" y1="544.6" x2="170.75" y2="546.3" stroke="#3a3a3a" stroke-width="0.75"/>
<line x1="202" y1="647.5" x2="202" y2="649.8" stroke="#3a3a3a" stroke-width="0.9"/>
<line x1="202" y1="544.6" x2="202" y2="546.8" stroke="#3a3a3a" stroke-width="0.9"/>
<text transform="translate(202 659.5) scale(1 1.08)" font-size="9.5" text-anchor="middle" font-weight="normal" fill="#000" font-family="&quot;Liberation Sans&quot;, sans-serif" stroke="#000" stroke-width="0.28">0.1</text>
<line x1="224.89" y1="647.5" x2="224.89" y2="649" stroke="#3a3a3a" stroke-width="0.75"/>
<line x1="224.89" y1="544.6" x2="224.89" y2="546.3" stroke="#3a3a3a" stroke-width="0.75"/>
<line x1="219.12" y1="647.5" x2="219.12" y2="649" stroke="#3a3a3a" stroke-width="0.75"/>
<line x1="219.12" y1="544.6" x2="219.12" y2="546.3" stroke="#3a3a3a" stroke-width="0.75"/>
<line x1="215.03" y1="647.5" x2="215.03" y2="649" stroke="#3a3a3a" stroke-width="0.75"/>
<line x1="215.03" y1="544.6" x2="215.03" y2="546.3" stroke="#3a3a3a" stroke-width="0.75"/>
<line x1="211.86" y1="647.5" x2="211.86" y2="649" stroke="#3a3a3a" stroke-width="0.75"/>
<line x1="211.86" y1="544.6" x2="211.86" y2="546.3" stroke="#3a3a3a" stroke-width="0.75"/>
<line x1="209.27" y1="647.5" x2="209.27" y2="649" stroke="#3a3a3a" stroke-width="0.75"/>
<line x1="209.27" y1="544.6" x2="209.27" y2="546.3" stroke="#3a3a3a" stroke-width="0.75"/>
<line x1="207.07" y1="647.5" x2="207.07" y2="649" stroke="#3a3a3a" stroke-width="0.75"/>
<line x1="207.07" y1="544.6" x2="207.07" y2="546.3" stroke="#3a3a3a" stroke-width="0.75"/>
<line x1="205.17" y1="647.5" x2="205.17" y2="649" stroke="#3a3a3a" stroke-width="0.75"/>
<line x1="205.17" y1="544.6" x2="205.17" y2="546.3" stroke="#3a3a3a" stroke-width="0.75"/>
<line x1="203.5" y1="647.5" x2="203.5" y2="649" stroke="#3a3a3a" stroke-width="0.75"/>
<line x1="203.5" y1="544.6" x2="203.5" y2="546.3" stroke="#3a3a3a" stroke-width="0.75"/>
<line x1="234.75" y1="647.5" x2="234.75" y2="649.8" stroke="#3a3a3a" stroke-width="0.9"/>
<line x1="234.75" y1="544.6" x2="234.75" y2="546.8" stroke="#3a3a3a" stroke-width="0.9"/>
<text transform="translate(234.75 659.5) scale(1 1.08)" font-size="9.5" text-anchor="middle" font-weight="normal" fill="#000" font-family="&quot;Liberation Sans&quot;, sans-serif" stroke="#000" stroke-width="0.28">0.01</text>
<line x1="257.64" y1="647.5" x2="257.64" y2="649" stroke="#3a3a3a" stroke-width="0.75"/>
<line x1="257.64" y1="544.6" x2="257.64" y2="546.3" stroke="#3a3a3a" stroke-width="0.75"/>
<line x1="251.87" y1="647.5" x2="251.87" y2="649" stroke="#3a3a3a" stroke-width="0.75"/>
<line x1="251.87" y1="544.6" x2="251.87" y2="546.3" stroke="#3a3a3a" stroke-width="0.75"/>
<line x1="247.78" y1="647.5" x2="247.78" y2="649" stroke="#3a3a3a" stroke-width="0.75"/>
<line x1="247.78" y1="544.6" x2="247.78" y2="546.3" stroke="#3a3a3a" stroke-width="0.75"/>
<line x1="244.61" y1="647.5" x2="244.61" y2="649" stroke="#3a3a3a" stroke-width="0.75"/>
<line x1="244.61" y1="544.6" x2="244.61" y2="546.3" stroke="#3a3a3a" stroke-width="0.75"/>
<line x1="242.02" y1="647.5" x2="242.02" y2="649" stroke="#3a3a3a" stroke-width="0.75"/>
<line x1="242.02" y1="544.6" x2="242.02" y2="546.3" stroke="#3a3a3a" stroke-width="0.75"/>
<line x1="239.82" y1="647.5" x2="239.82" y2="649" stroke="#3a3a3a" stroke-width="0.75"/>
<line x1="239.82" y1="544.6" x2="239.82" y2="546.3" stroke="#3a3a3a" stroke-width="0.75"/>
<line x1="237.92" y1="647.5" x2="237.92" y2="649" stroke="#3a3a3a" stroke-width="0.75"/>
<line x1="237.92" y1="544.6" x2="237.92" y2="546.3" stroke="#3a3a3a" stroke-width="0.75"/>
<line x1="236.25" y1="647.5" x2="236.25" y2="649" stroke="#3a3a3a" stroke-width="0.75"/>
<line x1="236.25" y1="544.6" x2="236.25" y2="546.3" stroke="#3a3a3a" stroke-width="0.75"/>
<line x1="267.5" y1="647.5" x2="267.5" y2="649.8" stroke="#3a3a3a" stroke-width="0.9"/>
<line x1="267.5" y1="544.6" x2="267.5" y2="546.8" stroke="#3a3a3a" stroke-width="0.9"/>
<text transform="translate(267.5 659.5) scale(1 1.08)" font-size="9.5" text-anchor="middle" font-weight="normal" fill="#000" font-family="&quot;Liberation Sans&quot;, sans-serif" stroke="#000" stroke-width="0.28">0.001</text>
<line x1="290.39" y1="647.5" x2="290.39" y2="649" stroke="#3a3a3a" stroke-width="0.75"/>
<line x1="290.39" y1="544.6" x2="290.39" y2="546.3" stroke="#3a3a3a" stroke-width="0.75"/>
<line x1="284.62" y1="647.5" x2="284.62" y2="649" stroke="#3a3a3a" stroke-width="0.75"/>
<line x1="284.62" y1="544.6" x2="284.62" y2="546.3" stroke="#3a3a3a" stroke-width="0.75"/>
<line x1="280.53" y1="647.5" x2="280.53" y2="649" stroke="#3a3a3a" stroke-width="0.75"/>
<line x1="280.53" y1="544.6" x2="280.53" y2="546.3" stroke="#3a3a3a" stroke-width="0.75"/>
<line x1="277.36" y1="647.5" x2="277.36" y2="649" stroke="#3a3a3a" stroke-width="0.75"/>
<line x1="277.36" y1="544.6" x2="277.36" y2="546.3" stroke="#3a3a3a" stroke-width="0.75"/>
<line x1="274.77" y1="647.5" x2="274.77" y2="649" stroke="#3a3a3a" stroke-width="0.75"/>
<line x1="274.77" y1="544.6" x2="274.77" y2="546.3" stroke="#3a3a3a" stroke-width="0.75"/>
<line x1="272.57" y1="647.5" x2="272.57" y2="649" stroke="#3a3a3a" stroke-width="0.75"/>
<line x1="272.57" y1="544.6" x2="272.57" y2="546.3" stroke="#3a3a3a" stroke-width="0.75"/>
<line x1="270.67" y1="647.5" x2="270.67" y2="649" stroke="#3a3a3a" stroke-width="0.75"/>
<line x1="270.67" y1="544.6" x2="270.67" y2="546.3" stroke="#3a3a3a" stroke-width="0.75"/>
<line x1="269" y1="647.5" x2="269" y2="649" stroke="#3a3a3a" stroke-width="0.75"/>
<line x1="269" y1="544.6" x2="269" y2="546.3" stroke="#3a3a3a" stroke-width="0.75"/>
<text transform="translate(177.05 673.7) scale(1 1.08)" font-size="9.8" text-anchor="middle" font-weight="normal" fill="#000" font-family="&quot;Liberation Sans&quot;, sans-serif" stroke="#000" stroke-width="0.28">Fab-LCB1 concentration (nM)</text>
<text transform="translate(25 596.55) rotate(-90) scale(1 1.08)" font-size="9.8" text-anchor="middle" font-weight="normal" fill="#000" font-family="&quot;Liberation Sans&quot;, sans-serif" stroke="#000" stroke-width="0.28">SARS-CoV-2</text>
<text transform="translate(35.6 596.55) rotate(-90) scale(1 1.08)" font-size="9.9" text-anchor="middle" font-weight="normal" fill="#000" font-family="&quot;Liberation Sans&quot;, sans-serif" stroke="#000" stroke-width="0.28">neutralization (%)</text>
<rect x="198.46" y="553.26" width="5.88" height="5.88" fill="#000" stroke="none" stroke-width="1"/>
<text transform="translate(215.6 559.1) scale(1 1.08)" font-size="9.6" text-anchor="start" font-weight="normal" fill="#000" font-family="&quot;Liberation Sans&quot;, sans-serif" stroke="#000" stroke-width="0.28">trast-LCB1</text>
<circle cx="201.4" cy="569" r="3.33" fill="#e8a317"/>
<text transform="translate(215.6 571.9) scale(1 1.08)" font-size="9.6" text-anchor="start" font-weight="normal" fill="#000" font-family="&quot;Liberation Sans&quot;, sans-serif" stroke="#000" stroke-width="0.28">32H109L-LCB1</text>
<polygon points="197.68,583.84 205.12,583.84 201.4,577.17" fill="#56b4e9"/>
<text transform="translate(215.6 583.6) scale(1 1.08)" font-size="9.6" text-anchor="start" font-weight="normal" fill="#000" font-family="&quot;Liberation Sans&quot;, sans-serif" stroke="#000" stroke-width="0.28">PGT145-LCB1</text>
<polygon points="197.68,589.86 205.12,589.86 201.4,596.53" fill="#1a9a72"/>
<text transform="translate(215.6 595.9) scale(1 1.08)" font-size="9.6" text-anchor="start" font-weight="normal" fill="#000" font-family="&quot;Liberation Sans&quot;, sans-serif" stroke="#000" stroke-width="0.28">NC-Cow1-LCB1</text>
<text transform="translate(328.2 540.8)" font-size="11" text-anchor="start" font-weight="bold" fill="#000" font-family="&quot;Liberation Sans&quot;, sans-serif">i</text>
<line x1="400" y1="564.39" x2="400" y2="561.2" stroke="#000" stroke-width="0.9" stroke-opacity="0.7"/>
<line x1="397.5" y1="564.39" x2="402.5" y2="564.39" stroke="#000" stroke-width="0.9" stroke-opacity="0.7"/>
<line x1="397.5" y1="561.2" x2="402.5" y2="561.2" stroke="#000" stroke-width="0.9" stroke-opacity="0.7"/>
<line x1="416.38" y1="573.97" x2="416.38" y2="565.99" stroke="#000" stroke-width="0.9" stroke-opacity="0.7"/>
<line x1="413.88" y1="573.97" x2="418.88" y2="573.97" stroke="#000" stroke-width="0.9" stroke-opacity="0.7"/>
<line x1="413.88" y1="565.99" x2="418.88" y2="565.99" stroke="#000" stroke-width="0.9" stroke-opacity="0.7"/>
<line x1="432.75" y1="590.72" x2="432.75" y2="577.96" stroke="#000" stroke-width="0.9" stroke-opacity="0.7"/>
<line x1="430.25" y1="590.72" x2="435.25" y2="590.72" stroke="#000" stroke-width="0.9" stroke-opacity="0.7"/>
<line x1="430.25" y1="577.96" x2="435.25" y2="577.96" stroke="#000" stroke-width="0.9" stroke-opacity="0.7"/>
<line x1="449.12" y1="605.09" x2="449.12" y2="597.11" stroke="#000" stroke-width="0.9" stroke-opacity="0.7"/>
<line x1="446.62" y1="605.09" x2="451.62" y2="605.09" stroke="#000" stroke-width="0.9" stroke-opacity="0.7"/>
<line x1="446.62" y1="597.11" x2="451.62" y2="597.11" stroke="#000" stroke-width="0.9" stroke-opacity="0.7"/>
<line x1="465.5" y1="619.45" x2="465.5" y2="611.47" stroke="#000" stroke-width="0.9" stroke-opacity="0.7"/>
<line x1="463" y1="619.45" x2="468" y2="619.45" stroke="#000" stroke-width="0.9" stroke-opacity="0.7"/>
<line x1="463" y1="611.47" x2="468" y2="611.47" stroke="#000" stroke-width="0.9" stroke-opacity="0.7"/>
<line x1="481.88" y1="629.83" x2="481.88" y2="623.44" stroke="#000" stroke-width="0.9" stroke-opacity="0.7"/>
<line x1="479.38" y1="629.83" x2="484.38" y2="629.83" stroke="#000" stroke-width="0.9" stroke-opacity="0.7"/>
<line x1="479.38" y1="623.44" x2="484.38" y2="623.44" stroke="#000" stroke-width="0.9" stroke-opacity="0.7"/>
<line x1="498.25" y1="639.4" x2="498.25" y2="620.25" stroke="#000" stroke-width="0.9" stroke-opacity="0.7"/>
<line x1="495.75" y1="639.4" x2="500.75" y2="639.4" stroke="#000" stroke-width="0.9" stroke-opacity="0.7"/>
<line x1="495.75" y1="620.25" x2="500.75" y2="620.25" stroke="#000" stroke-width="0.9" stroke-opacity="0.7"/>
<line x1="514.62" y1="638.6" x2="514.62" y2="629.03" stroke="#000" stroke-width="0.9" stroke-opacity="0.7"/>
<line x1="512.12" y1="638.6" x2="517.12" y2="638.6" stroke="#000" stroke-width="0.9" stroke-opacity="0.7"/>
<line x1="512.12" y1="629.03" x2="517.12" y2="629.03" stroke="#000" stroke-width="0.9" stroke-opacity="0.7"/>
<line x1="531" y1="637.01" x2="531" y2="629.03" stroke="#000" stroke-width="0.9" stroke-opacity="0.7"/>
<line x1="528.5" y1="637.01" x2="533.5" y2="637.01" stroke="#000" stroke-width="0.9" stroke-opacity="0.7"/>
<line x1="528.5" y1="629.03" x2="533.5" y2="629.03" stroke="#000" stroke-width="0.9" stroke-opacity="0.7"/>
<line x1="547.38" y1="642.59" x2="547.38" y2="629.83" stroke="#000" stroke-width="0.9" stroke-opacity="0.7"/>
<line x1="544.88" y1="642.59" x2="549.88" y2="642.59" stroke="#000" stroke-width="0.9" stroke-opacity="0.7"/>
<line x1="544.88" y1="629.83" x2="549.88" y2="629.83" stroke="#000" stroke-width="0.9" stroke-opacity="0.7"/>
<line x1="563.75" y1="638.6" x2="563.75" y2="629.03" stroke="#000" stroke-width="0.9" stroke-opacity="0.7"/>
<line x1="561.25" y1="638.6" x2="566.25" y2="638.6" stroke="#000" stroke-width="0.9" stroke-opacity="0.7"/>
<line x1="561.25" y1="629.03" x2="566.25" y2="629.03" stroke="#000" stroke-width="0.9" stroke-opacity="0.7"/>
<line x1="580.12" y1="649.78" x2="580.12" y2="622.64" stroke="#000" stroke-width="0.9" stroke-opacity="0.7"/>
<line x1="577.62" y1="649.78" x2="582.62" y2="649.78" stroke="#000" stroke-width="0.9" stroke-opacity="0.7"/>
<line x1="577.62" y1="622.64" x2="582.62" y2="622.64" stroke="#000" stroke-width="0.9" stroke-opacity="0.7"/>
<line x1="596.5" y1="643.39" x2="596.5" y2="627.43" stroke="#000" stroke-width="0.9" stroke-opacity="0.7"/>
<line x1="594" y1="643.39" x2="599" y2="643.39" stroke="#000" stroke-width="0.9" stroke-opacity="0.7"/>
<line x1="594" y1="627.43" x2="599" y2="627.43" stroke="#000" stroke-width="0.9" stroke-opacity="0.7"/>
<line x1="612.88" y1="639.4" x2="612.88" y2="629.83" stroke="#000" stroke-width="0.9" stroke-opacity="0.7"/>
<line x1="610.38" y1="639.4" x2="615.38" y2="639.4" stroke="#000" stroke-width="0.9" stroke-opacity="0.7"/>
<line x1="610.38" y1="629.83" x2="615.38" y2="629.83" stroke="#000" stroke-width="0.9" stroke-opacity="0.7"/>
<line x1="400" y1="563.59" x2="400" y2="560.4" stroke="#e8a317" stroke-width="0.9" stroke-opacity="0.7"/>
<line x1="397.5" y1="563.59" x2="402.5" y2="563.59" stroke="#e8a317" stroke-width="0.9" stroke-opacity="0.7"/>
<line x1="397.5" y1="560.4" x2="402.5" y2="560.4" stroke="#e8a317" stroke-width="0.9" stroke-opacity="0.7"/>
<line x1="416.38" y1="566.78" x2="416.38" y2="558.8" stroke="#e8a317" stroke-width="0.9" stroke-opacity="0.7"/>
<line x1="413.88" y1="566.78" x2="418.88" y2="566.78" stroke="#e8a317" stroke-width="0.9" stroke-opacity="0.7"/>
<line x1="413.88" y1="558.8" x2="418.88" y2="558.8" stroke="#e8a317" stroke-width="0.9" stroke-opacity="0.7"/>
<line x1="432.75" y1="578.75" x2="432.75" y2="565.99" stroke="#e8a317" stroke-width="0.9" stroke-opacity="0.7"/>
<line x1="430.25" y1="578.75" x2="435.25" y2="578.75" stroke="#e8a317" stroke-width="0.9" stroke-opacity="0.7"/>
<line x1="430.25" y1="565.99" x2="435.25" y2="565.99" stroke="#e8a317" stroke-width="0.9" stroke-opacity="0.7"/>
<line x1="449.12" y1="607.48" x2="449.12" y2="591.52" stroke="#e8a317" stroke-width="0.9" stroke-opacity="0.7"/>
<line x1="446.62" y1="607.48" x2="451.62" y2="607.48" stroke="#e8a317" stroke-width="0.9" stroke-opacity="0.7"/>
<line x1="446.62" y1="591.52" x2="451.62" y2="591.52" stroke="#e8a317" stroke-width="0.9" stroke-opacity="0.7"/>
<line x1="465.5" y1="628.23" x2="465.5" y2="596.31" stroke="#e8a317" stroke-width="0.9" stroke-opacity="0.7"/>
<line x1="463" y1="628.23" x2="468" y2="628.23" stroke="#e8a317" stroke-width="0.9" stroke-opacity="0.7"/>
<line x1="463" y1="596.31" x2="468" y2="596.31" stroke="#e8a317" stroke-width="0.9" stroke-opacity="0.7"/>
<line x1="481.88" y1="636.21" x2="481.88" y2="604.29" stroke="#e8a317" stroke-width="0.9" stroke-opacity="0.7"/>
<line x1="479.38" y1="636.21" x2="484.38" y2="636.21" stroke="#e8a317" stroke-width="0.9" stroke-opacity="0.7"/>
<line x1="479.38" y1="604.29" x2="484.38" y2="604.29" stroke="#e8a317" stroke-width="0.9" stroke-opacity="0.7"/>
<line x1="498.25" y1="637.81" x2="498.25" y2="625.04" stroke="#e8a317" stroke-width="0.9" stroke-opacity="0.7"/>
<line x1="495.75" y1="637.81" x2="500.75" y2="637.81" stroke="#e8a317" stroke-width="0.9" stroke-opacity="0.7"/>
<line x1="495.75" y1="625.04" x2="500.75" y2="625.04" stroke="#e8a317" stroke-width="0.9" stroke-opacity="0.7"/>
<line x1="514.62" y1="637.01" x2="514.62" y2="627.43" stroke="#e8a317" stroke-width="0.9" stroke-opacity="0.7"/>
<line x1="512.12" y1="637.01" x2="517.12" y2="637.01" stroke="#e8a317" stroke-width="0.9" stroke-opacity="0.7"/>
<line x1="512.12" y1="627.43" x2="517.12" y2="627.43" stroke="#e8a317" stroke-width="0.9" stroke-opacity="0.7"/>
<line x1="531" y1="636.21" x2="531" y2="628.23" stroke="#e8a317" stroke-width="0.9" stroke-opacity="0.7"/>
<line x1="528.5" y1="636.21" x2="533.5" y2="636.21" stroke="#e8a317" stroke-width="0.9" stroke-opacity="0.7"/>
<line x1="528.5" y1="628.23" x2="533.5" y2="628.23" stroke="#e8a317" stroke-width="0.9" stroke-opacity="0.7"/>
<line x1="547.38" y1="636.21" x2="547.38" y2="626.63" stroke="#e8a317" stroke-width="0.9" stroke-opacity="0.7"/>
<line x1="544.88" y1="636.21" x2="549.88" y2="636.21" stroke="#e8a317" stroke-width="0.9" stroke-opacity="0.7"/>
<line x1="544.88" y1="626.63" x2="549.88" y2="626.63" stroke="#e8a317" stroke-width="0.9" stroke-opacity="0.7"/>
<line x1="563.75" y1="638.6" x2="563.75" y2="629.03" stroke="#e8a317" stroke-width="0.9" stroke-opacity="0.7"/>
<line x1="561.25" y1="638.6" x2="566.25" y2="638.6" stroke="#e8a317" stroke-width="0.9" stroke-opacity="0.7"/>
<line x1="561.25" y1="629.03" x2="566.25" y2="629.03" stroke="#e8a317" stroke-width="0.9" stroke-opacity="0.7"/>
<line x1="580.12" y1="640.2" x2="580.12" y2="627.43" stroke="#e8a317" stroke-width="0.9" stroke-opacity="0.7"/>
<line x1="577.62" y1="640.2" x2="582.62" y2="640.2" stroke="#e8a317" stroke-width="0.9" stroke-opacity="0.7"/>
<line x1="577.62" y1="627.43" x2="582.62" y2="627.43" stroke="#e8a317" stroke-width="0.9" stroke-opacity="0.7"/>
<line x1="596.5" y1="644.99" x2="596.5" y2="621.05" stroke="#e8a317" stroke-width="0.9" stroke-opacity="0.7"/>
<line x1="594" y1="644.99" x2="599" y2="644.99" stroke="#e8a317" stroke-width="0.9" stroke-opacity="0.7"/>
<line x1="594" y1="621.05" x2="599" y2="621.05" stroke="#e8a317" stroke-width="0.9" stroke-opacity="0.7"/>
<line x1="612.88" y1="644.99" x2="612.88" y2="621.05" stroke="#e8a317" stroke-width="0.9" stroke-opacity="0.7"/>
<line x1="610.38" y1="644.99" x2="615.38" y2="644.99" stroke="#e8a317" stroke-width="0.9" stroke-opacity="0.7"/>
<line x1="610.38" y1="621.05" x2="615.38" y2="621.05" stroke="#e8a317" stroke-width="0.9" stroke-opacity="0.7"/>
<line x1="400" y1="563.59" x2="400" y2="560.4" stroke="#56b4e9" stroke-width="0.9" stroke-opacity="0.7"/>
<line x1="397.5" y1="563.59" x2="402.5" y2="563.59" stroke="#56b4e9" stroke-width="0.9" stroke-opacity="0.7"/>
<line x1="397.5" y1="560.4" x2="402.5" y2="560.4" stroke="#56b4e9" stroke-width="0.9" stroke-opacity="0.7"/>
<line x1="416.38" y1="563.59" x2="416.38" y2="558.8" stroke="#56b4e9" stroke-width="0.9" stroke-opacity="0.7"/>
<line x1="413.88" y1="563.59" x2="418.88" y2="563.59" stroke="#56b4e9" stroke-width="0.9" stroke-opacity="0.7"/>
<line x1="413.88" y1="558.8" x2="418.88" y2="558.8" stroke="#56b4e9" stroke-width="0.9" stroke-opacity="0.7"/>
<line x1="432.75" y1="576.36" x2="432.75" y2="566.78" stroke="#56b4e9" stroke-width="0.9" stroke-opacity="0.7"/>
<line x1="430.25" y1="576.36" x2="435.25" y2="576.36" stroke="#56b4e9" stroke-width="0.9" stroke-opacity="0.7"/>
<line x1="430.25" y1="566.78" x2="435.25" y2="566.78" stroke="#56b4e9" stroke-width="0.9" stroke-opacity="0.7"/>
<line x1="449.12" y1="603.49" x2="449.12" y2="584.34" stroke="#56b4e9" stroke-width="0.9" stroke-opacity="0.7"/>
<line x1="446.62" y1="603.49" x2="451.62" y2="603.49" stroke="#56b4e9" stroke-width="0.9" stroke-opacity="0.7"/>
<line x1="446.62" y1="584.34" x2="451.62" y2="584.34" stroke="#56b4e9" stroke-width="0.9" stroke-opacity="0.7"/>
<line x1="465.5" y1="614.66" x2="465.5" y2="601.9" stroke="#56b4e9" stroke-width="0.9" stroke-opacity="0.7"/>
<line x1="463" y1="614.66" x2="468" y2="614.66" stroke="#56b4e9" stroke-width="0.9" stroke-opacity="0.7"/>
<line x1="463" y1="601.9" x2="468" y2="601.9" stroke="#56b4e9" stroke-width="0.9" stroke-opacity="0.7"/>
<line x1="481.88" y1="627.43" x2="481.88" y2="621.05" stroke="#56b4e9" stroke-width="0.9" stroke-opacity="0.7"/>
<line x1="479.38" y1="627.43" x2="484.38" y2="627.43" stroke="#56b4e9" stroke-width="0.9" stroke-opacity="0.7"/>
<line x1="479.38" y1="621.05" x2="484.38" y2="621.05" stroke="#56b4e9" stroke-width="0.9" stroke-opacity="0.7"/>
<line x1="498.25" y1="636.21" x2="498.25" y2="631.42" stroke="#56b4e9" stroke-width="0.9" stroke-opacity="0.7"/>
<line x1="495.75" y1="636.21" x2="500.75" y2="636.21" stroke="#56b4e9" stroke-width="0.9" stroke-opacity="0.7"/>
<line x1="495.75" y1="631.42" x2="500.75" y2="631.42" stroke="#56b4e9" stroke-width="0.9" stroke-opacity="0.7"/>
<line x1="514.62" y1="641.8" x2="514.62" y2="633.82" stroke="#56b4e9" stroke-width="0.9" stroke-opacity="0.7"/>
<line x1="512.12" y1="641.8" x2="517.12" y2="641.8" stroke="#56b4e9" stroke-width="0.9" stroke-opacity="0.7"/>
<line x1="512.12" y1="633.82" x2="517.12" y2="633.82" stroke="#56b4e9" stroke-width="0.9" stroke-opacity="0.7"/>
<line x1="531" y1="641.8" x2="531" y2="632.22" stroke="#56b4e9" stroke-width="0.9" stroke-opacity="0.7"/>
<line x1="528.5" y1="641.8" x2="533.5" y2="641.8" stroke="#56b4e9" stroke-width="0.9" stroke-opacity="0.7"/>
<line x1="528.5" y1="632.22" x2="533.5" y2="632.22" stroke="#56b4e9" stroke-width="0.9" stroke-opacity="0.7"/>
<line x1="547.38" y1="639.4" x2="547.38" y2="631.42" stroke="#56b4e9" stroke-width="0.9" stroke-opacity="0.7"/>
<line x1="544.88" y1="639.4" x2="549.88" y2="639.4" stroke="#56b4e9" stroke-width="0.9" stroke-opacity="0.7"/>
<line x1="544.88" y1="631.42" x2="549.88" y2="631.42" stroke="#56b4e9" stroke-width="0.9" stroke-opacity="0.7"/>
<line x1="563.75" y1="637.01" x2="563.75" y2="627.43" stroke="#56b4e9" stroke-width="0.9" stroke-opacity="0.7"/>
<line x1="561.25" y1="637.01" x2="566.25" y2="637.01" stroke="#56b4e9" stroke-width="0.9" stroke-opacity="0.7"/>
<line x1="561.25" y1="627.43" x2="566.25" y2="627.43" stroke="#56b4e9" stroke-width="0.9" stroke-opacity="0.7"/>
<line x1="580.12" y1="638.6" x2="580.12" y2="625.84" stroke="#56b4e9" stroke-width="0.9" stroke-opacity="0.7"/>
<line x1="577.62" y1="638.6" x2="582.62" y2="638.6" stroke="#56b4e9" stroke-width="0.9" stroke-opacity="0.7"/>
<line x1="577.62" y1="625.84" x2="582.62" y2="625.84" stroke="#56b4e9" stroke-width="0.9" stroke-opacity="0.7"/>
<line x1="596.5" y1="640.2" x2="596.5" y2="632.22" stroke="#56b4e9" stroke-width="0.9" stroke-opacity="0.7"/>
<line x1="594" y1="640.2" x2="599" y2="640.2" stroke="#56b4e9" stroke-width="0.9" stroke-opacity="0.7"/>
<line x1="594" y1="632.22" x2="599" y2="632.22" stroke="#56b4e9" stroke-width="0.9" stroke-opacity="0.7"/>
<line x1="612.88" y1="640.2" x2="612.88" y2="630.62" stroke="#56b4e9" stroke-width="0.9" stroke-opacity="0.7"/>
<line x1="610.38" y1="640.2" x2="615.38" y2="640.2" stroke="#56b4e9" stroke-width="0.9" stroke-opacity="0.7"/>
<line x1="610.38" y1="630.62" x2="615.38" y2="630.62" stroke="#56b4e9" stroke-width="0.9" stroke-opacity="0.7"/>
<line x1="400" y1="573.17" x2="400" y2="566.78" stroke="#1a9a72" stroke-width="0.9" stroke-opacity="0.7"/>
<line x1="397.5" y1="573.17" x2="402.5" y2="573.17" stroke="#1a9a72" stroke-width="0.9" stroke-opacity="0.7"/>
<line x1="397.5" y1="566.78" x2="402.5" y2="566.78" stroke="#1a9a72" stroke-width="0.9" stroke-opacity="0.7"/>
<line x1="416.38" y1="581.15" x2="416.38" y2="568.38" stroke="#1a9a72" stroke-width="0.9" stroke-opacity="0.7"/>
<line x1="413.88" y1="581.15" x2="418.88" y2="581.15" stroke="#1a9a72" stroke-width="0.9" stroke-opacity="0.7"/>
<line x1="413.88" y1="568.38" x2="418.88" y2="568.38" stroke="#1a9a72" stroke-width="0.9" stroke-opacity="0.7"/>
<line x1="432.75" y1="604.29" x2="432.75" y2="573.97" stroke="#1a9a72" stroke-width="0.9" stroke-opacity="0.7"/>
<line x1="430.25" y1="604.29" x2="435.25" y2="604.29" stroke="#1a9a72" stroke-width="0.9" stroke-opacity="0.7"/>
<line x1="430.25" y1="573.97" x2="435.25" y2="573.97" stroke="#1a9a72" stroke-width="0.9" stroke-opacity="0.7"/>
<line x1="449.12" y1="627.43" x2="449.12" y2="595.51" stroke="#1a9a72" stroke-width="0.9" stroke-opacity="0.7"/>
<line x1="446.62" y1="627.43" x2="451.62" y2="627.43" stroke="#1a9a72" stroke-width="0.9" stroke-opacity="0.7"/>
<line x1="446.62" y1="595.51" x2="451.62" y2="595.51" stroke="#1a9a72" stroke-width="0.9" stroke-opacity="0.7"/>
<line x1="465.5" y1="638.6" x2="465.5" y2="627.43" stroke="#1a9a72" stroke-width="0.9" stroke-opacity="0.7"/>
<line x1="463" y1="638.6" x2="468" y2="638.6" stroke="#1a9a72" stroke-width="0.9" stroke-opacity="0.7"/>
<line x1="463" y1="627.43" x2="468" y2="627.43" stroke="#1a9a72" stroke-width="0.9" stroke-opacity="0.7"/>
<line x1="481.88" y1="638.6" x2="481.88" y2="630.62" stroke="#1a9a72" stroke-width="0.9" stroke-opacity="0.7"/>
<line x1="479.38" y1="638.6" x2="484.38" y2="638.6" stroke="#1a9a72" stroke-width="0.9" stroke-opacity="0.7"/>
<line x1="479.38" y1="630.62" x2="484.38" y2="630.62" stroke="#1a9a72" stroke-width="0.9" stroke-opacity="0.7"/>
<line x1="498.25" y1="638.6" x2="498.25" y2="633.82" stroke="#1a9a72" stroke-width="0.9" stroke-opacity="0.7"/>
<line x1="495.75" y1="638.6" x2="500.75" y2="638.6" stroke="#1a9a72" stroke-width="0.9" stroke-opacity="0.7"/>
<line x1="495.75" y1="633.82" x2="500.75" y2="633.82" stroke="#1a9a72" stroke-width="0.9" stroke-opacity="0.7"/>
<line x1="514.62" y1="638.6" x2="514.62" y2="633.82" stroke="#1a9a72" stroke-width="0.9" stroke-opacity="0.7"/>
<line x1="512.12" y1="638.6" x2="517.12" y2="638.6" stroke="#1a9a72" stroke-width="0.9" stroke-opacity="0.7"/>
<line x1="512.12" y1="633.82" x2="517.12" y2="633.82" stroke="#1a9a72" stroke-width="0.9" stroke-opacity="0.7"/>
<line x1="531" y1="639.4" x2="531" y2="633.02" stroke="#1a9a72" stroke-width="0.9" stroke-opacity="0.7"/>
<line x1="528.5" y1="639.4" x2="533.5" y2="639.4" stroke="#1a9a72" stroke-width="0.9" stroke-opacity="0.7"/>
<line x1="528.5" y1="633.02" x2="533.5" y2="633.02" stroke="#1a9a72" stroke-width="0.9" stroke-opacity="0.7"/>
<line x1="547.38" y1="639.4" x2="547.38" y2="631.42" stroke="#1a9a72" stroke-width="0.9" stroke-opacity="0.7"/>
<line x1="544.88" y1="639.4" x2="549.88" y2="639.4" stroke="#1a9a72" stroke-width="0.9" stroke-opacity="0.7"/>
<line x1="544.88" y1="631.42" x2="549.88" y2="631.42" stroke="#1a9a72" stroke-width="0.9" stroke-opacity="0.7"/>
<line x1="563.75" y1="639.4" x2="563.75" y2="633.02" stroke="#1a9a72" stroke-width="0.9" stroke-opacity="0.7"/>
<line x1="561.25" y1="639.4" x2="566.25" y2="639.4" stroke="#1a9a72" stroke-width="0.9" stroke-opacity="0.7"/>
<line x1="561.25" y1="633.02" x2="566.25" y2="633.02" stroke="#1a9a72" stroke-width="0.9" stroke-opacity="0.7"/>
<line x1="580.12" y1="648.18" x2="580.12" y2="624.24" stroke="#1a9a72" stroke-width="0.9" stroke-opacity="0.7"/>
<line x1="577.62" y1="648.18" x2="582.62" y2="648.18" stroke="#1a9a72" stroke-width="0.9" stroke-opacity="0.7"/>
<line x1="577.62" y1="624.24" x2="582.62" y2="624.24" stroke="#1a9a72" stroke-width="0.9" stroke-opacity="0.7"/>
<line x1="596.5" y1="642.59" x2="596.5" y2="629.83" stroke="#1a9a72" stroke-width="0.9" stroke-opacity="0.7"/>
<line x1="594" y1="642.59" x2="599" y2="642.59" stroke="#1a9a72" stroke-width="0.9" stroke-opacity="0.7"/>
<line x1="594" y1="629.83" x2="599" y2="629.83" stroke="#1a9a72" stroke-width="0.9" stroke-opacity="0.7"/>
<line x1="612.88" y1="642.59" x2="612.88" y2="629.83" stroke="#1a9a72" stroke-width="0.9" stroke-opacity="0.7"/>
<line x1="610.38" y1="642.59" x2="615.38" y2="642.59" stroke="#1a9a72" stroke-width="0.9" stroke-opacity="0.7"/>
<line x1="610.38" y1="629.83" x2="615.38" y2="629.83" stroke="#1a9a72" stroke-width="0.9" stroke-opacity="0.7"/>
<rect x="397.15" y="559.94" width="5.7" height="5.7" fill="#000" stroke="none" stroke-width="1"/>
<rect x="413.52" y="567.13" width="5.7" height="5.7" fill="#000" stroke="none" stroke-width="1"/>
<rect x="429.9" y="581.49" width="5.7" height="5.7" fill="#000" stroke="none" stroke-width="1"/>
<rect x="446.27" y="598.25" width="5.7" height="5.7" fill="#000" stroke="none" stroke-width="1"/>
<rect x="462.65" y="612.61" width="5.7" height="5.7" fill="#000" stroke="none" stroke-width="1"/>
<rect x="479.02" y="623.78" width="5.7" height="5.7" fill="#000" stroke="none" stroke-width="1"/>
<rect x="495.4" y="626.98" width="5.7" height="5.7" fill="#000" stroke="none" stroke-width="1"/>
<rect x="511.77" y="630.97" width="5.7" height="5.7" fill="#000" stroke="none" stroke-width="1"/>
<rect x="528.15" y="630.17" width="5.7" height="5.7" fill="#000" stroke="none" stroke-width="1"/>
<rect x="544.52" y="633.36" width="5.7" height="5.7" fill="#000" stroke="none" stroke-width="1"/>
<rect x="560.9" y="630.97" width="5.7" height="5.7" fill="#000" stroke="none" stroke-width="1"/>
<rect x="577.27" y="633.36" width="5.7" height="5.7" fill="#000" stroke="none" stroke-width="1"/>
<rect x="593.65" y="632.56" width="5.7" height="5.7" fill="#000" stroke="none" stroke-width="1"/>
<rect x="610.02" y="631.76" width="5.7" height="5.7" fill="#000" stroke="none" stroke-width="1"/>
<circle cx="400" cy="562" r="3.23" fill="#e8a317"/>
<circle cx="416.38" cy="562.79" r="3.23" fill="#e8a317"/>
<circle cx="432.75" cy="572.37" r="3.23" fill="#e8a317"/>
<circle cx="449.12" cy="599.5" r="3.23" fill="#e8a317"/>
<circle cx="465.5" cy="612.27" r="3.23" fill="#e8a317"/>
<circle cx="481.88" cy="620.25" r="3.23" fill="#e8a317"/>
<circle cx="498.25" cy="631.42" r="3.23" fill="#e8a317"/>
<circle cx="514.62" cy="632.22" r="3.23" fill="#e8a317"/>
<circle cx="531" cy="632.22" r="3.23" fill="#e8a317"/>
<circle cx="547.38" cy="631.42" r="3.23" fill="#e8a317"/>
<circle cx="563.75" cy="633.82" r="3.23" fill="#e8a317"/>
<circle cx="580.12" cy="633.82" r="3.23" fill="#e8a317"/>
<circle cx="596.5" cy="633.02" r="3.23" fill="#e8a317"/>
<circle cx="612.88" cy="633.02" r="3.23" fill="#e8a317"/>
<polygon points="396.39,565.04 403.61,565.04 400,558.58" fill="#56b4e9"/>
<polygon points="412.76,564.24 419.99,564.24 416.38,557.78" fill="#56b4e9"/>
<polygon points="429.14,574.61 436.36,574.61 432.75,568.15" fill="#56b4e9"/>
<polygon points="445.51,596.96 452.74,596.96 449.12,590.5" fill="#56b4e9"/>
<polygon points="461.89,611.32 469.11,611.32 465.5,604.86" fill="#56b4e9"/>
<polygon points="478.26,627.28 485.49,627.28 481.88,620.82" fill="#56b4e9"/>
<polygon points="494.64,636.86 501.86,636.86 498.25,630.4" fill="#56b4e9"/>
<polygon points="511.01,640.85 518.24,640.85 514.62,634.39" fill="#56b4e9"/>
<polygon points="527.39,640.05 534.61,640.05 531,633.59" fill="#56b4e9"/>
<polygon points="543.76,638.45 550.99,638.45 547.38,631.99" fill="#56b4e9"/>
<polygon points="560.14,635.26 567.36,635.26 563.75,628.8" fill="#56b4e9"/>
<polygon points="576.51,635.26 583.74,635.26 580.12,628.8" fill="#56b4e9"/>
<polygon points="592.89,639.25 600.11,639.25 596.5,632.79" fill="#56b4e9"/>
<polygon points="609.26,638.45 616.49,638.45 612.88,631.99" fill="#56b4e9"/>
<polygon points="396.39,566.94 403.61,566.94 400,573.4" fill="#1a9a72"/>
<polygon points="412.76,571.72 419.99,571.72 416.38,578.18" fill="#1a9a72"/>
<polygon points="429.14,586.09 436.36,586.09 432.75,592.55" fill="#1a9a72"/>
<polygon points="445.51,608.43 452.74,608.43 449.12,614.89" fill="#1a9a72"/>
<polygon points="461.89,629.98 469.11,629.98 465.5,636.44" fill="#1a9a72"/>
<polygon points="478.26,631.57 485.49,631.57 481.88,638.03" fill="#1a9a72"/>
<polygon points="494.64,633.17 501.86,633.17 498.25,639.63" fill="#1a9a72"/>
<polygon points="511.01,633.17 518.24,633.17 514.62,639.63" fill="#1a9a72"/>
<polygon points="527.39,633.17 534.61,633.17 531,639.63" fill="#1a9a72"/>
<polygon points="543.76,632.37 550.99,632.37 547.38,638.83" fill="#1a9a72"/>
<polygon points="560.14,633.17 567.36,633.17 563.75,639.63" fill="#1a9a72"/>
<polygon points="576.51,633.17 583.74,633.17 580.12,639.63" fill="#1a9a72"/>
<polygon points="592.89,633.17 600.11,633.17 596.5,639.63" fill="#1a9a72"/>
<polygon points="609.26,633.17 616.49,633.17 612.88,639.63" fill="#1a9a72"/>
<polyline points="398.04,563.05 399.86,563.28 401.68,563.54 403.5,563.84 405.33,564.18 407.15,564.57 408.97,565.02 410.8,565.54 412.62,566.12 414.44,566.79 416.27,567.54 418.09,568.4 419.91,569.36 421.74,570.44 423.56,571.64 425.38,572.98 427.21,574.46 429.03,576.08 430.85,577.86 432.68,579.77 434.5,581.83 436.32,584.03 438.15,586.34 439.97,588.76 441.79,591.26 443.62,593.82 445.44,596.42 447.26,599.02 449.09,601.6 450.91,604.12 452.73,606.58 454.56,608.93 456.38,611.17 458.2,613.29 460.03,615.26 461.85,617.08 463.67,618.76 465.5,620.3 467.32,621.69 469.14,622.94 470.97,624.07 472.79,625.07 474.61,625.96 476.44,626.75 478.26,627.45 480.08,628.07 481.91,628.61 483.73,629.08 485.55,629.49 487.38,629.86 489.2,630.17 491.02,630.44 492.84,630.68 494.67,630.89 496.49,631.07 498.31,631.22 500.14,631.36 501.96,631.48 503.78,631.58 505.61,631.66 507.43,631.74 509.25,631.81 511.08,631.86 512.9,631.91 514.72,631.95 516.55,631.99 518.37,632.02 520.19,632.05 522.02,632.07 523.84,632.09 525.66,632.11 527.49,632.12 529.31,632.14 531.13,632.15 532.96,632.16 534.78,632.17 536.6,632.17 538.43,632.18 540.25,632.19 542.07,632.19 543.9,632.19 545.72,632.2 547.54,632.2 549.37,632.2 551.19,632.21 553.01,632.21 554.84,632.21 556.66,632.21 558.48,632.21 560.31,632.21 562.13,632.21 563.95,632.21 565.78,632.22 567.6,632.22 569.42,632.22 571.25,632.22 573.07,632.22 574.89,632.22 576.72,632.22 578.54,632.22 580.36,632.22 582.18,632.22 584.01,632.22 585.83,632.22 587.65,632.22 589.48,632.22 591.3,632.22 593.12,632.22 594.95,632.22 596.77,632.22 598.59,632.22 600.42,632.22 602.24,632.22 604.06,632.22 605.89,632.22 607.71,632.22 609.53,632.22 611.36,632.22 613.18,632.22 615,632.22" fill="none" stroke="#000000" stroke-width="1.5" stroke-linejoin="round" stroke-linecap="round"/>
<polyline points="398.04,563.08 399.86,563.35 401.68,563.64 403.5,563.98 405.33,564.37 407.15,564.8 408.97,565.29 410.8,565.84 412.62,566.46 414.44,567.15 416.27,567.92 418.09,568.78 419.91,569.74 421.74,570.8 423.56,571.97 425.38,573.26 427.21,574.66 429.03,576.18 430.85,577.82 432.68,579.58 434.5,581.46 436.32,583.44 438.15,585.52 439.97,587.69 441.79,589.93 443.62,592.22 445.44,594.54 447.26,596.87 449.09,599.2 450.91,601.5 452.73,603.74 454.56,605.93 456.38,608.02 458.2,610.03 460.03,611.92 461.85,613.7 463.67,615.36 465.5,616.91 467.32,618.33 469.14,619.63 470.97,620.82 472.79,621.9 474.61,622.88 476.44,623.75 478.26,624.54 480.08,625.25 481.91,625.88 483.73,626.44 485.55,626.94 487.38,627.38 489.2,627.77 491.02,628.12 492.84,628.43 494.67,628.69 496.49,628.93 498.31,629.14 500.14,629.32 501.96,629.48 503.78,629.63 505.61,629.75 507.43,629.86 509.25,629.95 511.08,630.04 512.9,630.11 514.72,630.18 516.55,630.23 518.37,630.28 520.19,630.32 522.02,630.36 523.84,630.39 525.66,630.42 527.49,630.45 529.31,630.47 531.13,630.49 532.96,630.51 534.78,630.52 536.6,630.53 538.43,630.55 540.25,630.56 542.07,630.56 543.9,630.57 545.72,630.58 547.54,630.58 549.37,630.59 551.19,630.59 553.01,630.6 554.84,630.6 556.66,630.6 558.48,630.61 560.31,630.61 562.13,630.61 563.95,630.61 565.78,630.61 567.6,630.61 569.42,630.62 571.25,630.62 573.07,630.62 574.89,630.62 576.72,630.62 578.54,630.62 580.36,630.62 582.18,630.62 584.01,630.62 585.83,630.62 587.65,630.62 589.48,630.62 591.3,630.62 593.12,630.62 594.95,630.62 596.77,630.62 598.59,630.62 600.42,630.62 602.24,630.62 604.06,630.62 605.89,630.62 607.71,630.62 609.53,630.62 611.36,630.62 613.18,630.62 615,630.62" fill="none" stroke="#e8a317" stroke-width="1.5" stroke-linejoin="round" stroke-linecap="round"/>
<polyline points="398.04,562.3 399.86,562.55 401.68,562.83 403.5,563.16 405.33,563.54 407.15,563.97 408.97,564.47 410.8,565.05 412.62,565.71 414.44,566.46 416.27,567.32 418.09,568.29 419.91,569.39 421.74,570.63 423.56,572.01 425.38,573.55 427.21,575.25 429.03,577.12 430.85,579.15 432.68,581.34 434.5,583.68 436.32,586.17 438.15,588.77 439.97,591.47 441.79,594.23 443.62,597.03 445.44,599.84 447.26,602.61 449.09,605.32 450.91,607.95 452.73,610.46 454.56,612.83 456.38,615.05 458.2,617.12 460.03,619.01 461.85,620.75 463.67,622.32 465.5,623.73 467.32,624.99 469.14,626.12 470.97,627.12 472.79,628 474.61,628.77 476.44,629.44 478.26,630.04 480.08,630.55 481.91,631 483.73,631.39 485.55,631.72 487.38,632.01 489.2,632.27 491.02,632.48 492.84,632.67 494.67,632.83 496.49,632.97 498.31,633.09 500.14,633.19 501.96,633.28 503.78,633.36 505.61,633.42 507.43,633.48 509.25,633.53 511.08,633.57 512.9,633.6 514.72,633.63 516.55,633.66 518.37,633.68 520.19,633.7 522.02,633.72 523.84,633.73 525.66,633.74 527.49,633.75 529.31,633.76 531.13,633.77 532.96,633.78 534.78,633.78 536.6,633.79 538.43,633.79 540.25,633.79 542.07,633.8 543.9,633.8 545.72,633.8 547.54,633.8 549.37,633.81 551.19,633.81 553.01,633.81 554.84,633.81 556.66,633.81 558.48,633.81 560.31,633.81 562.13,633.81 563.95,633.81 565.78,633.81 567.6,633.81 569.42,633.81 571.25,633.81 573.07,633.81 574.89,633.81 576.72,633.82 578.54,633.82 580.36,633.82 582.18,633.82 584.01,633.82 585.83,633.82 587.65,633.82 589.48,633.82 591.3,633.82 593.12,633.82 594.95,633.82 596.77,633.82 598.59,633.82 600.42,633.82 602.24,633.82 604.06,633.82 605.89,633.82 607.71,633.82 609.53,633.82 611.36,633.82 613.18,633.82 615,633.82" fill="none" stroke="#56b4e9" stroke-width="1.5" stroke-linejoin="round" stroke-linecap="round"/>
<polyline points="398.04,571.12 399.86,571.47 401.68,571.86 403.5,572.3 405.33,572.79 407.15,573.34 408.97,573.95 410.8,574.63 412.62,575.38 414.44,576.2 416.27,577.12 418.09,578.12 419.91,579.22 421.74,580.41 423.56,581.71 425.38,583.11 427.21,584.61 429.03,586.21 430.85,587.92 432.68,589.71 434.5,591.6 436.32,593.56 438.15,595.59 439.97,597.66 441.79,599.78 443.62,601.92 445.44,604.06 447.26,606.19 449.09,608.29 450.91,610.35 452.73,612.34 454.56,614.27 456.38,616.12 458.2,617.87 460.03,619.53 461.85,621.09 463.67,622.54 465.5,623.89 467.32,625.14 469.14,626.29 470.97,627.34 472.79,628.3 474.61,629.18 476.44,629.97 478.26,630.69 480.08,631.33 481.91,631.91 483.73,632.43 485.55,632.9 487.38,633.31 489.2,633.69 491.02,634.02 492.84,634.31 494.67,634.58 496.49,634.81 498.31,635.02 500.14,635.2 501.96,635.37 503.78,635.51 505.61,635.64 507.43,635.75 509.25,635.85 511.08,635.94 512.9,636.02 514.72,636.09 516.55,636.15 518.37,636.2 520.19,636.25 522.02,636.29 523.84,636.33 525.66,636.36 527.49,636.39 529.31,636.42 531.13,636.44 532.96,636.46 534.78,636.48 536.6,636.49 538.43,636.51 540.25,636.52 542.07,636.53 543.9,636.54 545.72,636.55 547.54,636.55 549.37,636.56 551.19,636.57 553.01,636.57 554.84,636.58 556.66,636.58 558.48,636.58 560.31,636.59 562.13,636.59 563.95,636.59 565.78,636.59 567.6,636.6 569.42,636.6 571.25,636.6 573.07,636.6 574.89,636.6 576.72,636.6 578.54,636.6 580.36,636.6 582.18,636.6 584.01,636.6 585.83,636.61 587.65,636.61 589.48,636.61 591.3,636.61 593.12,636.61 594.95,636.61 596.77,636.61 598.59,636.61 600.42,636.61 602.24,636.61 604.06,636.61 605.89,636.61 607.71,636.61 609.53,636.61 611.36,636.61 613.18,636.61 615,636.61" fill="none" stroke="#1a9a72" stroke-width="1.5" stroke-linejoin="round" stroke-linecap="round"/>
<rect x="390.6" y="545.4" width="232" height="102.1" fill="none" stroke="#3a3a3a" stroke-width="0.9"/>
<line x1="388.1" y1="640.2" x2="390.6" y2="640.2" stroke="#3a3a3a" stroke-width="0.9"/>
<text transform="translate(387 643.6) scale(1 1.08)" font-size="9.5" text-anchor="end" font-weight="normal" fill="#000" font-family="&quot;Liberation Sans&quot;, sans-serif" stroke="#000" stroke-width="0.28">0</text>
<line x1="388.1" y1="600.3" x2="390.6" y2="600.3" stroke="#3a3a3a" stroke-width="0.9"/>
<text transform="translate(387 603.7) scale(1 1.08)" font-size="9.5" text-anchor="end" font-weight="normal" fill="#000" font-family="&quot;Liberation Sans&quot;, sans-serif" stroke="#000" stroke-width="0.28">50</text>
<line x1="388.1" y1="560.4" x2="390.6" y2="560.4" stroke="#3a3a3a" stroke-width="0.9"/>
<text transform="translate(387 563.8) scale(1 1.08)" font-size="9.5" text-anchor="end" font-weight="normal" fill="#000" font-family="&quot;Liberation Sans&quot;, sans-serif" stroke="#000" stroke-width="0.28">100</text>
<line x1="389.1" y1="620.25" x2="390.6" y2="620.25" stroke="#3a3a3a" stroke-width="0.9"/>
<line x1="389.1" y1="580.35" x2="390.6" y2="580.35" stroke="#3a3a3a" stroke-width="0.9"/>
<line x1="621.1" y1="620.25" x2="622.6" y2="620.25" stroke="#3a3a3a" stroke-width="0.9"/>
<line x1="621.1" y1="600.3" x2="622.6" y2="600.3" stroke="#3a3a3a" stroke-width="0.9"/>
<line x1="621.1" y1="580.35" x2="622.6" y2="580.35" stroke="#3a3a3a" stroke-width="0.9"/>
<line x1="621.1" y1="560.4" x2="622.6" y2="560.4" stroke="#3a3a3a" stroke-width="0.9"/>
<line x1="400" y1="647.5" x2="400" y2="649.8" stroke="#3a3a3a" stroke-width="0.9"/>
<line x1="400" y1="545.4" x2="400" y2="547.6" stroke="#3a3a3a" stroke-width="0.9"/>
<text transform="translate(400 659.5) scale(1 1.08)" font-size="9.5" text-anchor="middle" font-weight="normal" fill="#000" font-family="&quot;Liberation Sans&quot;, sans-serif" stroke="#000" stroke-width="0.28">1000</text>
<line x1="422.89" y1="647.5" x2="422.89" y2="649" stroke="#3a3a3a" stroke-width="0.75"/>
<line x1="422.89" y1="545.4" x2="422.89" y2="547.1" stroke="#3a3a3a" stroke-width="0.75"/>
<line x1="417.12" y1="647.5" x2="417.12" y2="649" stroke="#3a3a3a" stroke-width="0.75"/>
<line x1="417.12" y1="545.4" x2="417.12" y2="547.1" stroke="#3a3a3a" stroke-width="0.75"/>
<line x1="413.03" y1="647.5" x2="413.03" y2="649" stroke="#3a3a3a" stroke-width="0.75"/>
<line x1="413.03" y1="545.4" x2="413.03" y2="547.1" stroke="#3a3a3a" stroke-width="0.75"/>
<line x1="409.86" y1="647.5" x2="409.86" y2="649" stroke="#3a3a3a" stroke-width="0.75"/>
<line x1="409.86" y1="545.4" x2="409.86" y2="547.1" stroke="#3a3a3a" stroke-width="0.75"/>
<line x1="407.27" y1="647.5" x2="407.27" y2="649" stroke="#3a3a3a" stroke-width="0.75"/>
<line x1="407.27" y1="545.4" x2="407.27" y2="547.1" stroke="#3a3a3a" stroke-width="0.75"/>
<line x1="405.07" y1="647.5" x2="405.07" y2="649" stroke="#3a3a3a" stroke-width="0.75"/>
<line x1="405.07" y1="545.4" x2="405.07" y2="547.1" stroke="#3a3a3a" stroke-width="0.75"/>
<line x1="403.17" y1="647.5" x2="403.17" y2="649" stroke="#3a3a3a" stroke-width="0.75"/>
<line x1="403.17" y1="545.4" x2="403.17" y2="547.1" stroke="#3a3a3a" stroke-width="0.75"/>
<line x1="401.5" y1="647.5" x2="401.5" y2="649" stroke="#3a3a3a" stroke-width="0.75"/>
<line x1="401.5" y1="545.4" x2="401.5" y2="547.1" stroke="#3a3a3a" stroke-width="0.75"/>
<line x1="432.75" y1="647.5" x2="432.75" y2="649.8" stroke="#3a3a3a" stroke-width="0.9"/>
<line x1="432.75" y1="545.4" x2="432.75" y2="547.6" stroke="#3a3a3a" stroke-width="0.9"/>
<text transform="translate(432.75 659.5) scale(1 1.08)" font-size="9.5" text-anchor="middle" font-weight="normal" fill="#000" font-family="&quot;Liberation Sans&quot;, sans-serif" stroke="#000" stroke-width="0.28">100</text>
<line x1="455.64" y1="647.5" x2="455.64" y2="649" stroke="#3a3a3a" stroke-width="0.75"/>
<line x1="455.64" y1="545.4" x2="455.64" y2="547.1" stroke="#3a3a3a" stroke-width="0.75"/>
<line x1="449.87" y1="647.5" x2="449.87" y2="649" stroke="#3a3a3a" stroke-width="0.75"/>
<line x1="449.87" y1="545.4" x2="449.87" y2="547.1" stroke="#3a3a3a" stroke-width="0.75"/>
<line x1="445.78" y1="647.5" x2="445.78" y2="649" stroke="#3a3a3a" stroke-width="0.75"/>
<line x1="445.78" y1="545.4" x2="445.78" y2="547.1" stroke="#3a3a3a" stroke-width="0.75"/>
<line x1="442.61" y1="647.5" x2="442.61" y2="649" stroke="#3a3a3a" stroke-width="0.75"/>
<line x1="442.61" y1="545.4" x2="442.61" y2="547.1" stroke="#3a3a3a" stroke-width="0.75"/>
<line x1="440.02" y1="647.5" x2="440.02" y2="649" stroke="#3a3a3a" stroke-width="0.75"/>
<line x1="440.02" y1="545.4" x2="440.02" y2="547.1" stroke="#3a3a3a" stroke-width="0.75"/>
<line x1="437.82" y1="647.5" x2="437.82" y2="649" stroke="#3a3a3a" stroke-width="0.75"/>
<line x1="437.82" y1="545.4" x2="437.82" y2="547.1" stroke="#3a3a3a" stroke-width="0.75"/>
<line x1="435.92" y1="647.5" x2="435.92" y2="649" stroke="#3a3a3a" stroke-width="0.75"/>
<line x1="435.92" y1="545.4" x2="435.92" y2="547.1" stroke="#3a3a3a" stroke-width="0.75"/>
<line x1="434.25" y1="647.5" x2="434.25" y2="649" stroke="#3a3a3a" stroke-width="0.75"/>
<line x1="434.25" y1="545.4" x2="434.25" y2="547.1" stroke="#3a3a3a" stroke-width="0.75"/>
<line x1="465.5" y1="647.5" x2="465.5" y2="649.8" stroke="#3a3a3a" stroke-width="0.9"/>
<line x1="465.5" y1="545.4" x2="465.5" y2="547.6" stroke="#3a3a3a" stroke-width="0.9"/>
<text transform="translate(465.5 659.5) scale(1 1.08)" font-size="9.5" text-anchor="middle" font-weight="normal" fill="#000" font-family="&quot;Liberation Sans&quot;, sans-serif" stroke="#000" stroke-width="0.28">10</text>
<line x1="488.39" y1="647.5" x2="488.39" y2="649" stroke="#3a3a3a" stroke-width="0.75"/>
<line x1="488.39" y1="545.4" x2="488.39" y2="547.1" stroke="#3a3a3a" stroke-width="0.75"/>
<line x1="482.62" y1="647.5" x2="482.62" y2="649" stroke="#3a3a3a" stroke-width="0.75"/>
<line x1="482.62" y1="545.4" x2="482.62" y2="547.1" stroke="#3a3a3a" stroke-width="0.75"/>
<line x1="478.53" y1="647.5" x2="478.53" y2="649" stroke="#3a3a3a" stroke-width="0.75"/>
<line x1="478.53" y1="545.4" x2="478.53" y2="547.1" stroke="#3a3a3a" stroke-width="0.75"/>
<line x1="475.36" y1="647.5" x2="475.36" y2="649" stroke="#3a3a3a" stroke-width="0.75"/>
<line x1="475.36" y1="545.4" x2="475.36" y2="547.1" stroke="#3a3a3a" stroke-width="0.75"/>
<line x1="472.77" y1="647.5" x2="472.77" y2="649" stroke="#3a3a3a" stroke-width="0.75"/>
<line x1="472.77" y1="545.4" x2="472.77" y2="547.1" stroke="#3a3a3a" stroke-width="0.75"/>
<line x1="470.57" y1="647.5" x2="470.57" y2="649" stroke="#3a3a3a" stroke-width="0.75"/>
<line x1="470.57" y1="545.4" x2="470.57" y2="547.1" stroke="#3a3a3a" stroke-width="0.75"/>
<line x1="468.67" y1="647.5" x2="468.67" y2="649" stroke="#3a3a3a" stroke-width="0.75"/>
<line x1="468.67" y1="545.4" x2="468.67" y2="547.1" stroke="#3a3a3a" stroke-width="0.75"/>
<line x1="467" y1="647.5" x2="467" y2="649" stroke="#3a3a3a" stroke-width="0.75"/>
<line x1="467" y1="545.4" x2="467" y2="547.1" stroke="#3a3a3a" stroke-width="0.75"/>
<line x1="498.25" y1="647.5" x2="498.25" y2="649.8" stroke="#3a3a3a" stroke-width="0.9"/>
<line x1="498.25" y1="545.4" x2="498.25" y2="547.6" stroke="#3a3a3a" stroke-width="0.9"/>
<text transform="translate(498.25 659.5) scale(1 1.08)" font-size="9.5" text-anchor="middle" font-weight="normal" fill="#000" font-family="&quot;Liberation Sans&quot;, sans-serif" stroke="#000" stroke-width="0.28">1</text>
<line x1="521.14" y1="647.5" x2="521.14" y2="649" stroke="#3a3a3a" stroke-width="0.75"/>
<line x1="521.14" y1="545.4" x2="521.14" y2="547.1" stroke="#3a3a3a" stroke-width="0.75"/>
<line x1="515.37" y1="647.5" x2="515.37" y2="649" stroke="#3a3a3a" stroke-width="0.75"/>
<line x1="515.37" y1="545.4" x2="515.37" y2="547.1" stroke="#3a3a3a" stroke-width="0.75"/>
<line x1="511.28" y1="647.5" x2="511.28" y2="649" stroke="#3a3a3a" stroke-width="0.75"/>
<line x1="511.28" y1="545.4" x2="511.28" y2="547.1" stroke="#3a3a3a" stroke-width="0.75"/>
<line x1="508.11" y1="647.5" x2="508.11" y2="649" stroke="#3a3a3a" stroke-width="0.75"/>
<line x1="508.11" y1="545.4" x2="508.11" y2="547.1" stroke="#3a3a3a" stroke-width="0.75"/>
<line x1="505.52" y1="647.5" x2="505.52" y2="649" stroke="#3a3a3a" stroke-width="0.75"/>
<line x1="505.52" y1="545.4" x2="505.52" y2="547.1" stroke="#3a3a3a" stroke-width="0.75"/>
<line x1="503.32" y1="647.5" x2="503.32" y2="649" stroke="#3a3a3a" stroke-width="0.75"/>
<line x1="503.32" y1="545.4" x2="503.32" y2="547.1" stroke="#3a3a3a" stroke-width="0.75"/>
<line x1="501.42" y1="647.5" x2="501.42" y2="649" stroke="#3a3a3a" stroke-width="0.75"/>
<line x1="501.42" y1="545.4" x2="501.42" y2="547.1" stroke="#3a3a3a" stroke-width="0.75"/>
<line x1="499.75" y1="647.5" x2="499.75" y2="649" stroke="#3a3a3a" stroke-width="0.75"/>
<line x1="499.75" y1="545.4" x2="499.75" y2="547.1" stroke="#3a3a3a" stroke-width="0.75"/>
<line x1="531" y1="647.5" x2="531" y2="649.8" stroke="#3a3a3a" stroke-width="0.9"/>
<line x1="531" y1="545.4" x2="531" y2="547.6" stroke="#3a3a3a" stroke-width="0.9"/>
<text transform="translate(531 659.5) scale(1 1.08)" font-size="9.5" text-anchor="middle" font-weight="normal" fill="#000" font-family="&quot;Liberation Sans&quot;, sans-serif" stroke="#000" stroke-width="0.28">0.1</text>
<line x1="553.89" y1="647.5" x2="553.89" y2="649" stroke="#3a3a3a" stroke-width="0.75"/>
<line x1="553.89" y1="545.4" x2="553.89" y2="547.1" stroke="#3a3a3a" stroke-width="0.75"/>
<line x1="548.12" y1="647.5" x2="548.12" y2="649" stroke="#3a3a3a" stroke-width="0.75"/>
<line x1="548.12" y1="545.4" x2="548.12" y2="547.1" stroke="#3a3a3a" stroke-width="0.75"/>
<line x1="544.03" y1="647.5" x2="544.03" y2="649" stroke="#3a3a3a" stroke-width="0.75"/>
<line x1="544.03" y1="545.4" x2="544.03" y2="547.1" stroke="#3a3a3a" stroke-width="0.75"/>
<line x1="540.86" y1="647.5" x2="540.86" y2="649" stroke="#3a3a3a" stroke-width="0.75"/>
<line x1="540.86" y1="545.4" x2="540.86" y2="547.1" stroke="#3a3a3a" stroke-width="0.75"/>
<line x1="538.27" y1="647.5" x2="538.27" y2="649" stroke="#3a3a3a" stroke-width="0.75"/>
<line x1="538.27" y1="545.4" x2="538.27" y2="547.1" stroke="#3a3a3a" stroke-width="0.75"/>
<line x1="536.07" y1="647.5" x2="536.07" y2="649" stroke="#3a3a3a" stroke-width="0.75"/>
<line x1="536.07" y1="545.4" x2="536.07" y2="547.1" stroke="#3a3a3a" stroke-width="0.75"/>
<line x1="534.17" y1="647.5" x2="534.17" y2="649" stroke="#3a3a3a" stroke-width="0.75"/>
<line x1="534.17" y1="545.4" x2="534.17" y2="547.1" stroke="#3a3a3a" stroke-width="0.75"/>
<line x1="532.5" y1="647.5" x2="532.5" y2="649" stroke="#3a3a3a" stroke-width="0.75"/>
<line x1="532.5" y1="545.4" x2="532.5" y2="547.1" stroke="#3a3a3a" stroke-width="0.75"/>
<line x1="563.75" y1="647.5" x2="563.75" y2="649.8" stroke="#3a3a3a" stroke-width="0.9"/>
<line x1="563.75" y1="545.4" x2="563.75" y2="547.6" stroke="#3a3a3a" stroke-width="0.9"/>
<text transform="translate(563.75 659.5) scale(1 1.08)" font-size="9.5" text-anchor="middle" font-weight="normal" fill="#000" font-family="&quot;Liberation Sans&quot;, sans-serif" stroke="#000" stroke-width="0.28">0.01</text>
<line x1="586.64" y1="647.5" x2="586.64" y2="649" stroke="#3a3a3a" stroke-width="0.75"/>
<line x1="586.64" y1="545.4" x2="586.64" y2="547.1" stroke="#3a3a3a" stroke-width="0.75"/>
<line x1="580.87" y1="647.5" x2="580.87" y2="649" stroke="#3a3a3a" stroke-width="0.75"/>
<line x1="580.87" y1="545.4" x2="580.87" y2="547.1" stroke="#3a3a3a" stroke-width="0.75"/>
<line x1="576.78" y1="647.5" x2="576.78" y2="649" stroke="#3a3a3a" stroke-width="0.75"/>
<line x1="576.78" y1="545.4" x2="576.78" y2="547.1" stroke="#3a3a3a" stroke-width="0.75"/>
<line x1="573.61" y1="647.5" x2="573.61" y2="649" stroke="#3a3a3a" stroke-width="0.75"/>
<line x1="573.61" y1="545.4" x2="573.61" y2="547.1" stroke="#3a3a3a" stroke-width="0.75"/>
<line x1="571.02" y1="647.5" x2="571.02" y2="649" stroke="#3a3a3a" stroke-width="0.75"/>
<line x1="571.02" y1="545.4" x2="571.02" y2="547.1" stroke="#3a3a3a" stroke-width="0.75"/>
<line x1="568.82" y1="647.5" x2="568.82" y2="649" stroke="#3a3a3a" stroke-width="0.75"/>
<line x1="568.82" y1="545.4" x2="568.82" y2="547.1" stroke="#3a3a3a" stroke-width="0.75"/>
<line x1="566.92" y1="647.5" x2="566.92" y2="649" stroke="#3a3a3a" stroke-width="0.75"/>
<line x1="566.92" y1="545.4" x2="566.92" y2="547.1" stroke="#3a3a3a" stroke-width="0.75"/>
<line x1="565.25" y1="647.5" x2="565.25" y2="649" stroke="#3a3a3a" stroke-width="0.75"/>
<line x1="565.25" y1="545.4" x2="565.25" y2="547.1" stroke="#3a3a3a" stroke-width="0.75"/>
<line x1="596.5" y1="647.5" x2="596.5" y2="649.8" stroke="#3a3a3a" stroke-width="0.9"/>
<line x1="596.5" y1="545.4" x2="596.5" y2="547.6" stroke="#3a3a3a" stroke-width="0.9"/>
<text transform="translate(596.5 659.5) scale(1 1.08)" font-size="9.5" text-anchor="middle" font-weight="normal" fill="#000" font-family="&quot;Liberation Sans&quot;, sans-serif" stroke="#000" stroke-width="0.28">0.001</text>
<line x1="619.39" y1="647.5" x2="619.39" y2="649" stroke="#3a3a3a" stroke-width="0.75"/>
<line x1="619.39" y1="545.4" x2="619.39" y2="547.1" stroke="#3a3a3a" stroke-width="0.75"/>
<line x1="613.62" y1="647.5" x2="613.62" y2="649" stroke="#3a3a3a" stroke-width="0.75"/>
<line x1="613.62" y1="545.4" x2="613.62" y2="547.1" stroke="#3a3a3a" stroke-width="0.75"/>
<line x1="609.53" y1="647.5" x2="609.53" y2="649" stroke="#3a3a3a" stroke-width="0.75"/>
<line x1="609.53" y1="545.4" x2="609.53" y2="547.1" stroke="#3a3a3a" stroke-width="0.75"/>
<line x1="606.36" y1="647.5" x2="606.36" y2="649" stroke="#3a3a3a" stroke-width="0.75"/>
<line x1="606.36" y1="545.4" x2="606.36" y2="547.1" stroke="#3a3a3a" stroke-width="0.75"/>
<line x1="603.77" y1="647.5" x2="603.77" y2="649" stroke="#3a3a3a" stroke-width="0.75"/>
<line x1="603.77" y1="545.4" x2="603.77" y2="547.1" stroke="#3a3a3a" stroke-width="0.75"/>
<line x1="601.57" y1="647.5" x2="601.57" y2="649" stroke="#3a3a3a" stroke-width="0.75"/>
<line x1="601.57" y1="545.4" x2="601.57" y2="547.1" stroke="#3a3a3a" stroke-width="0.75"/>
<line x1="599.67" y1="647.5" x2="599.67" y2="649" stroke="#3a3a3a" stroke-width="0.75"/>
<line x1="599.67" y1="545.4" x2="599.67" y2="547.1" stroke="#3a3a3a" stroke-width="0.75"/>
<line x1="598" y1="647.5" x2="598" y2="649" stroke="#3a3a3a" stroke-width="0.75"/>
<line x1="598" y1="545.4" x2="598" y2="547.1" stroke="#3a3a3a" stroke-width="0.75"/>
<text transform="translate(506.1 673.7) scale(1 1.08)" font-size="9.8" text-anchor="middle" font-weight="normal" fill="#000" font-family="&quot;Liberation Sans&quot;, sans-serif" stroke="#000" stroke-width="0.28">Fab-LCB1 concentration (nM)</text>
<text transform="translate(353.9 596.95) rotate(-90) scale(1 1.08)" font-size="9.8" text-anchor="middle" font-weight="normal" fill="#000" font-family="&quot;Liberation Sans&quot;, sans-serif" stroke="#000" stroke-width="0.28">SARS-CoV-2 B.1.1.7</text>
<text transform="translate(364.7 596.95) rotate(-90) scale(1 1.08)" font-size="9.9" text-anchor="middle" font-weight="normal" fill="#000" font-family="&quot;Liberation Sans&quot;, sans-serif" stroke="#000" stroke-width="0.28">neutralization (%)</text>
<rect x="526.06" y="555.16" width="5.88" height="5.88" fill="#000" stroke="none" stroke-width="1"/>
<text transform="translate(543.3 561) scale(1 1.08)" font-size="9.6" text-anchor="start" font-weight="normal" fill="#000" font-family="&quot;Liberation Sans&quot;, sans-serif" stroke="#000" stroke-width="0.28">trast-LCB1</text>
<circle cx="529" cy="570.3" r="3.33" fill="#e8a317"/>
<text transform="translate(543.3 573.2) scale(1 1.08)" font-size="9.6" text-anchor="start" font-weight="normal" fill="#000" font-family="&quot;Liberation Sans&quot;, sans-serif" stroke="#000" stroke-width="0.28">32H109L-LCB1</text>
<polygon points="525.28,585.84 532.72,585.84 529,579.17" fill="#56b4e9"/>
<text transform="translate(543.3 585.6) scale(1 1.08)" font-size="9.6" text-anchor="start" font-weight="normal" fill="#000" font-family="&quot;Liberation Sans&quot;, sans-serif" stroke="#000" stroke-width="0.28">PGT145-LCB1</text>
<polygon points="525.28,591.76 532.72,591.76 529,598.43" fill="#1a9a72"/>
<text transform="translate(543.3 597.8) scale(1 1.08)" font-size="9.6" text-anchor="start" font-weight="normal" fill="#000" font-family="&quot;Liberation Sans&quot;, sans-serif" stroke="#000" stroke-width="0.28">NC-Cow1-LCB1</text>
</svg>
</body></html>
